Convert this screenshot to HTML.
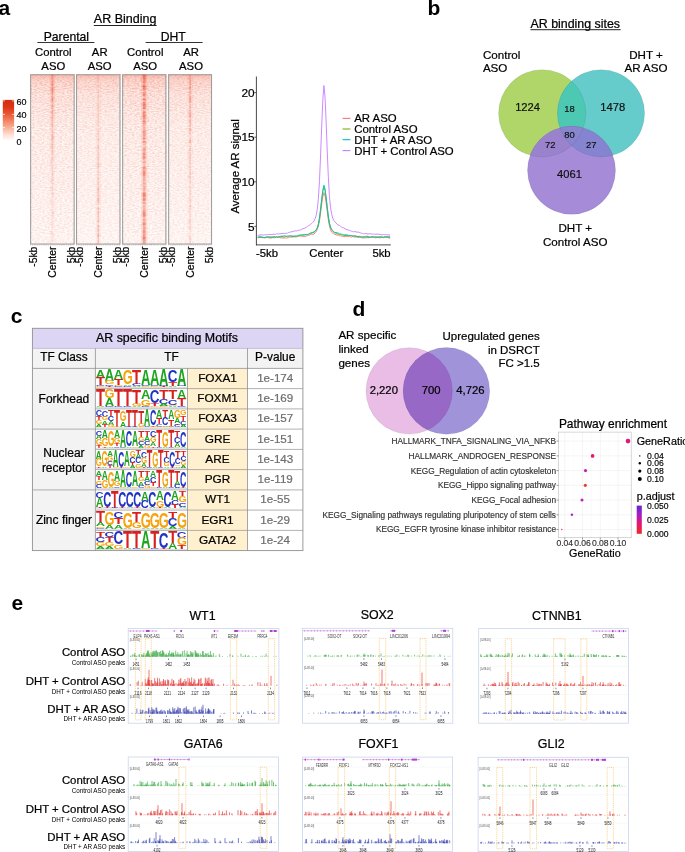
<!DOCTYPE html>
<html><head><meta charset="utf-8"><style>
html,body{margin:0;padding:0;background:#fff;overflow:hidden;}
svg{display:block;font-family:"Liberation Sans", sans-serif;will-change:transform;}
</style></head><body>
<svg width="685" height="852" viewBox="0 0 685 852">
<text x="-1.50" y="14.60" font-size="21" font-weight="bold">a</text>
<text x="427.60" y="15.00" font-size="21" font-weight="bold">b</text>
<text x="10.80" y="322.60" font-size="21" font-weight="bold">c</text>
<text x="352.60" y="315.70" font-size="21" font-weight="bold">d</text>
<text x="11.60" y="609.80" font-size="21" font-weight="bold">e</text>
<text x="93.80" y="23.20" font-size="12.5" stroke="#000" stroke-width="0.24">AR Binding</text>
<rect x="93.8" y="25" width="62.8" height="1" fill="#222"/>
<text x="66.40" y="40.80" font-size="12.2" text-anchor="middle" stroke="#000" stroke-width="0.23">Parental</text>
<rect x="37.4" y="42" width="57" height="1" fill="#333"/>
<text x="173.20" y="40.80" font-size="12.2" text-anchor="middle" stroke="#000" stroke-width="0.23">DHT</text>
<rect x="145.6" y="42" width="57" height="1" fill="#333"/>
<text x="53.30" y="56.40" font-size="11.3" text-anchor="middle" stroke="#000" stroke-width="0.22">Control</text>
<text x="53.30" y="69.90" font-size="11.3" text-anchor="middle" stroke="#000" stroke-width="0.22">ASO</text>
<text x="99.70" y="56.40" font-size="11.3" text-anchor="middle" stroke="#000" stroke-width="0.22">AR</text>
<text x="99.70" y="69.90" font-size="11.3" text-anchor="middle" stroke="#000" stroke-width="0.22">ASO</text>
<text x="145.20" y="56.40" font-size="11.3" text-anchor="middle" stroke="#000" stroke-width="0.22">Control</text>
<text x="145.20" y="69.90" font-size="11.3" text-anchor="middle" stroke="#000" stroke-width="0.22">ASO</text>
<text x="191.00" y="56.40" font-size="11.3" text-anchor="middle" stroke="#000" stroke-width="0.22">AR</text>
<text x="191.00" y="69.90" font-size="11.3" text-anchor="middle" stroke="#000" stroke-width="0.22">ASO</text>
<defs>
<filter id="hn" x="0" y="0" width="1" height="1" color-interpolation-filters="sRGB">
<feTurbulence type="fractalNoise" baseFrequency="0.4 0.95" numOctaves="2" seed="4" result="t"/>
<feColorMatrix in="t" type="matrix" values="0 0 0 0 0.94  0 0 0 0 0.42  0 0 0 0 0.32  2.6 0 0 0 -0.95"/>
</filter>
<filter id="bb" x="-1" y="-0.1" width="3" height="1.2"><feGaussianBlur stdDeviation="0.7 0.25"/></filter>
<linearGradient id="hv" x1="0" y1="0" x2="0" y2="1">
<stop offset="0" stop-color="#ee5a40" stop-opacity="0.34"/>
<stop offset="0.035" stop-color="#ee5a40" stop-opacity="0.17"/>
<stop offset="0.12" stop-color="#ee5a40" stop-opacity="0.08"/>
<stop offset="0.3" stop-color="#ee5a40" stop-opacity="0.03"/>
<stop offset="0.6" stop-color="#ee5a40" stop-opacity="0.02"/>
<stop offset="1" stop-color="#ee5a40" stop-opacity="0.0"/>
</linearGradient>
<linearGradient id="wf" x1="0" y1="0" x2="0" y2="1">
<stop offset="0" stop-color="#fff" stop-opacity="0.0"/>
<stop offset="0.12" stop-color="#fff" stop-opacity="0.15"/>
<stop offset="0.4" stop-color="#fff" stop-opacity="0.35"/>
<stop offset="1" stop-color="#fff" stop-opacity="0.5"/>
</linearGradient>
<linearGradient id="cb" x1="0" y1="0" x2="0" y2="1">
<stop offset="0" stop-color="#d42a12"/>
<stop offset="0.18" stop-color="#dc3617"/>
<stop offset="0.35" stop-color="#ea5a33"/>
<stop offset="0.62" stop-color="#f7a083"/>
<stop offset="0.85" stop-color="#fde0d6"/>
<stop offset="1" stop-color="#ffffff"/>
</linearGradient>
</defs>
<rect x="30.3" y="74.4" width="44.2" height="170.0" fill="#fef7f4"/>
<rect x="30.3" y="74.4" width="44.2" height="170.0" filter="url(#hn)" opacity="0.34"/>
<rect x="30.3" y="74.4" width="44.2" height="170.0" fill="url(#wf)"/>
<rect x="30.3" y="74.4" width="44.2" height="170.0" fill="url(#hv)"/>
<g filter="url(#bb)">
<rect x="51.5" y="74.4" width="1.8" height="2.0" fill="#ec4a30" opacity="0.60"/>
<rect x="49.7" y="74.4" width="5.4" height="2.0" fill="#ee6a50" opacity="0.20"/>
<rect x="51.5" y="76.4" width="1.8" height="1.4" fill="#ec4a30" opacity="0.33"/>
<rect x="49.7" y="76.4" width="5.4" height="1.4" fill="#ee6a50" opacity="0.11"/>
<rect x="51.5" y="77.8" width="1.8" height="1.5" fill="#ec4a30" opacity="0.40"/>
<rect x="49.7" y="77.8" width="5.4" height="1.5" fill="#ee6a50" opacity="0.13"/>
<rect x="51.5" y="79.3" width="1.8" height="1.9" fill="#ec4a30" opacity="0.34"/>
<rect x="49.7" y="79.3" width="5.4" height="1.9" fill="#ee6a50" opacity="0.11"/>
<rect x="51.5" y="81.2" width="1.8" height="1.5" fill="#ec4a30" opacity="0.46"/>
<rect x="49.7" y="81.2" width="5.4" height="1.5" fill="#ee6a50" opacity="0.15"/>
<rect x="51.5" y="82.7" width="1.8" height="2.1" fill="#ec4a30" opacity="0.42"/>
<rect x="49.7" y="82.7" width="5.4" height="2.1" fill="#ee6a50" opacity="0.14"/>
<rect x="51.5" y="84.7" width="1.8" height="1.2" fill="#ec4a30" opacity="0.52"/>
<rect x="49.7" y="84.7" width="5.4" height="1.2" fill="#ee6a50" opacity="0.17"/>
<rect x="51.5" y="85.9" width="1.8" height="1.7" fill="#ec4a30" opacity="0.29"/>
<rect x="49.7" y="85.9" width="5.4" height="1.7" fill="#ee6a50" opacity="0.10"/>
<rect x="51.5" y="87.6" width="1.8" height="2.1" fill="#ec4a30" opacity="0.60"/>
<rect x="49.7" y="87.6" width="5.4" height="2.1" fill="#ee6a50" opacity="0.20"/>
<rect x="51.5" y="89.7" width="1.8" height="1.9" fill="#ec4a30" opacity="0.55"/>
<rect x="49.7" y="89.7" width="5.4" height="1.9" fill="#ee6a50" opacity="0.18"/>
<rect x="51.5" y="91.6" width="1.8" height="1.2" fill="#ec4a30" opacity="0.46"/>
<rect x="49.7" y="91.6" width="5.4" height="1.2" fill="#ee6a50" opacity="0.15"/>
<rect x="51.5" y="92.8" width="1.8" height="2.1" fill="#ec4a30" opacity="0.44"/>
<rect x="49.7" y="92.8" width="5.4" height="2.1" fill="#ee6a50" opacity="0.14"/>
<rect x="51.5" y="94.9" width="1.8" height="1.5" fill="#ec4a30" opacity="0.20"/>
<rect x="49.7" y="94.9" width="5.4" height="1.5" fill="#ee6a50" opacity="0.07"/>
<rect x="51.5" y="96.3" width="1.8" height="1.4" fill="#ec4a30" opacity="0.39"/>
<rect x="49.7" y="96.3" width="5.4" height="1.4" fill="#ee6a50" opacity="0.13"/>
<rect x="51.5" y="97.8" width="1.8" height="2.1" fill="#ec4a30" opacity="0.51"/>
<rect x="49.7" y="97.8" width="5.4" height="2.1" fill="#ee6a50" opacity="0.17"/>
<rect x="51.5" y="99.8" width="1.8" height="1.5" fill="#ec4a30" opacity="0.46"/>
<rect x="49.7" y="99.8" width="5.4" height="1.5" fill="#ee6a50" opacity="0.15"/>
<rect x="51.5" y="101.3" width="1.8" height="1.2" fill="#ec4a30" opacity="0.43"/>
<rect x="49.7" y="101.3" width="5.4" height="1.2" fill="#ee6a50" opacity="0.14"/>
<rect x="51.5" y="102.5" width="1.8" height="1.6" fill="#ec4a30" opacity="0.15"/>
<rect x="49.7" y="102.5" width="5.4" height="1.6" fill="#ee6a50" opacity="0.05"/>
<rect x="51.5" y="104.0" width="1.8" height="1.8" fill="#ec4a30" opacity="0.28"/>
<rect x="49.7" y="104.0" width="5.4" height="1.8" fill="#ee6a50" opacity="0.09"/>
<rect x="51.5" y="105.8" width="1.8" height="2.0" fill="#ec4a30" opacity="0.36"/>
<rect x="49.7" y="105.8" width="5.4" height="2.0" fill="#ee6a50" opacity="0.12"/>
<rect x="51.5" y="107.8" width="1.8" height="0.8" fill="#ec4a30" opacity="0.30"/>
<rect x="49.7" y="107.8" width="5.4" height="0.8" fill="#ee6a50" opacity="0.10"/>
<rect x="51.5" y="108.6" width="1.8" height="2.0" fill="#ec4a30" opacity="0.21"/>
<rect x="49.7" y="108.6" width="5.4" height="2.0" fill="#ee6a50" opacity="0.07"/>
<rect x="51.5" y="110.6" width="1.8" height="1.3" fill="#ec4a30" opacity="0.40"/>
<rect x="49.7" y="110.6" width="5.4" height="1.3" fill="#ee6a50" opacity="0.13"/>
<rect x="51.5" y="111.9" width="1.8" height="1.1" fill="#ec4a30" opacity="0.30"/>
<rect x="49.7" y="111.9" width="5.4" height="1.1" fill="#ee6a50" opacity="0.10"/>
<rect x="51.5" y="112.9" width="1.8" height="1.1" fill="#ec4a30" opacity="0.42"/>
<rect x="49.7" y="112.9" width="5.4" height="1.1" fill="#ee6a50" opacity="0.14"/>
<rect x="51.5" y="114.1" width="1.8" height="1.9" fill="#ec4a30" opacity="0.26"/>
<rect x="49.7" y="114.1" width="5.4" height="1.9" fill="#ee6a50" opacity="0.09"/>
<rect x="51.5" y="116.0" width="1.8" height="0.9" fill="#ec4a30" opacity="0.21"/>
<rect x="49.7" y="116.0" width="5.4" height="0.9" fill="#ee6a50" opacity="0.07"/>
<rect x="51.5" y="116.9" width="1.8" height="1.5" fill="#ec4a30" opacity="0.39"/>
<rect x="49.7" y="116.9" width="5.4" height="1.5" fill="#ee6a50" opacity="0.13"/>
<rect x="51.5" y="118.4" width="1.8" height="1.0" fill="#ec4a30" opacity="0.27"/>
<rect x="49.7" y="118.4" width="5.4" height="1.0" fill="#ee6a50" opacity="0.09"/>
<rect x="51.5" y="119.4" width="1.8" height="1.8" fill="#ec4a30" opacity="0.27"/>
<rect x="49.7" y="119.4" width="5.4" height="1.8" fill="#ee6a50" opacity="0.09"/>
<rect x="51.5" y="121.2" width="1.8" height="1.9" fill="#ec4a30" opacity="0.26"/>
<rect x="49.7" y="121.2" width="5.4" height="1.9" fill="#ee6a50" opacity="0.09"/>
<rect x="51.5" y="123.1" width="1.8" height="2.1" fill="#ec4a30" opacity="0.27"/>
<rect x="49.7" y="123.1" width="5.4" height="2.1" fill="#ee6a50" opacity="0.09"/>
<rect x="51.5" y="125.2" width="1.8" height="1.6" fill="#ec4a30" opacity="0.22"/>
<rect x="49.7" y="125.2" width="5.4" height="1.6" fill="#ee6a50" opacity="0.07"/>
<rect x="51.5" y="126.9" width="1.8" height="1.6" fill="#ec4a30" opacity="0.20"/>
<rect x="49.7" y="126.9" width="5.4" height="1.6" fill="#ee6a50" opacity="0.07"/>
<rect x="51.5" y="128.5" width="1.8" height="1.6" fill="#ec4a30" opacity="0.18"/>
<rect x="49.7" y="128.5" width="5.4" height="1.6" fill="#ee6a50" opacity="0.06"/>
<rect x="51.5" y="130.1" width="1.8" height="1.1" fill="#ec4a30" opacity="0.15"/>
<rect x="49.7" y="130.1" width="5.4" height="1.1" fill="#ee6a50" opacity="0.05"/>
<rect x="51.5" y="131.2" width="1.8" height="1.7" fill="#ec4a30" opacity="0.26"/>
<rect x="49.7" y="131.2" width="5.4" height="1.7" fill="#ee6a50" opacity="0.09"/>
<rect x="51.5" y="132.8" width="1.8" height="1.5" fill="#ec4a30" opacity="0.12"/>
<rect x="49.7" y="132.8" width="5.4" height="1.5" fill="#ee6a50" opacity="0.04"/>
<rect x="51.5" y="134.3" width="1.8" height="1.9" fill="#ec4a30" opacity="0.30"/>
<rect x="49.7" y="134.3" width="5.4" height="1.9" fill="#ee6a50" opacity="0.10"/>
<rect x="51.5" y="136.2" width="1.8" height="2.1" fill="#ec4a30" opacity="0.29"/>
<rect x="49.7" y="136.2" width="5.4" height="2.1" fill="#ee6a50" opacity="0.09"/>
<rect x="51.5" y="138.3" width="1.8" height="2.1" fill="#ec4a30" opacity="0.30"/>
<rect x="49.7" y="138.3" width="5.4" height="2.1" fill="#ee6a50" opacity="0.10"/>
<rect x="51.5" y="140.3" width="1.8" height="1.6" fill="#ec4a30" opacity="0.17"/>
<rect x="49.7" y="140.3" width="5.4" height="1.6" fill="#ee6a50" opacity="0.06"/>
<rect x="51.5" y="141.9" width="1.8" height="1.8" fill="#ec4a30" opacity="0.15"/>
<rect x="49.7" y="141.9" width="5.4" height="1.8" fill="#ee6a50" opacity="0.05"/>
<rect x="51.5" y="143.7" width="1.8" height="1.9" fill="#ec4a30" opacity="0.26"/>
<rect x="49.7" y="143.7" width="5.4" height="1.9" fill="#ee6a50" opacity="0.09"/>
<rect x="51.5" y="145.6" width="1.8" height="2.1" fill="#ec4a30" opacity="0.20"/>
<rect x="49.7" y="145.6" width="5.4" height="2.1" fill="#ee6a50" opacity="0.07"/>
<rect x="51.5" y="147.6" width="1.8" height="2.1" fill="#ec4a30" opacity="0.20"/>
<rect x="49.7" y="147.6" width="5.4" height="2.1" fill="#ee6a50" opacity="0.06"/>
<rect x="51.5" y="149.8" width="1.8" height="1.4" fill="#ec4a30" opacity="0.21"/>
<rect x="49.7" y="149.8" width="5.4" height="1.4" fill="#ee6a50" opacity="0.07"/>
<rect x="51.5" y="151.2" width="1.8" height="2.2" fill="#ec4a30" opacity="0.25"/>
<rect x="49.7" y="151.2" width="5.4" height="2.2" fill="#ee6a50" opacity="0.08"/>
<rect x="51.5" y="153.4" width="1.8" height="1.9" fill="#ec4a30" opacity="0.09"/>
<rect x="49.7" y="153.4" width="5.4" height="1.9" fill="#ee6a50" opacity="0.03"/>
<rect x="51.5" y="155.3" width="1.8" height="1.7" fill="#ec4a30" opacity="0.16"/>
<rect x="49.7" y="155.3" width="5.4" height="1.7" fill="#ee6a50" opacity="0.05"/>
<rect x="51.5" y="157.0" width="1.8" height="1.7" fill="#ec4a30" opacity="0.22"/>
<rect x="49.7" y="157.0" width="5.4" height="1.7" fill="#ee6a50" opacity="0.07"/>
<rect x="51.5" y="158.7" width="1.8" height="1.1" fill="#ec4a30" opacity="0.20"/>
<rect x="49.7" y="158.7" width="5.4" height="1.1" fill="#ee6a50" opacity="0.07"/>
<rect x="51.5" y="159.8" width="1.8" height="1.0" fill="#ec4a30" opacity="0.11"/>
<rect x="49.7" y="159.8" width="5.4" height="1.0" fill="#ee6a50" opacity="0.04"/>
<rect x="51.5" y="160.8" width="1.8" height="1.9" fill="#ec4a30" opacity="0.13"/>
<rect x="49.7" y="160.8" width="5.4" height="1.9" fill="#ee6a50" opacity="0.04"/>
<rect x="51.5" y="162.7" width="1.8" height="1.9" fill="#ec4a30" opacity="0.09"/>
<rect x="49.7" y="162.7" width="5.4" height="1.9" fill="#ee6a50" opacity="0.03"/>
<rect x="51.5" y="164.6" width="1.8" height="1.0" fill="#ec4a30" opacity="0.18"/>
<rect x="49.7" y="164.6" width="5.4" height="1.0" fill="#ee6a50" opacity="0.06"/>
<rect x="51.5" y="165.6" width="1.8" height="0.9" fill="#ec4a30" opacity="0.16"/>
<rect x="49.7" y="165.6" width="5.4" height="0.9" fill="#ee6a50" opacity="0.05"/>
<rect x="51.5" y="166.5" width="1.8" height="2.1" fill="#ec4a30" opacity="0.15"/>
<rect x="49.7" y="166.5" width="5.4" height="2.1" fill="#ee6a50" opacity="0.05"/>
<rect x="51.5" y="168.6" width="1.8" height="1.8" fill="#ec4a30" opacity="0.07"/>
<rect x="49.7" y="168.6" width="5.4" height="1.8" fill="#ee6a50" opacity="0.02"/>
<rect x="51.5" y="170.3" width="1.8" height="1.7" fill="#ec4a30" opacity="0.16"/>
<rect x="49.7" y="170.3" width="5.4" height="1.7" fill="#ee6a50" opacity="0.05"/>
<rect x="51.5" y="172.0" width="1.8" height="1.6" fill="#ec4a30" opacity="0.12"/>
<rect x="49.7" y="172.0" width="5.4" height="1.6" fill="#ee6a50" opacity="0.04"/>
<rect x="51.5" y="173.6" width="1.8" height="1.3" fill="#ec4a30" opacity="0.21"/>
<rect x="49.7" y="173.6" width="5.4" height="1.3" fill="#ee6a50" opacity="0.07"/>
<rect x="51.5" y="174.9" width="1.8" height="0.9" fill="#ec4a30" opacity="0.06"/>
<rect x="49.7" y="174.9" width="5.4" height="0.9" fill="#ee6a50" opacity="0.02"/>
<rect x="51.5" y="175.8" width="1.8" height="2.1" fill="#ec4a30" opacity="0.09"/>
<rect x="49.7" y="175.8" width="5.4" height="2.1" fill="#ee6a50" opacity="0.03"/>
<rect x="51.5" y="177.9" width="1.8" height="1.0" fill="#ec4a30" opacity="0.09"/>
<rect x="49.7" y="177.9" width="5.4" height="1.0" fill="#ee6a50" opacity="0.03"/>
<rect x="51.5" y="178.9" width="1.8" height="1.9" fill="#ec4a30" opacity="0.19"/>
<rect x="49.7" y="178.9" width="5.4" height="1.9" fill="#ee6a50" opacity="0.06"/>
<rect x="51.5" y="180.8" width="1.8" height="0.8" fill="#ec4a30" opacity="0.12"/>
<rect x="49.7" y="180.8" width="5.4" height="0.8" fill="#ee6a50" opacity="0.04"/>
<rect x="51.5" y="181.6" width="1.8" height="0.9" fill="#ec4a30" opacity="0.09"/>
<rect x="49.7" y="181.6" width="5.4" height="0.9" fill="#ee6a50" opacity="0.03"/>
<rect x="51.5" y="182.6" width="1.8" height="1.1" fill="#ec4a30" opacity="0.14"/>
<rect x="49.7" y="182.6" width="5.4" height="1.1" fill="#ee6a50" opacity="0.05"/>
<rect x="51.5" y="183.7" width="1.8" height="1.3" fill="#ec4a30" opacity="0.08"/>
<rect x="49.7" y="183.7" width="5.4" height="1.3" fill="#ee6a50" opacity="0.03"/>
<rect x="51.5" y="185.0" width="1.8" height="1.5" fill="#ec4a30" opacity="0.06"/>
<rect x="49.7" y="185.0" width="5.4" height="1.5" fill="#ee6a50" opacity="0.02"/>
<rect x="51.5" y="186.5" width="1.8" height="0.9" fill="#ec4a30" opacity="0.18"/>
<rect x="49.7" y="186.5" width="5.4" height="0.9" fill="#ee6a50" opacity="0.06"/>
<rect x="51.5" y="187.4" width="1.8" height="1.1" fill="#ec4a30" opacity="0.10"/>
<rect x="49.7" y="187.4" width="5.4" height="1.1" fill="#ee6a50" opacity="0.03"/>
<rect x="51.5" y="188.5" width="1.8" height="1.8" fill="#ec4a30" opacity="0.16"/>
<rect x="49.7" y="188.5" width="5.4" height="1.8" fill="#ee6a50" opacity="0.05"/>
<rect x="51.5" y="190.3" width="1.8" height="2.1" fill="#ec4a30" opacity="0.07"/>
<rect x="49.7" y="190.3" width="5.4" height="2.1" fill="#ee6a50" opacity="0.02"/>
<rect x="51.5" y="192.4" width="1.8" height="1.7" fill="#ec4a30" opacity="0.17"/>
<rect x="49.7" y="192.4" width="5.4" height="1.7" fill="#ee6a50" opacity="0.06"/>
<rect x="51.5" y="194.2" width="1.8" height="0.9" fill="#ec4a30" opacity="0.13"/>
<rect x="49.7" y="194.2" width="5.4" height="0.9" fill="#ee6a50" opacity="0.04"/>
<rect x="51.5" y="195.0" width="1.8" height="2.0" fill="#ec4a30" opacity="0.09"/>
<rect x="49.7" y="195.0" width="5.4" height="2.0" fill="#ee6a50" opacity="0.03"/>
<rect x="51.5" y="197.0" width="1.8" height="1.2" fill="#ec4a30" opacity="0.12"/>
<rect x="49.7" y="197.0" width="5.4" height="1.2" fill="#ee6a50" opacity="0.04"/>
<rect x="51.5" y="198.2" width="1.8" height="1.4" fill="#ec4a30" opacity="0.07"/>
<rect x="49.7" y="198.2" width="5.4" height="1.4" fill="#ee6a50" opacity="0.02"/>
<rect x="51.5" y="199.6" width="1.8" height="1.5" fill="#ec4a30" opacity="0.09"/>
<rect x="49.7" y="199.6" width="5.4" height="1.5" fill="#ee6a50" opacity="0.03"/>
<rect x="51.5" y="201.1" width="1.8" height="1.6" fill="#ec4a30" opacity="0.10"/>
<rect x="49.7" y="201.1" width="5.4" height="1.6" fill="#ee6a50" opacity="0.03"/>
<rect x="51.5" y="202.7" width="1.8" height="1.2" fill="#ec4a30" opacity="0.09"/>
<rect x="49.7" y="202.7" width="5.4" height="1.2" fill="#ee6a50" opacity="0.03"/>
<rect x="51.5" y="203.9" width="1.8" height="2.0" fill="#ec4a30" opacity="0.07"/>
<rect x="49.7" y="203.9" width="5.4" height="2.0" fill="#ee6a50" opacity="0.02"/>
<rect x="51.5" y="205.9" width="1.8" height="1.6" fill="#ec4a30" opacity="0.05"/>
<rect x="49.7" y="205.9" width="5.4" height="1.6" fill="#ee6a50" opacity="0.02"/>
<rect x="51.5" y="207.4" width="1.8" height="1.8" fill="#ec4a30" opacity="0.08"/>
<rect x="49.7" y="207.4" width="5.4" height="1.8" fill="#ee6a50" opacity="0.03"/>
<rect x="51.5" y="209.3" width="1.8" height="0.9" fill="#ec4a30" opacity="0.07"/>
<rect x="49.7" y="209.3" width="5.4" height="0.9" fill="#ee6a50" opacity="0.02"/>
<rect x="51.5" y="210.1" width="1.8" height="1.1" fill="#ec4a30" opacity="0.14"/>
<rect x="49.7" y="210.1" width="5.4" height="1.1" fill="#ee6a50" opacity="0.05"/>
<rect x="51.5" y="211.3" width="1.8" height="1.3" fill="#ec4a30" opacity="0.07"/>
<rect x="49.7" y="211.3" width="5.4" height="1.3" fill="#ee6a50" opacity="0.02"/>
<rect x="51.5" y="212.6" width="1.8" height="1.3" fill="#ec4a30" opacity="0.14"/>
<rect x="49.7" y="212.6" width="5.4" height="1.3" fill="#ee6a50" opacity="0.05"/>
<rect x="51.5" y="213.9" width="1.8" height="1.7" fill="#ec4a30" opacity="0.11"/>
<rect x="49.7" y="213.9" width="5.4" height="1.7" fill="#ee6a50" opacity="0.03"/>
<rect x="51.5" y="215.6" width="1.8" height="1.8" fill="#ec4a30" opacity="0.08"/>
<rect x="49.7" y="215.6" width="5.4" height="1.8" fill="#ee6a50" opacity="0.03"/>
<rect x="51.5" y="217.4" width="1.8" height="1.4" fill="#ec4a30" opacity="0.11"/>
<rect x="49.7" y="217.4" width="5.4" height="1.4" fill="#ee6a50" opacity="0.03"/>
<rect x="51.5" y="218.7" width="1.8" height="0.8" fill="#ec4a30" opacity="0.06"/>
<rect x="49.7" y="218.7" width="5.4" height="0.8" fill="#ee6a50" opacity="0.02"/>
<rect x="51.5" y="219.6" width="1.8" height="1.3" fill="#ec4a30" opacity="0.06"/>
<rect x="49.7" y="219.6" width="5.4" height="1.3" fill="#ee6a50" opacity="0.02"/>
<rect x="51.5" y="220.8" width="1.8" height="1.7" fill="#ec4a30" opacity="0.08"/>
<rect x="49.7" y="220.8" width="5.4" height="1.7" fill="#ee6a50" opacity="0.03"/>
<rect x="51.5" y="222.5" width="1.8" height="2.0" fill="#ec4a30" opacity="0.09"/>
<rect x="49.7" y="222.5" width="5.4" height="2.0" fill="#ee6a50" opacity="0.03"/>
<rect x="51.5" y="224.5" width="1.8" height="1.4" fill="#ec4a30" opacity="0.08"/>
<rect x="49.7" y="224.5" width="5.4" height="1.4" fill="#ee6a50" opacity="0.03"/>
<rect x="51.5" y="225.9" width="1.8" height="1.8" fill="#ec4a30" opacity="0.08"/>
<rect x="49.7" y="225.9" width="5.4" height="1.8" fill="#ee6a50" opacity="0.03"/>
<rect x="51.5" y="227.7" width="1.8" height="1.7" fill="#ec4a30" opacity="0.04"/>
<rect x="49.7" y="227.7" width="5.4" height="1.7" fill="#ee6a50" opacity="0.01"/>
<rect x="51.5" y="229.4" width="1.8" height="1.4" fill="#ec4a30" opacity="0.06"/>
<rect x="49.7" y="229.4" width="5.4" height="1.4" fill="#ee6a50" opacity="0.02"/>
<rect x="51.5" y="230.9" width="1.8" height="1.0" fill="#ec4a30" opacity="0.08"/>
<rect x="49.7" y="230.9" width="5.4" height="1.0" fill="#ee6a50" opacity="0.03"/>
<rect x="51.5" y="231.9" width="1.8" height="1.5" fill="#ec4a30" opacity="0.09"/>
<rect x="49.7" y="231.9" width="5.4" height="1.5" fill="#ee6a50" opacity="0.03"/>
<rect x="51.5" y="233.4" width="1.8" height="1.9" fill="#ec4a30" opacity="0.11"/>
<rect x="49.7" y="233.4" width="5.4" height="1.9" fill="#ee6a50" opacity="0.04"/>
<rect x="51.5" y="235.2" width="1.8" height="1.5" fill="#ec4a30" opacity="0.06"/>
<rect x="49.7" y="235.2" width="5.4" height="1.5" fill="#ee6a50" opacity="0.02"/>
<rect x="51.5" y="236.7" width="1.8" height="1.5" fill="#ec4a30" opacity="0.10"/>
<rect x="49.7" y="236.7" width="5.4" height="1.5" fill="#ee6a50" opacity="0.03"/>
<rect x="51.5" y="238.2" width="1.8" height="2.0" fill="#ec4a30" opacity="0.10"/>
<rect x="49.7" y="238.2" width="5.4" height="2.0" fill="#ee6a50" opacity="0.03"/>
<rect x="51.5" y="240.2" width="1.8" height="1.1" fill="#ec4a30" opacity="0.12"/>
<rect x="49.7" y="240.2" width="5.4" height="1.1" fill="#ee6a50" opacity="0.04"/>
<rect x="51.5" y="241.2" width="1.8" height="1.7" fill="#ec4a30" opacity="0.04"/>
<rect x="49.7" y="241.2" width="5.4" height="1.7" fill="#ee6a50" opacity="0.01"/>
<rect x="51.5" y="242.9" width="1.8" height="1.5" fill="#ec4a30" opacity="0.11"/>
<rect x="49.7" y="242.9" width="5.4" height="1.5" fill="#ee6a50" opacity="0.04"/>
</g>
<rect x="30.650000000000002" y="74.75" width="43.5" height="169.3" fill="none" stroke="#9d9d9d" stroke-width="1.05"/>
<line x1="30.3" y1="245.20000000000002" x2="74.5" y2="245.20000000000002" stroke="#999" stroke-width="0.6" stroke-dasharray="0.6 1.2"/>
<text transform="translate(37.3,246.6) rotate(-90)" font-size="10.4" text-anchor="end" stroke="#000" stroke-width="0.2">-5kb</text>
<text transform="translate(56.3,246.6) rotate(-90)" font-size="10.4" text-anchor="end" stroke="#000" stroke-width="0.2">Center</text>
<text transform="translate(75.4,246.6) rotate(-90)" font-size="10.4" text-anchor="end" stroke="#000" stroke-width="0.2">5kb</text>
<rect x="76.2" y="74.4" width="44.1" height="170.0" fill="#fef7f4"/>
<rect x="76.2" y="74.4" width="44.1" height="170.0" filter="url(#hn)" opacity="0.28"/>
<rect x="76.2" y="74.4" width="44.1" height="170.0" fill="url(#wf)"/>
<rect x="76.2" y="74.4" width="44.1" height="170.0" fill="url(#hv)"/>
<g filter="url(#bb)">
<rect x="97.5" y="74.4" width="1.6" height="1.0" fill="#ec4a30" opacity="0.14"/>
<rect x="95.7" y="74.4" width="5.2" height="1.0" fill="#ee6a50" opacity="0.05"/>
<rect x="97.5" y="75.4" width="1.6" height="1.9" fill="#ec4a30" opacity="0.08"/>
<rect x="95.7" y="75.4" width="5.2" height="1.9" fill="#ee6a50" opacity="0.02"/>
<rect x="97.5" y="77.3" width="1.6" height="1.5" fill="#ec4a30" opacity="0.10"/>
<rect x="95.7" y="77.3" width="5.2" height="1.5" fill="#ee6a50" opacity="0.03"/>
<rect x="97.5" y="78.8" width="1.6" height="1.7" fill="#ec4a30" opacity="0.14"/>
<rect x="95.7" y="78.8" width="5.2" height="1.7" fill="#ee6a50" opacity="0.05"/>
<rect x="97.5" y="80.5" width="1.6" height="0.9" fill="#ec4a30" opacity="0.05"/>
<rect x="95.7" y="80.5" width="5.2" height="0.9" fill="#ee6a50" opacity="0.02"/>
<rect x="97.5" y="81.4" width="1.6" height="2.0" fill="#ec4a30" opacity="0.10"/>
<rect x="95.7" y="81.4" width="5.2" height="2.0" fill="#ee6a50" opacity="0.03"/>
<rect x="97.5" y="83.4" width="1.6" height="1.9" fill="#ec4a30" opacity="0.05"/>
<rect x="95.7" y="83.4" width="5.2" height="1.9" fill="#ee6a50" opacity="0.02"/>
<rect x="97.5" y="85.2" width="1.6" height="1.4" fill="#ec4a30" opacity="0.14"/>
<rect x="95.7" y="85.2" width="5.2" height="1.4" fill="#ee6a50" opacity="0.05"/>
<rect x="97.5" y="86.7" width="1.6" height="1.1" fill="#ec4a30" opacity="0.17"/>
<rect x="95.7" y="86.7" width="5.2" height="1.1" fill="#ee6a50" opacity="0.06"/>
<rect x="97.5" y="87.8" width="1.6" height="2.1" fill="#ec4a30" opacity="0.06"/>
<rect x="95.7" y="87.8" width="5.2" height="2.1" fill="#ee6a50" opacity="0.02"/>
<rect x="97.5" y="89.8" width="1.6" height="0.8" fill="#ec4a30" opacity="0.12"/>
<rect x="95.7" y="89.8" width="5.2" height="0.8" fill="#ee6a50" opacity="0.04"/>
<rect x="97.5" y="90.7" width="1.6" height="2.1" fill="#ec4a30" opacity="0.10"/>
<rect x="95.7" y="90.7" width="5.2" height="2.1" fill="#ee6a50" opacity="0.03"/>
<rect x="97.5" y="92.8" width="1.6" height="1.1" fill="#ec4a30" opacity="0.11"/>
<rect x="95.7" y="92.8" width="5.2" height="1.1" fill="#ee6a50" opacity="0.04"/>
<rect x="97.5" y="93.9" width="1.6" height="0.8" fill="#ec4a30" opacity="0.08"/>
<rect x="95.7" y="93.9" width="5.2" height="0.8" fill="#ee6a50" opacity="0.03"/>
<rect x="97.5" y="94.7" width="1.6" height="1.4" fill="#ec4a30" opacity="0.12"/>
<rect x="95.7" y="94.7" width="5.2" height="1.4" fill="#ee6a50" opacity="0.04"/>
<rect x="97.5" y="96.1" width="1.6" height="1.1" fill="#ec4a30" opacity="0.09"/>
<rect x="95.7" y="96.1" width="5.2" height="1.1" fill="#ee6a50" opacity="0.03"/>
<rect x="97.5" y="97.3" width="1.6" height="1.1" fill="#ec4a30" opacity="0.12"/>
<rect x="95.7" y="97.3" width="5.2" height="1.1" fill="#ee6a50" opacity="0.04"/>
<rect x="97.5" y="98.4" width="1.6" height="1.2" fill="#ec4a30" opacity="0.06"/>
<rect x="95.7" y="98.4" width="5.2" height="1.2" fill="#ee6a50" opacity="0.02"/>
<rect x="97.5" y="99.6" width="1.6" height="2.0" fill="#ec4a30" opacity="0.13"/>
<rect x="95.7" y="99.6" width="5.2" height="2.0" fill="#ee6a50" opacity="0.04"/>
<rect x="97.5" y="101.6" width="1.6" height="1.7" fill="#ec4a30" opacity="0.08"/>
<rect x="95.7" y="101.6" width="5.2" height="1.7" fill="#ee6a50" opacity="0.03"/>
<rect x="97.5" y="103.3" width="1.6" height="2.2" fill="#ec4a30" opacity="0.18"/>
<rect x="95.7" y="103.3" width="5.2" height="2.2" fill="#ee6a50" opacity="0.06"/>
<rect x="97.5" y="105.4" width="1.6" height="1.0" fill="#ec4a30" opacity="0.11"/>
<rect x="95.7" y="105.4" width="5.2" height="1.0" fill="#ee6a50" opacity="0.03"/>
<rect x="97.5" y="106.4" width="1.6" height="1.8" fill="#ec4a30" opacity="0.16"/>
<rect x="95.7" y="106.4" width="5.2" height="1.8" fill="#ee6a50" opacity="0.05"/>
<rect x="97.5" y="108.2" width="1.6" height="2.1" fill="#ec4a30" opacity="0.12"/>
<rect x="95.7" y="108.2" width="5.2" height="2.1" fill="#ee6a50" opacity="0.04"/>
<rect x="97.5" y="110.3" width="1.6" height="2.0" fill="#ec4a30" opacity="0.16"/>
<rect x="95.7" y="110.3" width="5.2" height="2.0" fill="#ee6a50" opacity="0.05"/>
<rect x="97.5" y="112.3" width="1.6" height="1.2" fill="#ec4a30" opacity="0.15"/>
<rect x="95.7" y="112.3" width="5.2" height="1.2" fill="#ee6a50" opacity="0.05"/>
<rect x="97.5" y="113.5" width="1.6" height="2.0" fill="#ec4a30" opacity="0.19"/>
<rect x="95.7" y="113.5" width="5.2" height="2.0" fill="#ee6a50" opacity="0.06"/>
<rect x="97.5" y="115.6" width="1.6" height="1.5" fill="#ec4a30" opacity="0.15"/>
<rect x="95.7" y="115.6" width="5.2" height="1.5" fill="#ee6a50" opacity="0.05"/>
<rect x="97.5" y="117.1" width="1.6" height="0.8" fill="#ec4a30" opacity="0.10"/>
<rect x="95.7" y="117.1" width="5.2" height="0.8" fill="#ee6a50" opacity="0.03"/>
<rect x="97.5" y="117.9" width="1.6" height="1.9" fill="#ec4a30" opacity="0.13"/>
<rect x="95.7" y="117.9" width="5.2" height="1.9" fill="#ee6a50" opacity="0.04"/>
<rect x="97.5" y="119.8" width="1.6" height="1.0" fill="#ec4a30" opacity="0.15"/>
<rect x="95.7" y="119.8" width="5.2" height="1.0" fill="#ee6a50" opacity="0.05"/>
<rect x="97.5" y="120.9" width="1.6" height="1.8" fill="#ec4a30" opacity="0.17"/>
<rect x="95.7" y="120.9" width="5.2" height="1.8" fill="#ee6a50" opacity="0.06"/>
<rect x="97.5" y="122.7" width="1.6" height="1.3" fill="#ec4a30" opacity="0.14"/>
<rect x="95.7" y="122.7" width="5.2" height="1.3" fill="#ee6a50" opacity="0.04"/>
<rect x="97.5" y="124.0" width="1.6" height="1.5" fill="#ec4a30" opacity="0.19"/>
<rect x="95.7" y="124.0" width="5.2" height="1.5" fill="#ee6a50" opacity="0.06"/>
<rect x="97.5" y="125.5" width="1.6" height="1.5" fill="#ec4a30" opacity="0.13"/>
<rect x="95.7" y="125.5" width="5.2" height="1.5" fill="#ee6a50" opacity="0.04"/>
<rect x="97.5" y="127.0" width="1.6" height="1.5" fill="#ec4a30" opacity="0.07"/>
<rect x="95.7" y="127.0" width="5.2" height="1.5" fill="#ee6a50" opacity="0.02"/>
<rect x="97.5" y="128.5" width="1.6" height="0.9" fill="#ec4a30" opacity="0.18"/>
<rect x="95.7" y="128.5" width="5.2" height="0.9" fill="#ee6a50" opacity="0.06"/>
<rect x="97.5" y="129.4" width="1.6" height="2.2" fill="#ec4a30" opacity="0.17"/>
<rect x="95.7" y="129.4" width="5.2" height="2.2" fill="#ee6a50" opacity="0.06"/>
<rect x="97.5" y="131.5" width="1.6" height="1.4" fill="#ec4a30" opacity="0.10"/>
<rect x="95.7" y="131.5" width="5.2" height="1.4" fill="#ee6a50" opacity="0.03"/>
<rect x="97.5" y="132.9" width="1.6" height="1.5" fill="#ec4a30" opacity="0.24"/>
<rect x="95.7" y="132.9" width="5.2" height="1.5" fill="#ee6a50" opacity="0.08"/>
<rect x="97.5" y="134.4" width="1.6" height="1.9" fill="#ec4a30" opacity="0.16"/>
<rect x="95.7" y="134.4" width="5.2" height="1.9" fill="#ee6a50" opacity="0.05"/>
<rect x="97.5" y="136.3" width="1.6" height="2.0" fill="#ec4a30" opacity="0.11"/>
<rect x="95.7" y="136.3" width="5.2" height="2.0" fill="#ee6a50" opacity="0.04"/>
<rect x="97.5" y="138.3" width="1.6" height="1.5" fill="#ec4a30" opacity="0.24"/>
<rect x="95.7" y="138.3" width="5.2" height="1.5" fill="#ee6a50" opacity="0.08"/>
<rect x="97.5" y="139.8" width="1.6" height="1.6" fill="#ec4a30" opacity="0.15"/>
<rect x="95.7" y="139.8" width="5.2" height="1.6" fill="#ee6a50" opacity="0.05"/>
<rect x="97.5" y="141.4" width="1.6" height="1.2" fill="#ec4a30" opacity="0.17"/>
<rect x="95.7" y="141.4" width="5.2" height="1.2" fill="#ee6a50" opacity="0.06"/>
<rect x="97.5" y="142.6" width="1.6" height="2.1" fill="#ec4a30" opacity="0.07"/>
<rect x="95.7" y="142.6" width="5.2" height="2.1" fill="#ee6a50" opacity="0.02"/>
<rect x="97.5" y="144.7" width="1.6" height="1.9" fill="#ec4a30" opacity="0.22"/>
<rect x="95.7" y="144.7" width="5.2" height="1.9" fill="#ee6a50" opacity="0.07"/>
<rect x="97.5" y="146.6" width="1.6" height="2.0" fill="#ec4a30" opacity="0.21"/>
<rect x="95.7" y="146.6" width="5.2" height="2.0" fill="#ee6a50" opacity="0.07"/>
<rect x="97.5" y="148.7" width="1.6" height="1.9" fill="#ec4a30" opacity="0.17"/>
<rect x="95.7" y="148.7" width="5.2" height="1.9" fill="#ee6a50" opacity="0.06"/>
<rect x="97.5" y="150.6" width="1.6" height="1.6" fill="#ec4a30" opacity="0.16"/>
<rect x="95.7" y="150.6" width="5.2" height="1.6" fill="#ee6a50" opacity="0.05"/>
<rect x="97.5" y="152.2" width="1.6" height="0.9" fill="#ec4a30" opacity="0.24"/>
<rect x="95.7" y="152.2" width="5.2" height="0.9" fill="#ee6a50" opacity="0.08"/>
<rect x="97.5" y="153.1" width="1.6" height="1.6" fill="#ec4a30" opacity="0.12"/>
<rect x="95.7" y="153.1" width="5.2" height="1.6" fill="#ee6a50" opacity="0.04"/>
<rect x="97.5" y="154.7" width="1.6" height="1.5" fill="#ec4a30" opacity="0.17"/>
<rect x="95.7" y="154.7" width="5.2" height="1.5" fill="#ee6a50" opacity="0.06"/>
<rect x="97.5" y="156.2" width="1.6" height="1.3" fill="#ec4a30" opacity="0.15"/>
<rect x="95.7" y="156.2" width="5.2" height="1.3" fill="#ee6a50" opacity="0.05"/>
<rect x="97.5" y="157.5" width="1.6" height="1.6" fill="#ec4a30" opacity="0.20"/>
<rect x="95.7" y="157.5" width="5.2" height="1.6" fill="#ee6a50" opacity="0.07"/>
<rect x="97.5" y="159.0" width="1.6" height="1.7" fill="#ec4a30" opacity="0.17"/>
<rect x="95.7" y="159.0" width="5.2" height="1.7" fill="#ee6a50" opacity="0.06"/>
<rect x="97.5" y="160.7" width="1.6" height="0.8" fill="#ec4a30" opacity="0.13"/>
<rect x="95.7" y="160.7" width="5.2" height="0.8" fill="#ee6a50" opacity="0.04"/>
<rect x="97.5" y="161.5" width="1.6" height="1.0" fill="#ec4a30" opacity="0.20"/>
<rect x="95.7" y="161.5" width="5.2" height="1.0" fill="#ee6a50" opacity="0.06"/>
<rect x="97.5" y="162.6" width="1.6" height="2.0" fill="#ec4a30" opacity="0.24"/>
<rect x="95.7" y="162.6" width="5.2" height="2.0" fill="#ee6a50" opacity="0.08"/>
<rect x="97.5" y="164.6" width="1.6" height="1.9" fill="#ec4a30" opacity="0.25"/>
<rect x="95.7" y="164.6" width="5.2" height="1.9" fill="#ee6a50" opacity="0.08"/>
<rect x="97.5" y="166.5" width="1.6" height="1.2" fill="#ec4a30" opacity="0.25"/>
<rect x="95.7" y="166.5" width="5.2" height="1.2" fill="#ee6a50" opacity="0.08"/>
<rect x="97.5" y="167.6" width="1.6" height="1.7" fill="#ec4a30" opacity="0.10"/>
<rect x="95.7" y="167.6" width="5.2" height="1.7" fill="#ee6a50" opacity="0.03"/>
<rect x="97.5" y="169.4" width="1.6" height="0.8" fill="#ec4a30" opacity="0.09"/>
<rect x="95.7" y="169.4" width="5.2" height="0.8" fill="#ee6a50" opacity="0.03"/>
<rect x="97.5" y="170.2" width="1.6" height="1.9" fill="#ec4a30" opacity="0.14"/>
<rect x="95.7" y="170.2" width="5.2" height="1.9" fill="#ee6a50" opacity="0.04"/>
<rect x="97.5" y="172.1" width="1.6" height="1.0" fill="#ec4a30" opacity="0.22"/>
<rect x="95.7" y="172.1" width="5.2" height="1.0" fill="#ee6a50" opacity="0.07"/>
<rect x="97.5" y="173.0" width="1.6" height="1.3" fill="#ec4a30" opacity="0.10"/>
<rect x="95.7" y="173.0" width="5.2" height="1.3" fill="#ee6a50" opacity="0.03"/>
<rect x="97.5" y="174.3" width="1.6" height="1.0" fill="#ec4a30" opacity="0.20"/>
<rect x="95.7" y="174.3" width="5.2" height="1.0" fill="#ee6a50" opacity="0.07"/>
<rect x="97.5" y="175.3" width="1.6" height="1.0" fill="#ec4a30" opacity="0.14"/>
<rect x="95.7" y="175.3" width="5.2" height="1.0" fill="#ee6a50" opacity="0.05"/>
<rect x="97.5" y="176.4" width="1.6" height="1.8" fill="#ec4a30" opacity="0.18"/>
<rect x="95.7" y="176.4" width="5.2" height="1.8" fill="#ee6a50" opacity="0.06"/>
<rect x="97.5" y="178.2" width="1.6" height="1.3" fill="#ec4a30" opacity="0.19"/>
<rect x="95.7" y="178.2" width="5.2" height="1.3" fill="#ee6a50" opacity="0.06"/>
<rect x="97.5" y="179.4" width="1.6" height="0.8" fill="#ec4a30" opacity="0.17"/>
<rect x="95.7" y="179.4" width="5.2" height="0.8" fill="#ee6a50" opacity="0.06"/>
<rect x="97.5" y="180.2" width="1.6" height="1.4" fill="#ec4a30" opacity="0.13"/>
<rect x="95.7" y="180.2" width="5.2" height="1.4" fill="#ee6a50" opacity="0.04"/>
<rect x="97.5" y="181.6" width="1.6" height="1.0" fill="#ec4a30" opacity="0.29"/>
<rect x="95.7" y="181.6" width="5.2" height="1.0" fill="#ee6a50" opacity="0.09"/>
<rect x="97.5" y="182.6" width="1.6" height="1.5" fill="#ec4a30" opacity="0.14"/>
<rect x="95.7" y="182.6" width="5.2" height="1.5" fill="#ee6a50" opacity="0.04"/>
<rect x="97.5" y="184.1" width="1.6" height="1.6" fill="#ec4a30" opacity="0.27"/>
<rect x="95.7" y="184.1" width="5.2" height="1.6" fill="#ee6a50" opacity="0.09"/>
<rect x="97.5" y="185.7" width="1.6" height="0.8" fill="#ec4a30" opacity="0.09"/>
<rect x="95.7" y="185.7" width="5.2" height="0.8" fill="#ee6a50" opacity="0.03"/>
<rect x="97.5" y="186.6" width="1.6" height="1.0" fill="#ec4a30" opacity="0.25"/>
<rect x="95.7" y="186.6" width="5.2" height="1.0" fill="#ee6a50" opacity="0.08"/>
<rect x="97.5" y="187.6" width="1.6" height="1.0" fill="#ec4a30" opacity="0.25"/>
<rect x="95.7" y="187.6" width="5.2" height="1.0" fill="#ee6a50" opacity="0.08"/>
<rect x="97.5" y="188.6" width="1.6" height="1.7" fill="#ec4a30" opacity="0.21"/>
<rect x="95.7" y="188.6" width="5.2" height="1.7" fill="#ee6a50" opacity="0.07"/>
<rect x="97.5" y="190.4" width="1.6" height="1.1" fill="#ec4a30" opacity="0.31"/>
<rect x="95.7" y="190.4" width="5.2" height="1.1" fill="#ee6a50" opacity="0.10"/>
<rect x="97.5" y="191.5" width="1.6" height="1.9" fill="#ec4a30" opacity="0.21"/>
<rect x="95.7" y="191.5" width="5.2" height="1.9" fill="#ee6a50" opacity="0.07"/>
<rect x="97.5" y="193.4" width="1.6" height="1.1" fill="#ec4a30" opacity="0.24"/>
<rect x="95.7" y="193.4" width="5.2" height="1.1" fill="#ee6a50" opacity="0.08"/>
<rect x="97.5" y="194.5" width="1.6" height="1.4" fill="#ec4a30" opacity="0.23"/>
<rect x="95.7" y="194.5" width="5.2" height="1.4" fill="#ee6a50" opacity="0.07"/>
<rect x="97.5" y="195.8" width="1.6" height="1.2" fill="#ec4a30" opacity="0.24"/>
<rect x="95.7" y="195.8" width="5.2" height="1.2" fill="#ee6a50" opacity="0.08"/>
<rect x="97.5" y="197.1" width="1.6" height="0.9" fill="#ec4a30" opacity="0.17"/>
<rect x="95.7" y="197.1" width="5.2" height="0.9" fill="#ee6a50" opacity="0.05"/>
<rect x="97.5" y="198.0" width="1.6" height="2.2" fill="#ec4a30" opacity="0.30"/>
<rect x="95.7" y="198.0" width="5.2" height="2.2" fill="#ee6a50" opacity="0.10"/>
<rect x="97.5" y="200.1" width="1.6" height="1.2" fill="#ec4a30" opacity="0.30"/>
<rect x="95.7" y="200.1" width="5.2" height="1.2" fill="#ee6a50" opacity="0.10"/>
<rect x="97.5" y="201.4" width="1.6" height="1.2" fill="#ec4a30" opacity="0.32"/>
<rect x="95.7" y="201.4" width="5.2" height="1.2" fill="#ee6a50" opacity="0.11"/>
<rect x="97.5" y="202.6" width="1.6" height="1.8" fill="#ec4a30" opacity="0.20"/>
<rect x="95.7" y="202.6" width="5.2" height="1.8" fill="#ee6a50" opacity="0.07"/>
<rect x="97.5" y="204.4" width="1.6" height="1.2" fill="#ec4a30" opacity="0.10"/>
<rect x="95.7" y="204.4" width="5.2" height="1.2" fill="#ee6a50" opacity="0.03"/>
<rect x="97.5" y="205.6" width="1.6" height="2.0" fill="#ec4a30" opacity="0.11"/>
<rect x="95.7" y="205.6" width="5.2" height="2.0" fill="#ee6a50" opacity="0.04"/>
<rect x="97.5" y="207.6" width="1.6" height="1.9" fill="#ec4a30" opacity="0.33"/>
<rect x="95.7" y="207.6" width="5.2" height="1.9" fill="#ee6a50" opacity="0.11"/>
<rect x="97.5" y="209.6" width="1.6" height="1.6" fill="#ec4a30" opacity="0.14"/>
<rect x="95.7" y="209.6" width="5.2" height="1.6" fill="#ee6a50" opacity="0.05"/>
<rect x="97.5" y="211.2" width="1.6" height="2.0" fill="#ec4a30" opacity="0.34"/>
<rect x="95.7" y="211.2" width="5.2" height="2.0" fill="#ee6a50" opacity="0.11"/>
<rect x="97.5" y="213.2" width="1.6" height="1.8" fill="#ec4a30" opacity="0.23"/>
<rect x="95.7" y="213.2" width="5.2" height="1.8" fill="#ee6a50" opacity="0.08"/>
<rect x="97.5" y="215.0" width="1.6" height="1.3" fill="#ec4a30" opacity="0.19"/>
<rect x="95.7" y="215.0" width="5.2" height="1.3" fill="#ee6a50" opacity="0.06"/>
<rect x="97.5" y="216.3" width="1.6" height="1.1" fill="#ec4a30" opacity="0.27"/>
<rect x="95.7" y="216.3" width="5.2" height="1.1" fill="#ee6a50" opacity="0.09"/>
<rect x="97.5" y="217.4" width="1.6" height="1.4" fill="#ec4a30" opacity="0.15"/>
<rect x="95.7" y="217.4" width="5.2" height="1.4" fill="#ee6a50" opacity="0.05"/>
<rect x="97.5" y="218.8" width="1.6" height="0.9" fill="#ec4a30" opacity="0.27"/>
<rect x="95.7" y="218.8" width="5.2" height="0.9" fill="#ee6a50" opacity="0.09"/>
<rect x="97.5" y="219.7" width="1.6" height="1.2" fill="#ec4a30" opacity="0.23"/>
<rect x="95.7" y="219.7" width="5.2" height="1.2" fill="#ee6a50" opacity="0.08"/>
<rect x="97.5" y="220.9" width="1.6" height="1.3" fill="#ec4a30" opacity="0.33"/>
<rect x="95.7" y="220.9" width="5.2" height="1.3" fill="#ee6a50" opacity="0.11"/>
<rect x="97.5" y="222.2" width="1.6" height="2.1" fill="#ec4a30" opacity="0.11"/>
<rect x="95.7" y="222.2" width="5.2" height="2.1" fill="#ee6a50" opacity="0.04"/>
<rect x="97.5" y="224.3" width="1.6" height="1.1" fill="#ec4a30" opacity="0.19"/>
<rect x="95.7" y="224.3" width="5.2" height="1.1" fill="#ee6a50" opacity="0.06"/>
<rect x="97.5" y="225.3" width="1.6" height="2.2" fill="#ec4a30" opacity="0.31"/>
<rect x="95.7" y="225.3" width="5.2" height="2.2" fill="#ee6a50" opacity="0.10"/>
<rect x="97.5" y="227.5" width="1.6" height="1.3" fill="#ec4a30" opacity="0.16"/>
<rect x="95.7" y="227.5" width="5.2" height="1.3" fill="#ee6a50" opacity="0.05"/>
<rect x="97.5" y="228.8" width="1.6" height="1.7" fill="#ec4a30" opacity="0.33"/>
<rect x="95.7" y="228.8" width="5.2" height="1.7" fill="#ee6a50" opacity="0.11"/>
<rect x="97.5" y="230.5" width="1.6" height="2.1" fill="#ec4a30" opacity="0.20"/>
<rect x="95.7" y="230.5" width="5.2" height="2.1" fill="#ee6a50" opacity="0.07"/>
<rect x="97.5" y="232.7" width="1.6" height="2.0" fill="#ec4a30" opacity="0.29"/>
<rect x="95.7" y="232.7" width="5.2" height="2.0" fill="#ee6a50" opacity="0.10"/>
<rect x="97.5" y="234.7" width="1.6" height="1.5" fill="#ec4a30" opacity="0.38"/>
<rect x="95.7" y="234.7" width="5.2" height="1.5" fill="#ee6a50" opacity="0.12"/>
<rect x="97.5" y="236.2" width="1.6" height="1.1" fill="#ec4a30" opacity="0.31"/>
<rect x="95.7" y="236.2" width="5.2" height="1.1" fill="#ee6a50" opacity="0.10"/>
<rect x="97.5" y="237.3" width="1.6" height="0.9" fill="#ec4a30" opacity="0.16"/>
<rect x="95.7" y="237.3" width="5.2" height="0.9" fill="#ee6a50" opacity="0.05"/>
<rect x="97.5" y="238.2" width="1.6" height="2.1" fill="#ec4a30" opacity="0.17"/>
<rect x="95.7" y="238.2" width="5.2" height="2.1" fill="#ee6a50" opacity="0.06"/>
<rect x="97.5" y="240.3" width="1.6" height="1.9" fill="#ec4a30" opacity="0.28"/>
<rect x="95.7" y="240.3" width="5.2" height="1.9" fill="#ee6a50" opacity="0.09"/>
<rect x="97.5" y="242.2" width="1.6" height="2.0" fill="#ec4a30" opacity="0.22"/>
<rect x="95.7" y="242.2" width="5.2" height="2.0" fill="#ee6a50" opacity="0.07"/>
<rect x="97.5" y="244.1" width="1.6" height="0.3" fill="#ec4a30" opacity="0.20"/>
<rect x="95.7" y="244.1" width="5.2" height="0.3" fill="#ee6a50" opacity="0.06"/>
</g>
<rect x="76.55" y="74.75" width="43.4" height="169.3" fill="none" stroke="#9d9d9d" stroke-width="1.05"/>
<line x1="76.2" y1="245.20000000000002" x2="120.3" y2="245.20000000000002" stroke="#999" stroke-width="0.6" stroke-dasharray="0.6 1.2"/>
<text transform="translate(83.2,246.6) rotate(-90)" font-size="10.4" text-anchor="end" stroke="#000" stroke-width="0.2">-5kb</text>
<text transform="translate(102.2,246.6) rotate(-90)" font-size="10.4" text-anchor="end" stroke="#000" stroke-width="0.2">Center</text>
<text transform="translate(121.2,246.6) rotate(-90)" font-size="10.4" text-anchor="end" stroke="#000" stroke-width="0.2">5kb</text>
<rect x="122.3" y="74.4" width="43.9" height="170.0" fill="#fef7f4"/>
<rect x="122.3" y="74.4" width="43.9" height="170.0" filter="url(#hn)" opacity="0.36"/>
<rect x="122.3" y="74.4" width="43.9" height="170.0" fill="url(#wf)"/>
<rect x="122.3" y="74.4" width="43.9" height="170.0" fill="url(#hv)"/>
<g filter="url(#bb)">
<rect x="142.8" y="74.4" width="2.8" height="2.1" fill="#ec4a30" opacity="0.89"/>
<rect x="141.0" y="74.4" width="6.4" height="2.1" fill="#ee6a50" opacity="0.29"/>
<rect x="142.8" y="76.5" width="2.8" height="0.9" fill="#ec4a30" opacity="0.31"/>
<rect x="141.0" y="76.5" width="6.4" height="0.9" fill="#ee6a50" opacity="0.10"/>
<rect x="142.8" y="77.4" width="2.8" height="2.0" fill="#ec4a30" opacity="0.71"/>
<rect x="141.0" y="77.4" width="6.4" height="2.0" fill="#ee6a50" opacity="0.23"/>
<rect x="142.8" y="79.4" width="2.8" height="1.7" fill="#ec4a30" opacity="0.43"/>
<rect x="141.0" y="79.4" width="6.4" height="1.7" fill="#ee6a50" opacity="0.14"/>
<rect x="142.8" y="81.1" width="2.8" height="1.6" fill="#ec4a30" opacity="0.59"/>
<rect x="141.0" y="81.1" width="6.4" height="1.6" fill="#ee6a50" opacity="0.20"/>
<rect x="142.8" y="82.8" width="2.8" height="1.6" fill="#ec4a30" opacity="0.32"/>
<rect x="141.0" y="82.8" width="6.4" height="1.6" fill="#ee6a50" opacity="0.11"/>
<rect x="142.8" y="84.4" width="2.8" height="1.4" fill="#ec4a30" opacity="0.45"/>
<rect x="141.0" y="84.4" width="6.4" height="1.4" fill="#ee6a50" opacity="0.15"/>
<rect x="142.8" y="85.8" width="2.8" height="1.8" fill="#ec4a30" opacity="0.77"/>
<rect x="141.0" y="85.8" width="6.4" height="1.8" fill="#ee6a50" opacity="0.25"/>
<rect x="142.8" y="87.6" width="2.8" height="2.1" fill="#ec4a30" opacity="0.51"/>
<rect x="141.0" y="87.6" width="6.4" height="2.1" fill="#ee6a50" opacity="0.17"/>
<rect x="142.8" y="89.7" width="2.8" height="1.4" fill="#ec4a30" opacity="0.35"/>
<rect x="141.0" y="89.7" width="6.4" height="1.4" fill="#ee6a50" opacity="0.12"/>
<rect x="142.8" y="91.2" width="2.8" height="0.9" fill="#ec4a30" opacity="0.23"/>
<rect x="141.0" y="91.2" width="6.4" height="0.9" fill="#ee6a50" opacity="0.07"/>
<rect x="142.8" y="92.0" width="2.8" height="1.5" fill="#ec4a30" opacity="0.37"/>
<rect x="141.0" y="92.0" width="6.4" height="1.5" fill="#ee6a50" opacity="0.12"/>
<rect x="142.8" y="93.5" width="2.8" height="1.3" fill="#ec4a30" opacity="0.66"/>
<rect x="141.0" y="93.5" width="6.4" height="1.3" fill="#ee6a50" opacity="0.22"/>
<rect x="142.8" y="94.8" width="2.8" height="1.5" fill="#ec4a30" opacity="0.48"/>
<rect x="141.0" y="94.8" width="6.4" height="1.5" fill="#ee6a50" opacity="0.16"/>
<rect x="142.8" y="96.3" width="2.8" height="1.1" fill="#ec4a30" opacity="0.21"/>
<rect x="141.0" y="96.3" width="6.4" height="1.1" fill="#ee6a50" opacity="0.07"/>
<rect x="142.8" y="97.5" width="2.8" height="1.3" fill="#ec4a30" opacity="0.27"/>
<rect x="141.0" y="97.5" width="6.4" height="1.3" fill="#ee6a50" opacity="0.09"/>
<rect x="142.8" y="98.7" width="2.8" height="1.5" fill="#ec4a30" opacity="0.68"/>
<rect x="141.0" y="98.7" width="6.4" height="1.5" fill="#ee6a50" opacity="0.22"/>
<rect x="142.8" y="100.2" width="2.8" height="1.7" fill="#ec4a30" opacity="0.28"/>
<rect x="141.0" y="100.2" width="6.4" height="1.7" fill="#ee6a50" opacity="0.09"/>
<rect x="142.8" y="102.0" width="2.8" height="2.1" fill="#ec4a30" opacity="0.57"/>
<rect x="141.0" y="102.0" width="6.4" height="2.1" fill="#ee6a50" opacity="0.19"/>
<rect x="142.8" y="104.0" width="2.8" height="1.8" fill="#ec4a30" opacity="0.62"/>
<rect x="141.0" y="104.0" width="6.4" height="1.8" fill="#ee6a50" opacity="0.20"/>
<rect x="142.8" y="105.8" width="2.8" height="1.9" fill="#ec4a30" opacity="0.56"/>
<rect x="141.0" y="105.8" width="6.4" height="1.9" fill="#ee6a50" opacity="0.18"/>
<rect x="142.8" y="107.7" width="2.8" height="1.3" fill="#ec4a30" opacity="0.64"/>
<rect x="141.0" y="107.7" width="6.4" height="1.3" fill="#ee6a50" opacity="0.21"/>
<rect x="142.8" y="109.0" width="2.8" height="2.1" fill="#ec4a30" opacity="0.26"/>
<rect x="141.0" y="109.0" width="6.4" height="2.1" fill="#ee6a50" opacity="0.09"/>
<rect x="142.8" y="111.2" width="2.8" height="1.9" fill="#ec4a30" opacity="0.51"/>
<rect x="141.0" y="111.2" width="6.4" height="1.9" fill="#ee6a50" opacity="0.17"/>
<rect x="142.8" y="113.0" width="2.8" height="1.4" fill="#ec4a30" opacity="0.43"/>
<rect x="141.0" y="113.0" width="6.4" height="1.4" fill="#ee6a50" opacity="0.14"/>
<rect x="142.8" y="114.5" width="2.8" height="1.5" fill="#ec4a30" opacity="0.60"/>
<rect x="141.0" y="114.5" width="6.4" height="1.5" fill="#ee6a50" opacity="0.20"/>
<rect x="142.8" y="115.9" width="2.8" height="1.5" fill="#ec4a30" opacity="0.56"/>
<rect x="141.0" y="115.9" width="6.4" height="1.5" fill="#ee6a50" opacity="0.18"/>
<rect x="142.8" y="117.4" width="2.8" height="1.3" fill="#ec4a30" opacity="0.58"/>
<rect x="141.0" y="117.4" width="6.4" height="1.3" fill="#ee6a50" opacity="0.19"/>
<rect x="142.8" y="118.7" width="2.8" height="2.1" fill="#ec4a30" opacity="0.39"/>
<rect x="141.0" y="118.7" width="6.4" height="2.1" fill="#ee6a50" opacity="0.13"/>
<rect x="142.8" y="120.8" width="2.8" height="1.6" fill="#ec4a30" opacity="0.59"/>
<rect x="141.0" y="120.8" width="6.4" height="1.6" fill="#ee6a50" opacity="0.20"/>
<rect x="142.8" y="122.4" width="2.8" height="1.8" fill="#ec4a30" opacity="0.40"/>
<rect x="141.0" y="122.4" width="6.4" height="1.8" fill="#ee6a50" opacity="0.13"/>
<rect x="142.8" y="124.2" width="2.8" height="1.1" fill="#ec4a30" opacity="0.33"/>
<rect x="141.0" y="124.2" width="6.4" height="1.1" fill="#ee6a50" opacity="0.11"/>
<rect x="142.8" y="125.3" width="2.8" height="1.8" fill="#ec4a30" opacity="0.26"/>
<rect x="141.0" y="125.3" width="6.4" height="1.8" fill="#ee6a50" opacity="0.08"/>
<rect x="142.8" y="127.1" width="2.8" height="2.1" fill="#ec4a30" opacity="0.30"/>
<rect x="141.0" y="127.1" width="6.4" height="2.1" fill="#ee6a50" opacity="0.10"/>
<rect x="142.8" y="129.2" width="2.8" height="2.1" fill="#ec4a30" opacity="0.32"/>
<rect x="141.0" y="129.2" width="6.4" height="2.1" fill="#ee6a50" opacity="0.10"/>
<rect x="142.8" y="131.2" width="2.8" height="2.1" fill="#ec4a30" opacity="0.49"/>
<rect x="141.0" y="131.2" width="6.4" height="2.1" fill="#ee6a50" opacity="0.16"/>
<rect x="142.8" y="133.4" width="2.8" height="1.5" fill="#ec4a30" opacity="0.41"/>
<rect x="141.0" y="133.4" width="6.4" height="1.5" fill="#ee6a50" opacity="0.14"/>
<rect x="142.8" y="134.9" width="2.8" height="1.7" fill="#ec4a30" opacity="0.44"/>
<rect x="141.0" y="134.9" width="6.4" height="1.7" fill="#ee6a50" opacity="0.15"/>
<rect x="142.8" y="136.6" width="2.8" height="1.2" fill="#ec4a30" opacity="0.27"/>
<rect x="141.0" y="136.6" width="6.4" height="1.2" fill="#ee6a50" opacity="0.09"/>
<rect x="142.8" y="137.8" width="2.8" height="1.5" fill="#ec4a30" opacity="0.60"/>
<rect x="141.0" y="137.8" width="6.4" height="1.5" fill="#ee6a50" opacity="0.20"/>
<rect x="142.8" y="139.4" width="2.8" height="1.7" fill="#ec4a30" opacity="0.22"/>
<rect x="141.0" y="139.4" width="6.4" height="1.7" fill="#ee6a50" opacity="0.07"/>
<rect x="142.8" y="141.0" width="2.8" height="1.9" fill="#ec4a30" opacity="0.50"/>
<rect x="141.0" y="141.0" width="6.4" height="1.9" fill="#ee6a50" opacity="0.17"/>
<rect x="142.8" y="143.0" width="2.8" height="2.1" fill="#ec4a30" opacity="0.27"/>
<rect x="141.0" y="143.0" width="6.4" height="2.1" fill="#ee6a50" opacity="0.09"/>
<rect x="142.8" y="145.0" width="2.8" height="1.8" fill="#ec4a30" opacity="0.21"/>
<rect x="141.0" y="145.0" width="6.4" height="1.8" fill="#ee6a50" opacity="0.07"/>
<rect x="142.8" y="146.9" width="2.8" height="1.7" fill="#ec4a30" opacity="0.30"/>
<rect x="141.0" y="146.9" width="6.4" height="1.7" fill="#ee6a50" opacity="0.10"/>
<rect x="142.8" y="148.6" width="2.8" height="1.1" fill="#ec4a30" opacity="0.58"/>
<rect x="141.0" y="148.6" width="6.4" height="1.1" fill="#ee6a50" opacity="0.19"/>
<rect x="142.8" y="149.7" width="2.8" height="0.9" fill="#ec4a30" opacity="0.42"/>
<rect x="141.0" y="149.7" width="6.4" height="0.9" fill="#ee6a50" opacity="0.14"/>
<rect x="142.8" y="150.7" width="2.8" height="2.0" fill="#ec4a30" opacity="0.29"/>
<rect x="141.0" y="150.7" width="6.4" height="2.0" fill="#ee6a50" opacity="0.10"/>
<rect x="142.8" y="152.7" width="2.8" height="1.1" fill="#ec4a30" opacity="0.58"/>
<rect x="141.0" y="152.7" width="6.4" height="1.1" fill="#ee6a50" opacity="0.19"/>
<rect x="142.8" y="153.8" width="2.8" height="1.4" fill="#ec4a30" opacity="0.51"/>
<rect x="141.0" y="153.8" width="6.4" height="1.4" fill="#ee6a50" opacity="0.17"/>
<rect x="142.8" y="155.2" width="2.8" height="0.8" fill="#ec4a30" opacity="0.35"/>
<rect x="141.0" y="155.2" width="6.4" height="0.8" fill="#ee6a50" opacity="0.11"/>
<rect x="142.8" y="156.0" width="2.8" height="1.0" fill="#ec4a30" opacity="0.49"/>
<rect x="141.0" y="156.0" width="6.4" height="1.0" fill="#ee6a50" opacity="0.16"/>
<rect x="142.8" y="157.0" width="2.8" height="0.9" fill="#ec4a30" opacity="0.62"/>
<rect x="141.0" y="157.0" width="6.4" height="0.9" fill="#ee6a50" opacity="0.20"/>
<rect x="142.8" y="158.0" width="2.8" height="0.8" fill="#ec4a30" opacity="0.52"/>
<rect x="141.0" y="158.0" width="6.4" height="0.8" fill="#ee6a50" opacity="0.17"/>
<rect x="142.8" y="158.8" width="2.8" height="0.8" fill="#ec4a30" opacity="0.30"/>
<rect x="141.0" y="158.8" width="6.4" height="0.8" fill="#ee6a50" opacity="0.10"/>
<rect x="142.8" y="159.6" width="2.8" height="1.9" fill="#ec4a30" opacity="0.26"/>
<rect x="141.0" y="159.6" width="6.4" height="1.9" fill="#ee6a50" opacity="0.08"/>
<rect x="142.8" y="161.6" width="2.8" height="1.1" fill="#ec4a30" opacity="0.50"/>
<rect x="141.0" y="161.6" width="6.4" height="1.1" fill="#ee6a50" opacity="0.17"/>
<rect x="142.8" y="162.6" width="2.8" height="1.3" fill="#ec4a30" opacity="0.21"/>
<rect x="141.0" y="162.6" width="6.4" height="1.3" fill="#ee6a50" opacity="0.07"/>
<rect x="142.8" y="164.0" width="2.8" height="2.2" fill="#ec4a30" opacity="0.26"/>
<rect x="141.0" y="164.0" width="6.4" height="2.2" fill="#ee6a50" opacity="0.08"/>
<rect x="142.8" y="166.1" width="2.8" height="0.9" fill="#ec4a30" opacity="0.35"/>
<rect x="141.0" y="166.1" width="6.4" height="0.9" fill="#ee6a50" opacity="0.11"/>
<rect x="142.8" y="167.0" width="2.8" height="1.7" fill="#ec4a30" opacity="0.53"/>
<rect x="141.0" y="167.0" width="6.4" height="1.7" fill="#ee6a50" opacity="0.17"/>
<rect x="142.8" y="168.7" width="2.8" height="1.0" fill="#ec4a30" opacity="0.34"/>
<rect x="141.0" y="168.7" width="6.4" height="1.0" fill="#ee6a50" opacity="0.11"/>
<rect x="142.8" y="169.6" width="2.8" height="0.8" fill="#ec4a30" opacity="0.40"/>
<rect x="141.0" y="169.6" width="6.4" height="0.8" fill="#ee6a50" opacity="0.13"/>
<rect x="142.8" y="170.5" width="2.8" height="1.9" fill="#ec4a30" opacity="0.53"/>
<rect x="141.0" y="170.5" width="6.4" height="1.9" fill="#ee6a50" opacity="0.17"/>
<rect x="142.8" y="172.3" width="2.8" height="2.1" fill="#ec4a30" opacity="0.54"/>
<rect x="141.0" y="172.3" width="6.4" height="2.1" fill="#ee6a50" opacity="0.18"/>
<rect x="142.8" y="174.4" width="2.8" height="2.0" fill="#ec4a30" opacity="0.52"/>
<rect x="141.0" y="174.4" width="6.4" height="2.0" fill="#ee6a50" opacity="0.17"/>
<rect x="142.8" y="176.4" width="2.8" height="1.5" fill="#ec4a30" opacity="0.30"/>
<rect x="141.0" y="176.4" width="6.4" height="1.5" fill="#ee6a50" opacity="0.10"/>
<rect x="142.8" y="177.9" width="2.8" height="1.7" fill="#ec4a30" opacity="0.34"/>
<rect x="141.0" y="177.9" width="6.4" height="1.7" fill="#ee6a50" opacity="0.11"/>
<rect x="142.8" y="179.6" width="2.8" height="0.9" fill="#ec4a30" opacity="0.40"/>
<rect x="141.0" y="179.6" width="6.4" height="0.9" fill="#ee6a50" opacity="0.13"/>
<rect x="142.8" y="180.5" width="2.8" height="2.0" fill="#ec4a30" opacity="0.25"/>
<rect x="141.0" y="180.5" width="6.4" height="2.0" fill="#ee6a50" opacity="0.08"/>
<rect x="142.8" y="182.6" width="2.8" height="1.6" fill="#ec4a30" opacity="0.38"/>
<rect x="141.0" y="182.6" width="6.4" height="1.6" fill="#ee6a50" opacity="0.12"/>
<rect x="142.8" y="184.2" width="2.8" height="1.5" fill="#ec4a30" opacity="0.26"/>
<rect x="141.0" y="184.2" width="6.4" height="1.5" fill="#ee6a50" opacity="0.09"/>
<rect x="142.8" y="185.7" width="2.8" height="2.1" fill="#ec4a30" opacity="0.32"/>
<rect x="141.0" y="185.7" width="6.4" height="2.1" fill="#ee6a50" opacity="0.10"/>
<rect x="142.8" y="187.8" width="2.8" height="1.6" fill="#ec4a30" opacity="0.39"/>
<rect x="141.0" y="187.8" width="6.4" height="1.6" fill="#ee6a50" opacity="0.13"/>
<rect x="142.8" y="189.5" width="2.8" height="0.8" fill="#ec4a30" opacity="0.46"/>
<rect x="141.0" y="189.5" width="6.4" height="0.8" fill="#ee6a50" opacity="0.15"/>
<rect x="142.8" y="190.3" width="2.8" height="1.0" fill="#ec4a30" opacity="0.22"/>
<rect x="141.0" y="190.3" width="6.4" height="1.0" fill="#ee6a50" opacity="0.07"/>
<rect x="142.8" y="191.3" width="2.8" height="0.8" fill="#ec4a30" opacity="0.27"/>
<rect x="141.0" y="191.3" width="6.4" height="0.8" fill="#ee6a50" opacity="0.09"/>
<rect x="142.8" y="192.2" width="2.8" height="0.9" fill="#ec4a30" opacity="0.50"/>
<rect x="141.0" y="192.2" width="6.4" height="0.9" fill="#ee6a50" opacity="0.16"/>
<rect x="142.8" y="193.1" width="2.8" height="1.5" fill="#ec4a30" opacity="0.67"/>
<rect x="141.0" y="193.1" width="6.4" height="1.5" fill="#ee6a50" opacity="0.22"/>
<rect x="142.8" y="194.6" width="2.8" height="2.1" fill="#ec4a30" opacity="0.67"/>
<rect x="141.0" y="194.6" width="6.4" height="2.1" fill="#ee6a50" opacity="0.22"/>
<rect x="142.8" y="196.7" width="2.8" height="1.1" fill="#ec4a30" opacity="0.41"/>
<rect x="141.0" y="196.7" width="6.4" height="1.1" fill="#ee6a50" opacity="0.14"/>
<rect x="142.8" y="197.8" width="2.8" height="1.2" fill="#ec4a30" opacity="0.48"/>
<rect x="141.0" y="197.8" width="6.4" height="1.2" fill="#ee6a50" opacity="0.16"/>
<rect x="142.8" y="199.0" width="2.8" height="1.7" fill="#ec4a30" opacity="0.59"/>
<rect x="141.0" y="199.0" width="6.4" height="1.7" fill="#ee6a50" opacity="0.19"/>
<rect x="142.8" y="200.7" width="2.8" height="1.8" fill="#ec4a30" opacity="0.32"/>
<rect x="141.0" y="200.7" width="6.4" height="1.8" fill="#ee6a50" opacity="0.11"/>
<rect x="142.8" y="202.5" width="2.8" height="1.4" fill="#ec4a30" opacity="0.46"/>
<rect x="141.0" y="202.5" width="6.4" height="1.4" fill="#ee6a50" opacity="0.15"/>
<rect x="142.8" y="203.8" width="2.8" height="0.8" fill="#ec4a30" opacity="0.22"/>
<rect x="141.0" y="203.8" width="6.4" height="0.8" fill="#ee6a50" opacity="0.07"/>
<rect x="142.8" y="204.7" width="2.8" height="1.4" fill="#ec4a30" opacity="0.25"/>
<rect x="141.0" y="204.7" width="6.4" height="1.4" fill="#ee6a50" opacity="0.08"/>
<rect x="142.8" y="206.0" width="2.8" height="1.8" fill="#ec4a30" opacity="0.32"/>
<rect x="141.0" y="206.0" width="6.4" height="1.8" fill="#ee6a50" opacity="0.10"/>
<rect x="142.8" y="207.8" width="2.8" height="0.9" fill="#ec4a30" opacity="0.29"/>
<rect x="141.0" y="207.8" width="6.4" height="0.9" fill="#ee6a50" opacity="0.10"/>
<rect x="142.8" y="208.8" width="2.8" height="1.1" fill="#ec4a30" opacity="0.31"/>
<rect x="141.0" y="208.8" width="6.4" height="1.1" fill="#ee6a50" opacity="0.10"/>
<rect x="142.8" y="209.9" width="2.8" height="1.5" fill="#ec4a30" opacity="0.43"/>
<rect x="141.0" y="209.9" width="6.4" height="1.5" fill="#ee6a50" opacity="0.14"/>
<rect x="142.8" y="211.4" width="2.8" height="1.2" fill="#ec4a30" opacity="0.52"/>
<rect x="141.0" y="211.4" width="6.4" height="1.2" fill="#ee6a50" opacity="0.17"/>
<rect x="142.8" y="212.7" width="2.8" height="1.1" fill="#ec4a30" opacity="0.65"/>
<rect x="141.0" y="212.7" width="6.4" height="1.1" fill="#ee6a50" opacity="0.22"/>
<rect x="142.8" y="213.8" width="2.8" height="2.1" fill="#ec4a30" opacity="0.57"/>
<rect x="141.0" y="213.8" width="6.4" height="2.1" fill="#ee6a50" opacity="0.19"/>
<rect x="142.8" y="215.9" width="2.8" height="1.4" fill="#ec4a30" opacity="0.46"/>
<rect x="141.0" y="215.9" width="6.4" height="1.4" fill="#ee6a50" opacity="0.15"/>
<rect x="142.8" y="217.3" width="2.8" height="1.6" fill="#ec4a30" opacity="0.23"/>
<rect x="141.0" y="217.3" width="6.4" height="1.6" fill="#ee6a50" opacity="0.08"/>
<rect x="142.8" y="218.9" width="2.8" height="1.4" fill="#ec4a30" opacity="0.47"/>
<rect x="141.0" y="218.9" width="6.4" height="1.4" fill="#ee6a50" opacity="0.15"/>
<rect x="142.8" y="220.3" width="2.8" height="1.1" fill="#ec4a30" opacity="0.25"/>
<rect x="141.0" y="220.3" width="6.4" height="1.1" fill="#ee6a50" opacity="0.08"/>
<rect x="142.8" y="221.4" width="2.8" height="1.9" fill="#ec4a30" opacity="0.39"/>
<rect x="141.0" y="221.4" width="6.4" height="1.9" fill="#ee6a50" opacity="0.13"/>
<rect x="142.8" y="223.3" width="2.8" height="1.5" fill="#ec4a30" opacity="0.67"/>
<rect x="141.0" y="223.3" width="6.4" height="1.5" fill="#ee6a50" opacity="0.22"/>
<rect x="142.8" y="224.8" width="2.8" height="1.7" fill="#ec4a30" opacity="0.35"/>
<rect x="141.0" y="224.8" width="6.4" height="1.7" fill="#ee6a50" opacity="0.12"/>
<rect x="142.8" y="226.5" width="2.8" height="2.2" fill="#ec4a30" opacity="0.40"/>
<rect x="141.0" y="226.5" width="6.4" height="2.2" fill="#ee6a50" opacity="0.13"/>
<rect x="142.8" y="228.6" width="2.8" height="0.8" fill="#ec4a30" opacity="0.56"/>
<rect x="141.0" y="228.6" width="6.4" height="0.8" fill="#ee6a50" opacity="0.18"/>
<rect x="142.8" y="229.5" width="2.8" height="0.9" fill="#ec4a30" opacity="0.37"/>
<rect x="141.0" y="229.5" width="6.4" height="0.9" fill="#ee6a50" opacity="0.12"/>
<rect x="142.8" y="230.4" width="2.8" height="2.0" fill="#ec4a30" opacity="0.55"/>
<rect x="141.0" y="230.4" width="6.4" height="2.0" fill="#ee6a50" opacity="0.18"/>
<rect x="142.8" y="232.4" width="2.8" height="0.8" fill="#ec4a30" opacity="0.44"/>
<rect x="141.0" y="232.4" width="6.4" height="0.8" fill="#ee6a50" opacity="0.15"/>
<rect x="142.8" y="233.2" width="2.8" height="1.4" fill="#ec4a30" opacity="0.46"/>
<rect x="141.0" y="233.2" width="6.4" height="1.4" fill="#ee6a50" opacity="0.15"/>
<rect x="142.8" y="234.6" width="2.8" height="1.1" fill="#ec4a30" opacity="0.51"/>
<rect x="141.0" y="234.6" width="6.4" height="1.1" fill="#ee6a50" opacity="0.17"/>
<rect x="142.8" y="235.7" width="2.8" height="0.9" fill="#ec4a30" opacity="0.36"/>
<rect x="141.0" y="235.7" width="6.4" height="0.9" fill="#ee6a50" opacity="0.12"/>
<rect x="142.8" y="236.6" width="2.8" height="1.3" fill="#ec4a30" opacity="0.69"/>
<rect x="141.0" y="236.6" width="6.4" height="1.3" fill="#ee6a50" opacity="0.23"/>
<rect x="142.8" y="237.9" width="2.8" height="0.9" fill="#ec4a30" opacity="0.60"/>
<rect x="141.0" y="237.9" width="6.4" height="0.9" fill="#ee6a50" opacity="0.20"/>
<rect x="142.8" y="238.8" width="2.8" height="1.1" fill="#ec4a30" opacity="0.51"/>
<rect x="141.0" y="238.8" width="6.4" height="1.1" fill="#ee6a50" opacity="0.17"/>
<rect x="142.8" y="239.9" width="2.8" height="1.3" fill="#ec4a30" opacity="0.45"/>
<rect x="141.0" y="239.9" width="6.4" height="1.3" fill="#ee6a50" opacity="0.15"/>
<rect x="142.8" y="241.2" width="2.8" height="1.9" fill="#ec4a30" opacity="0.42"/>
<rect x="141.0" y="241.2" width="6.4" height="1.9" fill="#ee6a50" opacity="0.14"/>
<rect x="142.8" y="243.1" width="2.8" height="1.0" fill="#ec4a30" opacity="0.28"/>
<rect x="141.0" y="243.1" width="6.4" height="1.0" fill="#ee6a50" opacity="0.09"/>
<rect x="142.8" y="244.1" width="2.8" height="0.3" fill="#ec4a30" opacity="0.66"/>
<rect x="141.0" y="244.1" width="6.4" height="0.3" fill="#ee6a50" opacity="0.22"/>
</g>
<rect x="122.64999999999999" y="74.75" width="43.2" height="169.3" fill="none" stroke="#9d9d9d" stroke-width="1.05"/>
<line x1="122.3" y1="245.20000000000002" x2="166.2" y2="245.20000000000002" stroke="#999" stroke-width="0.6" stroke-dasharray="0.6 1.2"/>
<text transform="translate(129.3,246.6) rotate(-90)" font-size="10.4" text-anchor="end" stroke="#000" stroke-width="0.2">-5kb</text>
<text transform="translate(148.2,246.6) rotate(-90)" font-size="10.4" text-anchor="end" stroke="#000" stroke-width="0.2">Center</text>
<text transform="translate(167.1,246.6) rotate(-90)" font-size="10.4" text-anchor="end" stroke="#000" stroke-width="0.2">5kb</text>
<rect x="168.3" y="74.4" width="43.6" height="170.0" fill="#fef7f4"/>
<rect x="168.3" y="74.4" width="43.6" height="170.0" filter="url(#hn)" opacity="0.29"/>
<rect x="168.3" y="74.4" width="43.6" height="170.0" fill="url(#wf)"/>
<rect x="168.3" y="74.4" width="43.6" height="170.0" fill="url(#hv)"/>
<g filter="url(#bb)">
<rect x="189.2" y="74.4" width="1.8" height="1.1" fill="#ec4a30" opacity="0.36"/>
<rect x="187.4" y="74.4" width="5.4" height="1.1" fill="#ee6a50" opacity="0.12"/>
<rect x="189.2" y="75.5" width="1.8" height="1.3" fill="#ec4a30" opacity="0.37"/>
<rect x="187.4" y="75.5" width="5.4" height="1.3" fill="#ee6a50" opacity="0.12"/>
<rect x="189.2" y="76.9" width="1.8" height="1.7" fill="#ec4a30" opacity="0.17"/>
<rect x="187.4" y="76.9" width="5.4" height="1.7" fill="#ee6a50" opacity="0.06"/>
<rect x="189.2" y="78.5" width="1.8" height="0.8" fill="#ec4a30" opacity="0.45"/>
<rect x="187.4" y="78.5" width="5.4" height="0.8" fill="#ee6a50" opacity="0.15"/>
<rect x="189.2" y="79.3" width="1.8" height="1.2" fill="#ec4a30" opacity="0.23"/>
<rect x="187.4" y="79.3" width="5.4" height="1.2" fill="#ee6a50" opacity="0.08"/>
<rect x="189.2" y="80.5" width="1.8" height="2.2" fill="#ec4a30" opacity="0.31"/>
<rect x="187.4" y="80.5" width="5.4" height="2.2" fill="#ee6a50" opacity="0.10"/>
<rect x="189.2" y="82.7" width="1.8" height="2.0" fill="#ec4a30" opacity="0.31"/>
<rect x="187.4" y="82.7" width="5.4" height="2.0" fill="#ee6a50" opacity="0.10"/>
<rect x="189.2" y="84.7" width="1.8" height="1.7" fill="#ec4a30" opacity="0.19"/>
<rect x="187.4" y="84.7" width="5.4" height="1.7" fill="#ee6a50" opacity="0.06"/>
<rect x="189.2" y="86.4" width="1.8" height="1.7" fill="#ec4a30" opacity="0.43"/>
<rect x="187.4" y="86.4" width="5.4" height="1.7" fill="#ee6a50" opacity="0.14"/>
<rect x="189.2" y="88.1" width="1.8" height="1.5" fill="#ec4a30" opacity="0.38"/>
<rect x="187.4" y="88.1" width="5.4" height="1.5" fill="#ee6a50" opacity="0.12"/>
<rect x="189.2" y="89.6" width="1.8" height="1.7" fill="#ec4a30" opacity="0.15"/>
<rect x="187.4" y="89.6" width="5.4" height="1.7" fill="#ee6a50" opacity="0.05"/>
<rect x="189.2" y="91.3" width="1.8" height="1.9" fill="#ec4a30" opacity="0.32"/>
<rect x="187.4" y="91.3" width="5.4" height="1.9" fill="#ee6a50" opacity="0.11"/>
<rect x="189.2" y="93.2" width="1.8" height="1.2" fill="#ec4a30" opacity="0.14"/>
<rect x="187.4" y="93.2" width="5.4" height="1.2" fill="#ee6a50" opacity="0.05"/>
<rect x="189.2" y="94.4" width="1.8" height="2.0" fill="#ec4a30" opacity="0.27"/>
<rect x="187.4" y="94.4" width="5.4" height="2.0" fill="#ee6a50" opacity="0.09"/>
<rect x="189.2" y="96.4" width="1.8" height="1.8" fill="#ec4a30" opacity="0.39"/>
<rect x="187.4" y="96.4" width="5.4" height="1.8" fill="#ee6a50" opacity="0.13"/>
<rect x="189.2" y="98.2" width="1.8" height="1.8" fill="#ec4a30" opacity="0.40"/>
<rect x="187.4" y="98.2" width="5.4" height="1.8" fill="#ee6a50" opacity="0.13"/>
<rect x="189.2" y="100.0" width="1.8" height="1.4" fill="#ec4a30" opacity="0.36"/>
<rect x="187.4" y="100.0" width="5.4" height="1.4" fill="#ee6a50" opacity="0.12"/>
<rect x="189.2" y="101.4" width="1.8" height="1.4" fill="#ec4a30" opacity="0.39"/>
<rect x="187.4" y="101.4" width="5.4" height="1.4" fill="#ee6a50" opacity="0.13"/>
<rect x="189.2" y="102.8" width="1.8" height="2.0" fill="#ec4a30" opacity="0.15"/>
<rect x="187.4" y="102.8" width="5.4" height="2.0" fill="#ee6a50" opacity="0.05"/>
<rect x="189.2" y="104.8" width="1.8" height="1.0" fill="#ec4a30" opacity="0.18"/>
<rect x="187.4" y="104.8" width="5.4" height="1.0" fill="#ee6a50" opacity="0.06"/>
<rect x="189.2" y="105.8" width="1.8" height="2.2" fill="#ec4a30" opacity="0.24"/>
<rect x="187.4" y="105.8" width="5.4" height="2.2" fill="#ee6a50" opacity="0.08"/>
<rect x="189.2" y="108.0" width="1.8" height="1.7" fill="#ec4a30" opacity="0.20"/>
<rect x="187.4" y="108.0" width="5.4" height="1.7" fill="#ee6a50" opacity="0.06"/>
<rect x="189.2" y="109.7" width="1.8" height="1.5" fill="#ec4a30" opacity="0.22"/>
<rect x="187.4" y="109.7" width="5.4" height="1.5" fill="#ee6a50" opacity="0.07"/>
<rect x="189.2" y="111.2" width="1.8" height="1.3" fill="#ec4a30" opacity="0.27"/>
<rect x="187.4" y="111.2" width="5.4" height="1.3" fill="#ee6a50" opacity="0.09"/>
<rect x="189.2" y="112.5" width="1.8" height="1.6" fill="#ec4a30" opacity="0.35"/>
<rect x="187.4" y="112.5" width="5.4" height="1.6" fill="#ee6a50" opacity="0.11"/>
<rect x="189.2" y="114.1" width="1.8" height="1.8" fill="#ec4a30" opacity="0.35"/>
<rect x="187.4" y="114.1" width="5.4" height="1.8" fill="#ee6a50" opacity="0.12"/>
<rect x="189.2" y="115.8" width="1.8" height="2.0" fill="#ec4a30" opacity="0.36"/>
<rect x="187.4" y="115.8" width="5.4" height="2.0" fill="#ee6a50" opacity="0.12"/>
<rect x="189.2" y="117.8" width="1.8" height="1.7" fill="#ec4a30" opacity="0.14"/>
<rect x="187.4" y="117.8" width="5.4" height="1.7" fill="#ee6a50" opacity="0.05"/>
<rect x="189.2" y="119.6" width="1.8" height="2.0" fill="#ec4a30" opacity="0.34"/>
<rect x="187.4" y="119.6" width="5.4" height="2.0" fill="#ee6a50" opacity="0.11"/>
<rect x="189.2" y="121.6" width="1.8" height="2.1" fill="#ec4a30" opacity="0.24"/>
<rect x="187.4" y="121.6" width="5.4" height="2.1" fill="#ee6a50" opacity="0.08"/>
<rect x="189.2" y="123.6" width="1.8" height="1.8" fill="#ec4a30" opacity="0.15"/>
<rect x="187.4" y="123.6" width="5.4" height="1.8" fill="#ee6a50" opacity="0.05"/>
<rect x="189.2" y="125.4" width="1.8" height="2.0" fill="#ec4a30" opacity="0.23"/>
<rect x="187.4" y="125.4" width="5.4" height="2.0" fill="#ee6a50" opacity="0.08"/>
<rect x="189.2" y="127.4" width="1.8" height="1.2" fill="#ec4a30" opacity="0.11"/>
<rect x="187.4" y="127.4" width="5.4" height="1.2" fill="#ee6a50" opacity="0.04"/>
<rect x="189.2" y="128.6" width="1.8" height="2.0" fill="#ec4a30" opacity="0.33"/>
<rect x="187.4" y="128.6" width="5.4" height="2.0" fill="#ee6a50" opacity="0.11"/>
<rect x="189.2" y="130.6" width="1.8" height="0.9" fill="#ec4a30" opacity="0.28"/>
<rect x="187.4" y="130.6" width="5.4" height="0.9" fill="#ee6a50" opacity="0.09"/>
<rect x="189.2" y="131.5" width="1.8" height="1.4" fill="#ec4a30" opacity="0.13"/>
<rect x="187.4" y="131.5" width="5.4" height="1.4" fill="#ee6a50" opacity="0.04"/>
<rect x="189.2" y="132.9" width="1.8" height="1.2" fill="#ec4a30" opacity="0.27"/>
<rect x="187.4" y="132.9" width="5.4" height="1.2" fill="#ee6a50" opacity="0.09"/>
<rect x="189.2" y="134.1" width="1.8" height="2.0" fill="#ec4a30" opacity="0.10"/>
<rect x="187.4" y="134.1" width="5.4" height="2.0" fill="#ee6a50" opacity="0.03"/>
<rect x="189.2" y="136.1" width="1.8" height="1.7" fill="#ec4a30" opacity="0.10"/>
<rect x="187.4" y="136.1" width="5.4" height="1.7" fill="#ee6a50" opacity="0.03"/>
<rect x="189.2" y="137.8" width="1.8" height="1.8" fill="#ec4a30" opacity="0.16"/>
<rect x="187.4" y="137.8" width="5.4" height="1.8" fill="#ee6a50" opacity="0.05"/>
<rect x="189.2" y="139.6" width="1.8" height="2.0" fill="#ec4a30" opacity="0.30"/>
<rect x="187.4" y="139.6" width="5.4" height="2.0" fill="#ee6a50" opacity="0.10"/>
<rect x="189.2" y="141.6" width="1.8" height="1.5" fill="#ec4a30" opacity="0.30"/>
<rect x="187.4" y="141.6" width="5.4" height="1.5" fill="#ee6a50" opacity="0.10"/>
<rect x="189.2" y="143.1" width="1.8" height="1.2" fill="#ec4a30" opacity="0.10"/>
<rect x="187.4" y="143.1" width="5.4" height="1.2" fill="#ee6a50" opacity="0.03"/>
<rect x="189.2" y="144.4" width="1.8" height="1.6" fill="#ec4a30" opacity="0.09"/>
<rect x="187.4" y="144.4" width="5.4" height="1.6" fill="#ee6a50" opacity="0.03"/>
<rect x="189.2" y="146.0" width="1.8" height="1.1" fill="#ec4a30" opacity="0.17"/>
<rect x="187.4" y="146.0" width="5.4" height="1.1" fill="#ee6a50" opacity="0.06"/>
<rect x="189.2" y="147.1" width="1.8" height="1.7" fill="#ec4a30" opacity="0.11"/>
<rect x="187.4" y="147.1" width="5.4" height="1.7" fill="#ee6a50" opacity="0.04"/>
<rect x="189.2" y="148.7" width="1.8" height="0.9" fill="#ec4a30" opacity="0.26"/>
<rect x="187.4" y="148.7" width="5.4" height="0.9" fill="#ee6a50" opacity="0.08"/>
<rect x="189.2" y="149.6" width="1.8" height="1.2" fill="#ec4a30" opacity="0.27"/>
<rect x="187.4" y="149.6" width="5.4" height="1.2" fill="#ee6a50" opacity="0.09"/>
<rect x="189.2" y="150.8" width="1.8" height="2.1" fill="#ec4a30" opacity="0.16"/>
<rect x="187.4" y="150.8" width="5.4" height="2.1" fill="#ee6a50" opacity="0.05"/>
<rect x="189.2" y="152.9" width="1.8" height="1.4" fill="#ec4a30" opacity="0.18"/>
<rect x="187.4" y="152.9" width="5.4" height="1.4" fill="#ee6a50" opacity="0.06"/>
<rect x="189.2" y="154.3" width="1.8" height="1.7" fill="#ec4a30" opacity="0.19"/>
<rect x="187.4" y="154.3" width="5.4" height="1.7" fill="#ee6a50" opacity="0.06"/>
<rect x="189.2" y="156.0" width="1.8" height="1.6" fill="#ec4a30" opacity="0.20"/>
<rect x="187.4" y="156.0" width="5.4" height="1.6" fill="#ee6a50" opacity="0.06"/>
<rect x="189.2" y="157.6" width="1.8" height="2.1" fill="#ec4a30" opacity="0.17"/>
<rect x="187.4" y="157.6" width="5.4" height="2.1" fill="#ee6a50" opacity="0.06"/>
<rect x="189.2" y="159.7" width="1.8" height="1.4" fill="#ec4a30" opacity="0.21"/>
<rect x="187.4" y="159.7" width="5.4" height="1.4" fill="#ee6a50" opacity="0.07"/>
<rect x="189.2" y="161.1" width="1.8" height="1.1" fill="#ec4a30" opacity="0.13"/>
<rect x="187.4" y="161.1" width="5.4" height="1.1" fill="#ee6a50" opacity="0.04"/>
<rect x="189.2" y="162.3" width="1.8" height="2.2" fill="#ec4a30" opacity="0.17"/>
<rect x="187.4" y="162.3" width="5.4" height="2.2" fill="#ee6a50" opacity="0.06"/>
<rect x="189.2" y="164.4" width="1.8" height="1.6" fill="#ec4a30" opacity="0.08"/>
<rect x="187.4" y="164.4" width="5.4" height="1.6" fill="#ee6a50" opacity="0.03"/>
<rect x="189.2" y="166.0" width="1.8" height="1.4" fill="#ec4a30" opacity="0.18"/>
<rect x="187.4" y="166.0" width="5.4" height="1.4" fill="#ee6a50" opacity="0.06"/>
<rect x="189.2" y="167.4" width="1.8" height="0.8" fill="#ec4a30" opacity="0.18"/>
<rect x="187.4" y="167.4" width="5.4" height="0.8" fill="#ee6a50" opacity="0.06"/>
<rect x="189.2" y="168.2" width="1.8" height="1.7" fill="#ec4a30" opacity="0.08"/>
<rect x="187.4" y="168.2" width="5.4" height="1.7" fill="#ee6a50" opacity="0.03"/>
<rect x="189.2" y="169.9" width="1.8" height="1.7" fill="#ec4a30" opacity="0.15"/>
<rect x="187.4" y="169.9" width="5.4" height="1.7" fill="#ee6a50" opacity="0.05"/>
<rect x="189.2" y="171.6" width="1.8" height="1.8" fill="#ec4a30" opacity="0.13"/>
<rect x="187.4" y="171.6" width="5.4" height="1.8" fill="#ee6a50" opacity="0.04"/>
<rect x="189.2" y="173.3" width="1.8" height="1.8" fill="#ec4a30" opacity="0.20"/>
<rect x="187.4" y="173.3" width="5.4" height="1.8" fill="#ee6a50" opacity="0.06"/>
<rect x="189.2" y="175.1" width="1.8" height="0.8" fill="#ec4a30" opacity="0.08"/>
<rect x="187.4" y="175.1" width="5.4" height="0.8" fill="#ee6a50" opacity="0.03"/>
<rect x="189.2" y="176.0" width="1.8" height="1.7" fill="#ec4a30" opacity="0.23"/>
<rect x="187.4" y="176.0" width="5.4" height="1.7" fill="#ee6a50" opacity="0.08"/>
<rect x="189.2" y="177.7" width="1.8" height="1.2" fill="#ec4a30" opacity="0.14"/>
<rect x="187.4" y="177.7" width="5.4" height="1.2" fill="#ee6a50" opacity="0.05"/>
<rect x="189.2" y="178.9" width="1.8" height="1.6" fill="#ec4a30" opacity="0.12"/>
<rect x="187.4" y="178.9" width="5.4" height="1.6" fill="#ee6a50" opacity="0.04"/>
<rect x="189.2" y="180.5" width="1.8" height="1.3" fill="#ec4a30" opacity="0.12"/>
<rect x="187.4" y="180.5" width="5.4" height="1.3" fill="#ee6a50" opacity="0.04"/>
<rect x="189.2" y="181.8" width="1.8" height="1.3" fill="#ec4a30" opacity="0.16"/>
<rect x="187.4" y="181.8" width="5.4" height="1.3" fill="#ee6a50" opacity="0.05"/>
<rect x="189.2" y="183.1" width="1.8" height="1.2" fill="#ec4a30" opacity="0.13"/>
<rect x="187.4" y="183.1" width="5.4" height="1.2" fill="#ee6a50" opacity="0.04"/>
<rect x="189.2" y="184.3" width="1.8" height="1.9" fill="#ec4a30" opacity="0.07"/>
<rect x="187.4" y="184.3" width="5.4" height="1.9" fill="#ee6a50" opacity="0.02"/>
<rect x="189.2" y="186.2" width="1.8" height="1.6" fill="#ec4a30" opacity="0.18"/>
<rect x="187.4" y="186.2" width="5.4" height="1.6" fill="#ee6a50" opacity="0.06"/>
<rect x="189.2" y="187.8" width="1.8" height="1.2" fill="#ec4a30" opacity="0.10"/>
<rect x="187.4" y="187.8" width="5.4" height="1.2" fill="#ee6a50" opacity="0.03"/>
<rect x="189.2" y="189.0" width="1.8" height="1.9" fill="#ec4a30" opacity="0.10"/>
<rect x="187.4" y="189.0" width="5.4" height="1.9" fill="#ee6a50" opacity="0.03"/>
<rect x="189.2" y="191.0" width="1.8" height="1.1" fill="#ec4a30" opacity="0.13"/>
<rect x="187.4" y="191.0" width="5.4" height="1.1" fill="#ee6a50" opacity="0.04"/>
<rect x="189.2" y="192.0" width="1.8" height="1.8" fill="#ec4a30" opacity="0.08"/>
<rect x="187.4" y="192.0" width="5.4" height="1.8" fill="#ee6a50" opacity="0.03"/>
<rect x="189.2" y="193.8" width="1.8" height="1.3" fill="#ec4a30" opacity="0.11"/>
<rect x="187.4" y="193.8" width="5.4" height="1.3" fill="#ee6a50" opacity="0.04"/>
<rect x="189.2" y="195.1" width="1.8" height="2.0" fill="#ec4a30" opacity="0.13"/>
<rect x="187.4" y="195.1" width="5.4" height="2.0" fill="#ee6a50" opacity="0.04"/>
<rect x="189.2" y="197.0" width="1.8" height="2.0" fill="#ec4a30" opacity="0.09"/>
<rect x="187.4" y="197.0" width="5.4" height="2.0" fill="#ee6a50" opacity="0.03"/>
<rect x="189.2" y="199.0" width="1.8" height="1.3" fill="#ec4a30" opacity="0.16"/>
<rect x="187.4" y="199.0" width="5.4" height="1.3" fill="#ee6a50" opacity="0.05"/>
<rect x="189.2" y="200.3" width="1.8" height="2.0" fill="#ec4a30" opacity="0.13"/>
<rect x="187.4" y="200.3" width="5.4" height="2.0" fill="#ee6a50" opacity="0.04"/>
<rect x="189.2" y="202.3" width="1.8" height="1.1" fill="#ec4a30" opacity="0.08"/>
<rect x="187.4" y="202.3" width="5.4" height="1.1" fill="#ee6a50" opacity="0.03"/>
<rect x="189.2" y="203.5" width="1.8" height="1.5" fill="#ec4a30" opacity="0.09"/>
<rect x="187.4" y="203.5" width="5.4" height="1.5" fill="#ee6a50" opacity="0.03"/>
<rect x="189.2" y="205.0" width="1.8" height="1.9" fill="#ec4a30" opacity="0.18"/>
<rect x="187.4" y="205.0" width="5.4" height="1.9" fill="#ee6a50" opacity="0.06"/>
<rect x="189.2" y="206.9" width="1.8" height="1.1" fill="#ec4a30" opacity="0.10"/>
<rect x="187.4" y="206.9" width="5.4" height="1.1" fill="#ee6a50" opacity="0.03"/>
<rect x="189.2" y="208.0" width="1.8" height="1.9" fill="#ec4a30" opacity="0.15"/>
<rect x="187.4" y="208.0" width="5.4" height="1.9" fill="#ee6a50" opacity="0.05"/>
<rect x="189.2" y="209.9" width="1.8" height="1.9" fill="#ec4a30" opacity="0.11"/>
<rect x="187.4" y="209.9" width="5.4" height="1.9" fill="#ee6a50" opacity="0.04"/>
<rect x="189.2" y="211.8" width="1.8" height="1.0" fill="#ec4a30" opacity="0.10"/>
<rect x="187.4" y="211.8" width="5.4" height="1.0" fill="#ee6a50" opacity="0.03"/>
<rect x="189.2" y="212.8" width="1.8" height="1.9" fill="#ec4a30" opacity="0.10"/>
<rect x="187.4" y="212.8" width="5.4" height="1.9" fill="#ee6a50" opacity="0.03"/>
<rect x="189.2" y="214.7" width="1.8" height="1.3" fill="#ec4a30" opacity="0.11"/>
<rect x="187.4" y="214.7" width="5.4" height="1.3" fill="#ee6a50" opacity="0.04"/>
<rect x="189.2" y="216.0" width="1.8" height="1.4" fill="#ec4a30" opacity="0.11"/>
<rect x="187.4" y="216.0" width="5.4" height="1.4" fill="#ee6a50" opacity="0.04"/>
<rect x="189.2" y="217.4" width="1.8" height="2.1" fill="#ec4a30" opacity="0.08"/>
<rect x="187.4" y="217.4" width="5.4" height="2.1" fill="#ee6a50" opacity="0.03"/>
<rect x="189.2" y="219.5" width="1.8" height="0.8" fill="#ec4a30" opacity="0.18"/>
<rect x="187.4" y="219.5" width="5.4" height="0.8" fill="#ee6a50" opacity="0.06"/>
<rect x="189.2" y="220.3" width="1.8" height="2.0" fill="#ec4a30" opacity="0.19"/>
<rect x="187.4" y="220.3" width="5.4" height="2.0" fill="#ee6a50" opacity="0.06"/>
<rect x="189.2" y="222.3" width="1.8" height="1.4" fill="#ec4a30" opacity="0.18"/>
<rect x="187.4" y="222.3" width="5.4" height="1.4" fill="#ee6a50" opacity="0.06"/>
<rect x="189.2" y="223.7" width="1.8" height="2.1" fill="#ec4a30" opacity="0.08"/>
<rect x="187.4" y="223.7" width="5.4" height="2.1" fill="#ee6a50" opacity="0.03"/>
<rect x="189.2" y="225.8" width="1.8" height="1.8" fill="#ec4a30" opacity="0.17"/>
<rect x="187.4" y="225.8" width="5.4" height="1.8" fill="#ee6a50" opacity="0.05"/>
<rect x="189.2" y="227.7" width="1.8" height="1.7" fill="#ec4a30" opacity="0.12"/>
<rect x="187.4" y="227.7" width="5.4" height="1.7" fill="#ee6a50" opacity="0.04"/>
<rect x="189.2" y="229.4" width="1.8" height="1.2" fill="#ec4a30" opacity="0.10"/>
<rect x="187.4" y="229.4" width="5.4" height="1.2" fill="#ee6a50" opacity="0.03"/>
<rect x="189.2" y="230.6" width="1.8" height="1.1" fill="#ec4a30" opacity="0.06"/>
<rect x="187.4" y="230.6" width="5.4" height="1.1" fill="#ee6a50" opacity="0.02"/>
<rect x="189.2" y="231.7" width="1.8" height="1.6" fill="#ec4a30" opacity="0.09"/>
<rect x="187.4" y="231.7" width="5.4" height="1.6" fill="#ee6a50" opacity="0.03"/>
<rect x="189.2" y="233.4" width="1.8" height="1.9" fill="#ec4a30" opacity="0.06"/>
<rect x="187.4" y="233.4" width="5.4" height="1.9" fill="#ee6a50" opacity="0.02"/>
<rect x="189.2" y="235.3" width="1.8" height="2.1" fill="#ec4a30" opacity="0.14"/>
<rect x="187.4" y="235.3" width="5.4" height="2.1" fill="#ee6a50" opacity="0.05"/>
<rect x="189.2" y="237.4" width="1.8" height="2.1" fill="#ec4a30" opacity="0.17"/>
<rect x="187.4" y="237.4" width="5.4" height="2.1" fill="#ee6a50" opacity="0.05"/>
<rect x="189.2" y="239.4" width="1.8" height="2.1" fill="#ec4a30" opacity="0.12"/>
<rect x="187.4" y="239.4" width="5.4" height="2.1" fill="#ee6a50" opacity="0.04"/>
<rect x="189.2" y="241.5" width="1.8" height="0.8" fill="#ec4a30" opacity="0.15"/>
<rect x="187.4" y="241.5" width="5.4" height="0.8" fill="#ee6a50" opacity="0.05"/>
<rect x="189.2" y="242.3" width="1.8" height="1.0" fill="#ec4a30" opacity="0.09"/>
<rect x="187.4" y="242.3" width="5.4" height="1.0" fill="#ee6a50" opacity="0.03"/>
<rect x="189.2" y="243.4" width="1.8" height="1.0" fill="#ec4a30" opacity="0.12"/>
<rect x="187.4" y="243.4" width="5.4" height="1.0" fill="#ee6a50" opacity="0.04"/>
</g>
<rect x="168.65" y="74.75" width="42.9" height="169.3" fill="none" stroke="#9d9d9d" stroke-width="1.05"/>
<line x1="168.3" y1="245.20000000000002" x2="211.9" y2="245.20000000000002" stroke="#999" stroke-width="0.6" stroke-dasharray="0.6 1.2"/>
<text transform="translate(175.3,246.6) rotate(-90)" font-size="10.4" text-anchor="end" stroke="#000" stroke-width="0.2">-5kb</text>
<text transform="translate(194.0,246.6) rotate(-90)" font-size="10.4" text-anchor="end" stroke="#000" stroke-width="0.2">Center</text>
<text transform="translate(212.8,246.6) rotate(-90)" font-size="10.4" text-anchor="end" stroke="#000" stroke-width="0.2">5kb</text>
<rect x="2.8" y="99.9" width="11.3" height="41" fill="url(#cb)"/>
<rect x="2.8" y="100.5" width="2.2" height="0.8" fill="#fff" opacity="0.85"/>
<rect x="11.9" y="100.5" width="2.2" height="0.8" fill="#fff" opacity="0.85"/>
<rect x="2.8" y="113.9" width="2.2" height="0.8" fill="#fff" opacity="0.85"/>
<rect x="11.9" y="113.9" width="2.2" height="0.8" fill="#fff" opacity="0.85"/>
<rect x="2.8" y="127.2" width="2.2" height="0.8" fill="#fff" opacity="0.85"/>
<rect x="11.9" y="127.2" width="2.2" height="0.8" fill="#fff" opacity="0.85"/>
<text x="16.60" y="105.20" font-size="9" stroke="#000" stroke-width="0.17">60</text>
<text x="16.60" y="118.30" font-size="9" stroke="#000" stroke-width="0.17">40</text>
<text x="16.60" y="131.60" font-size="9" stroke="#000" stroke-width="0.17">20</text>
<text x="16.60" y="144.60" font-size="9" stroke="#000" stroke-width="0.17">0</text>
<line x1="256.4" y1="76.5" x2="256.4" y2="245.3" stroke="#333" stroke-width="0.9"/>
<line x1="256" y1="244.9" x2="390.8" y2="244.9" stroke="#333" stroke-width="0.9"/>
<line x1="254.3" y1="226.4" x2="256.4" y2="226.4" stroke="#333" stroke-width="0.8"/>
<text x="254.60" y="230.60" font-size="11.8" text-anchor="end" stroke="#000" stroke-width="0.23">5</text>
<line x1="254.3" y1="181.8" x2="256.4" y2="181.8" stroke="#333" stroke-width="0.8"/>
<text x="254.60" y="186.00" font-size="11.8" text-anchor="end" stroke="#000" stroke-width="0.23">10</text>
<line x1="254.3" y1="137.2" x2="256.4" y2="137.2" stroke="#333" stroke-width="0.8"/>
<text x="254.60" y="141.40" font-size="11.8" text-anchor="end" stroke="#000" stroke-width="0.23">15</text>
<line x1="254.3" y1="92.6" x2="256.4" y2="92.6" stroke="#333" stroke-width="0.8"/>
<text x="254.60" y="96.80" font-size="11.8" text-anchor="end" stroke="#000" stroke-width="0.23">20</text>
<text x="267.00" y="257.00" font-size="11.3" text-anchor="middle" stroke="#000" stroke-width="0.22">-5kb</text>
<text x="326.30" y="257.00" font-size="11.3" text-anchor="middle" stroke="#000" stroke-width="0.22">Center</text>
<text x="381.50" y="257.00" font-size="11.3" text-anchor="middle" stroke="#000" stroke-width="0.22">5kb</text>
<text transform="translate(238.6,166.4) rotate(-90)" font-size="11.5" text-anchor="middle" stroke="#000" stroke-width="0.22">Average AR signal</text>
<path d="M257.7,237.8 L258.8,237.7 L259.9,237.3 L261.0,237.5 L262.1,237.6 L263.2,237.6 L264.3,237.9 L265.4,237.8 L266.5,237.6 L267.6,237.4 L268.7,237.8 L269.8,237.9 L270.9,238.2 L272.0,237.7 L273.1,237.5 L274.2,237.9 L275.4,237.4 L276.5,237.0 L277.6,237.1 L278.7,237.2 L279.8,237.6 L280.9,237.9 L282.0,237.7 L283.1,238.0 L284.2,238.0 L285.3,237.9 L286.4,238.1 L287.5,237.8 L288.6,237.6 L289.7,237.1 L290.8,237.1 L291.9,237.0 L293.0,237.0 L294.1,236.8 L295.2,236.9 L296.3,237.0 L297.4,236.5 L298.5,236.1 L299.6,236.0 L300.7,236.0 L301.8,236.2 L302.9,236.4 L304.0,236.4 L305.1,236.5 L306.2,235.9 L307.4,235.8 L308.5,235.2 L309.6,235.2 L310.7,234.5 L311.8,234.0 L312.9,234.3 L314.0,234.0 L315.1,232.8 L316.2,231.7 L317.3,229.3 L318.4,226.0 L319.5,220.9 L320.6,213.0 L321.7,204.1 L322.8,196.7 L323.9,192.5 L325.0,195.9 L326.1,202.6 L327.2,211.1 L328.3,219.5 L329.4,225.7 L330.5,229.8 L331.6,232.2 L332.7,233.0 L333.8,233.9 L334.9,234.3 L336.0,234.6 L337.1,235.2 L338.2,235.1 L339.3,235.7 L340.4,235.7 L341.6,236.2 L342.7,236.3 L343.8,236.6 L344.9,236.7 L346.0,236.3 L347.1,236.2 L348.2,236.6 L349.3,236.4 L350.4,236.8 L351.5,237.0 L352.6,236.7 L353.7,236.7 L354.8,237.3 L355.9,236.8 L357.0,237.2 L358.1,237.5 L359.2,237.2 L360.3,237.4 L361.4,237.6 L362.5,237.9 L363.6,238.1 L364.7,237.7 L365.8,237.9 L366.9,237.6 L368.0,237.7 L369.1,237.7 L370.2,237.2 L371.3,237.4 L372.4,237.4 L373.6,237.2 L374.7,237.6 L375.8,237.9 L376.9,237.5 L378.0,237.3 L379.1,237.7 L380.2,237.9 L381.3,237.6 L382.4,237.3 L383.5,237.7 L384.6,237.3 L385.7,237.2 L386.8,237.3 L387.9,237.5 L389.0,238.0 L390.1,238.3" fill="none" stroke="#F8766D" stroke-width="0.9" stroke-linejoin="round"/>
<path d="M257.7,237.1 L258.8,237.0 L259.9,236.9 L261.0,237.3 L262.1,237.6 L263.2,237.5 L264.3,237.5 L265.4,237.0 L266.5,236.9 L267.6,236.8 L268.7,236.8 L269.8,236.7 L270.9,237.1 L272.0,237.1 L273.1,237.3 L274.2,236.8 L275.4,237.2 L276.5,236.7 L277.6,237.1 L278.7,236.8 L279.8,236.9 L280.9,236.9 L282.0,236.5 L283.1,236.9 L284.2,237.1 L285.3,236.5 L286.4,236.5 L287.5,236.8 L288.6,236.2 L289.7,235.8 L290.8,236.3 L291.9,236.3 L293.0,236.5 L294.1,236.4 L295.2,236.1 L296.3,236.2 L297.4,235.8 L298.5,236.0 L299.6,236.0 L300.7,235.4 L301.8,235.4 L302.9,235.2 L304.0,234.9 L305.1,234.8 L306.2,234.6 L307.4,234.8 L308.5,234.1 L309.6,233.4 L310.7,232.8 L311.8,232.5 L312.9,232.4 L314.0,232.1 L315.1,231.1 L316.2,229.8 L317.3,228.0 L318.4,224.2 L319.5,218.1 L320.6,209.5 L321.7,199.6 L322.8,191.3 L323.9,186.8 L325.0,190.1 L326.1,198.1 L327.2,207.6 L328.3,216.6 L329.4,223.2 L330.5,227.5 L331.6,229.6 L332.7,231.4 L333.8,232.1 L334.9,232.9 L336.0,233.0 L337.1,233.8 L338.2,234.1 L339.3,234.4 L340.4,234.4 L341.6,235.0 L342.7,235.0 L343.8,235.3 L344.9,235.5 L346.0,235.5 L347.1,235.1 L348.2,235.4 L349.3,235.2 L350.4,235.7 L351.5,235.5 L352.6,235.8 L353.7,236.2 L354.8,236.0 L355.9,235.8 L357.0,236.4 L358.1,236.6 L359.2,236.3 L360.3,236.5 L361.4,236.8 L362.5,237.1 L363.6,237.3 L364.7,237.0 L365.8,236.4 L366.9,236.1 L368.0,236.4 L369.1,237.0 L370.2,237.1 L371.3,236.7 L372.4,236.5 L373.6,236.6 L374.7,236.9 L375.8,236.9 L376.9,237.0 L378.0,236.9 L379.1,237.1 L380.2,236.7 L381.3,236.5 L382.4,237.0 L383.5,237.2 L384.6,236.8 L385.7,237.1 L386.8,236.7 L387.9,236.9 L389.0,236.8 L390.1,236.8" fill="none" stroke="#7CAE00" stroke-width="0.9" stroke-linejoin="round"/>
<path d="M257.7,237.3 L258.8,237.1 L259.9,236.9 L261.0,236.7 L262.1,237.1 L263.2,237.3 L264.3,237.5 L265.4,237.5 L266.5,237.1 L267.6,237.4 L268.7,237.2 L269.8,237.3 L270.9,237.3 L272.0,237.2 L273.1,236.8 L274.2,236.7 L275.4,237.2 L276.5,237.2 L277.6,237.3 L278.7,236.7 L279.8,236.4 L280.9,236.2 L282.0,236.1 L283.1,236.1 L284.2,235.8 L285.3,235.8 L286.4,236.2 L287.5,236.0 L288.6,236.1 L289.7,235.9 L290.8,235.9 L291.9,236.0 L293.0,236.1 L294.1,236.1 L295.2,236.1 L296.3,236.2 L297.4,235.7 L298.5,235.3 L299.6,234.9 L300.7,234.8 L301.8,234.8 L302.9,234.6 L304.0,234.9 L305.1,234.5 L306.2,234.4 L307.4,234.5 L308.5,234.3 L309.6,233.9 L310.7,233.7 L311.8,233.2 L312.9,232.5 L314.0,232.0 L315.1,231.5 L316.2,230.1 L317.3,227.9 L318.4,224.0 L319.5,217.8 L320.6,209.1 L321.7,199.5 L322.8,190.5 L323.9,185.1 L325.0,189.0 L326.1,196.9 L327.2,206.4 L328.3,215.9 L329.4,223.0 L330.5,226.9 L331.6,229.2 L332.7,230.6 L333.8,231.9 L334.9,232.5 L336.0,232.6 L337.1,232.8 L338.2,233.0 L339.3,233.8 L340.4,233.8 L341.6,234.3 L342.7,234.4 L343.8,235.0 L344.9,234.7 L346.0,234.9 L347.1,234.9 L348.2,235.5 L349.3,235.5 L350.4,235.5 L351.5,235.6 L352.6,235.9 L353.7,235.8 L354.8,236.1 L355.9,236.3 L357.0,236.6 L358.1,236.3 L359.2,236.7 L360.3,236.8 L361.4,237.1 L362.5,236.8 L363.6,236.6 L364.7,236.6 L365.8,237.0 L366.9,237.0 L368.0,237.0 L369.1,237.3 L370.2,237.5 L371.3,236.8 L372.4,237.2 L373.6,237.2 L374.7,237.3 L375.8,237.1 L376.9,237.4 L378.0,237.3 L379.1,237.3 L380.2,236.9 L381.3,237.4 L382.4,237.4 L383.5,237.3 L384.6,236.8 L385.7,236.9 L386.8,237.0 L387.9,236.9 L389.0,237.2 L390.1,237.5" fill="none" stroke="#00BFC4" stroke-width="0.9" stroke-linejoin="round"/>
<path d="M257.7,235.5 L258.8,235.2 L259.9,235.0 L261.0,234.7 L262.1,234.9 L263.2,235.1 L264.3,234.8 L265.4,234.7 L266.5,234.8 L267.6,234.6 L268.7,234.6 L269.8,234.4 L270.9,234.6 L272.0,234.7 L273.1,234.2 L274.2,234.3 L275.4,234.3 L276.5,233.9 L277.6,233.8 L278.7,234.0 L279.8,233.8 L280.9,233.5 L282.0,233.6 L283.1,233.3 L284.2,233.4 L285.3,233.3 L286.4,233.3 L287.5,233.2 L288.6,232.5 L289.7,232.4 L290.8,231.8 L291.9,231.8 L293.0,231.5 L294.1,231.1 L295.2,230.8 L296.3,231.0 L297.4,230.6 L298.5,230.2 L299.6,230.1 L300.7,230.0 L301.8,229.2 L302.9,228.7 L304.0,228.5 L305.1,227.9 L306.2,227.5 L307.4,226.5 L308.5,225.8 L309.6,225.3 L310.7,224.1 L311.8,223.4 L312.9,222.3 L314.0,221.0 L315.1,218.6 L316.2,215.4 L317.3,209.2 L318.4,198.4 L319.5,180.4 L320.6,155.0 L321.7,126.0 L322.8,100.3 L323.9,85.5 L325.0,96.7 L326.1,120.8 L327.2,150.1 L328.3,176.2 L329.4,195.6 L330.5,207.3 L331.6,213.8 L332.7,218.0 L333.8,220.5 L334.9,221.8 L336.0,222.9 L337.1,224.3 L338.2,225.0 L339.3,225.4 L340.4,226.3 L341.6,227.1 L342.7,227.7 L343.8,227.9 L344.9,228.7 L346.0,229.3 L347.1,229.8 L348.2,230.0 L349.3,230.3 L350.4,230.8 L351.5,231.1 L352.6,231.6 L353.7,231.8 L354.8,231.5 L355.9,231.8 L357.0,232.2 L358.1,232.0 L359.2,232.4 L360.3,232.8 L361.4,233.2 L362.5,233.5 L363.6,233.7 L364.7,233.8 L365.8,233.5 L366.9,233.7 L368.0,234.0 L369.1,233.9 L370.2,233.7 L371.3,234.0 L372.4,233.9 L373.6,234.2 L374.7,234.2 L375.8,234.3 L376.9,234.1 L378.0,234.1 L379.1,234.4 L380.2,234.3 L381.3,234.6 L382.4,234.8 L383.5,234.5 L384.6,234.7 L385.7,234.6 L386.8,235.0 L387.9,234.7 L389.0,234.8 L390.1,235.2" fill="none" stroke="#C77CFF" stroke-width="0.9" stroke-linejoin="round"/>
<line x1="342.6" y1="118.4" x2="350.3" y2="118.4" stroke="#F8766D" stroke-width="1.1"/>
<text x="354.20" y="122.40" font-size="11.4" stroke="#000" stroke-width="0.22">AR ASO</text>
<line x1="342.6" y1="129.0" x2="350.3" y2="129.0" stroke="#7CAE00" stroke-width="1.1"/>
<text x="354.20" y="133.00" font-size="11.4" stroke="#000" stroke-width="0.22">Control ASO</text>
<line x1="342.6" y1="139.7" x2="350.3" y2="139.7" stroke="#00BFC4" stroke-width="1.1"/>
<text x="354.20" y="143.70" font-size="11.4" stroke="#000" stroke-width="0.22">DHT + AR ASO</text>
<line x1="342.6" y1="150.6" x2="350.3" y2="150.6" stroke="#C77CFF" stroke-width="1.1"/>
<text x="354.20" y="154.60" font-size="11.4" stroke="#000" stroke-width="0.22">DHT + Control ASO</text>
<text x="530.50" y="28.00" font-size="12.4" stroke="#000" stroke-width="0.24">AR binding sites</text>
<rect x="530.5" y="29.2" width="90.1" height="1" fill="#222"/>
<text x="482.90" y="59.40" font-size="11.6" stroke="#000" stroke-width="0.22">Control</text>
<text x="482.90" y="72.20" font-size="11.6" stroke="#000" stroke-width="0.22">ASO</text>
<text x="646.00" y="59.40" font-size="11.6" text-anchor="middle" stroke="#000" stroke-width="0.22">DHT +</text>
<text x="646.00" y="72.20" font-size="11.6" text-anchor="middle" stroke="#000" stroke-width="0.22">AR ASO</text>
<text x="575.20" y="232.00" font-size="11.6" text-anchor="middle" stroke="#000" stroke-width="0.22">DHT +</text>
<text x="575.20" y="246.20" font-size="11.6" text-anchor="middle" stroke="#000" stroke-width="0.22">Control ASO</text>
<defs><clipPath id="cG"><circle cx="542.2" cy="113.3" r="43.6"/></clipPath><clipPath id="cC"><circle cx="601.0" cy="113.3" r="43.6"/></clipPath><clipPath id="cP"><circle cx="571.5" cy="170.3" r="44.0"/></clipPath></defs>
<circle cx="542.2" cy="113.3" r="43.6" fill="#b0d66a"/>
<circle cx="601.0" cy="113.3" r="43.6" fill="#66cccb"/>
<g clip-path="url(#cG)"><circle cx="601.0" cy="113.3" r="43.6" fill="#4dc8b2"/></g>
<circle cx="571.5" cy="170.3" r="44.0" fill="#a68bd8"/>
<g clip-path="url(#cP)"><circle cx="542.2" cy="113.3" r="43.6" fill="#9a83cc"/><circle cx="601.0" cy="113.3" r="43.6" fill="#8484d0"/><g clip-path="url(#cG)"><circle cx="601.0" cy="113.3" r="43.6" fill="#8886cf"/></g></g>
<circle cx="542.2" cy="113.3" r="43.6" fill="none" stroke="#203040" stroke-opacity="0.16" stroke-width="0.6"/>
<circle cx="601.0" cy="113.3" r="43.6" fill="none" stroke="#203040" stroke-opacity="0.16" stroke-width="0.6"/>
<circle cx="571.5" cy="170.3" r="44.0" fill="none" stroke="#203040" stroke-opacity="0.16" stroke-width="0.6"/>
<text x="527.60" y="111.30" font-size="11.2" text-anchor="middle" fill="#111" stroke="#111" stroke-width="0.21">1224</text>
<text x="569.50" y="111.80" font-size="9.4" text-anchor="middle" fill="#111" stroke="#111" stroke-width="0.18">18</text>
<text x="612.70" y="111.30" font-size="11.2" text-anchor="middle" fill="#111" stroke="#111" stroke-width="0.21">1478</text>
<text x="569.50" y="138.20" font-size="9.4" text-anchor="middle" fill="#111" stroke="#111" stroke-width="0.18">80</text>
<text x="550.20" y="147.50" font-size="9.4" text-anchor="middle" fill="#111" stroke="#111" stroke-width="0.18">72</text>
<text x="591.30" y="147.50" font-size="9.4" text-anchor="middle" fill="#111" stroke="#111" stroke-width="0.18">27</text>
<text x="569.50" y="178.20" font-size="11.2" text-anchor="middle" fill="#111" stroke="#111" stroke-width="0.21">4061</text>
<rect x="32.4" y="328.3" width="270.5" height="20.1" fill="#dcd5f4"/>
<rect x="32.4" y="348.4" width="270.5" height="20.0" fill="#f2f3f2"/>
<rect x="32.4" y="368.4" width="63.0" height="182.2" fill="#f2f3f2"/>
<rect x="187.5" y="368.4" width="60.0" height="182.2" fill="#fff1cf"/>
<text x="96.00" y="341.80" font-size="12.4" stroke="#000" stroke-width="0.24">AR specific binding Motifs</text>
<text x="63.90" y="361.30" font-size="11.85" text-anchor="middle" stroke="#000" stroke-width="0.23">TF Class</text>
<text x="171.50" y="361.30" font-size="11.85" text-anchor="middle" stroke="#000" stroke-width="0.23">TF</text>
<text x="275.20" y="361.30" font-size="11.85" text-anchor="middle" stroke="#000" stroke-width="0.23">P-value</text>
<text x="63.90" y="403.20" font-size="12.0" text-anchor="middle" stroke="#000" stroke-width="0.23">Forkhead</text>
<text x="63.90" y="457.30" font-size="12.0" text-anchor="middle" stroke="#000" stroke-width="0.23">Nuclear</text>
<text x="63.90" y="471.80" font-size="12.0" text-anchor="middle" stroke="#000" stroke-width="0.23">receptor</text>
<text x="63.90" y="524.40" font-size="12.0" text-anchor="middle" stroke="#000" stroke-width="0.23">Zinc finger</text>
<text x="217.50" y="381.82" font-size="11.8" text-anchor="middle" stroke="#000" stroke-width="0.23">FOXA1</text>
<text x="275.20" y="381.82" font-size="11.6" text-anchor="middle" fill="#6e6e6e" stroke="#6e6e6e" stroke-width="0.22">1e-174</text>
<text x="217.50" y="402.07" font-size="11.8" text-anchor="middle" stroke="#000" stroke-width="0.23">FOXM1</text>
<text x="275.20" y="402.07" font-size="11.6" text-anchor="middle" fill="#6e6e6e" stroke="#6e6e6e" stroke-width="0.22">1e-169</text>
<text x="217.50" y="422.32" font-size="11.8" text-anchor="middle" stroke="#000" stroke-width="0.23">FOXA3</text>
<text x="275.20" y="422.32" font-size="11.6" text-anchor="middle" fill="#6e6e6e" stroke="#6e6e6e" stroke-width="0.22">1e-157</text>
<text x="217.50" y="442.57" font-size="11.8" text-anchor="middle" stroke="#000" stroke-width="0.23">GRE</text>
<text x="275.20" y="442.57" font-size="11.6" text-anchor="middle" fill="#6e6e6e" stroke="#6e6e6e" stroke-width="0.22">1e-151</text>
<text x="217.50" y="462.82" font-size="11.8" text-anchor="middle" stroke="#000" stroke-width="0.23">ARE</text>
<text x="275.20" y="462.82" font-size="11.6" text-anchor="middle" fill="#6e6e6e" stroke="#6e6e6e" stroke-width="0.22">1e-143</text>
<text x="217.50" y="483.07" font-size="11.8" text-anchor="middle" stroke="#000" stroke-width="0.23">PGR</text>
<text x="275.20" y="483.07" font-size="11.6" text-anchor="middle" fill="#6e6e6e" stroke="#6e6e6e" stroke-width="0.22">1e-119</text>
<text x="217.50" y="503.32" font-size="11.8" text-anchor="middle" stroke="#000" stroke-width="0.23">WT1</text>
<text x="275.20" y="503.32" font-size="11.6" text-anchor="middle" fill="#6e6e6e" stroke="#6e6e6e" stroke-width="0.22">1e-55</text>
<text x="217.50" y="523.57" font-size="11.8" text-anchor="middle" stroke="#000" stroke-width="0.23">EGR1</text>
<text x="275.20" y="523.57" font-size="11.6" text-anchor="middle" fill="#6e6e6e" stroke="#6e6e6e" stroke-width="0.22">1e-29</text>
<text x="217.50" y="543.82" font-size="11.8" text-anchor="middle" stroke="#000" stroke-width="0.23">GATA2</text>
<text x="275.20" y="543.82" font-size="11.6" text-anchor="middle" fill="#6e6e6e" stroke="#6e6e6e" stroke-width="0.22">1e-24</text>
<g font-weight="bold" font-size="100">
<text transform="matrix(0.130 0 0 0.118 95.72 378.01)" fill="#1ea51e">A</text>
<text transform="matrix(0.148 0 0 0.108 95.89 385.45)" fill="#d8201f">T</text>
<text transform="matrix(0.134 0 0 0.010 95.50 386.11)" fill="#2233c4">C</text>
<text transform="matrix(0.129 0 0 0.010 95.52 386.79)" fill="#f5a30f">G</text>
<text transform="matrix(0.130 0 0 0.157 104.76 380.72)" fill="#1ea51e">A</text>
<text transform="matrix(0.129 0 0 0.048 104.56 384.05)" fill="#f5a30f">G</text>
<text transform="matrix(0.134 0 0 0.024 104.54 385.76)" fill="#2233c4">C</text>
<text transform="matrix(0.148 0 0 0.015 104.93 386.80)" fill="#d8201f">T</text>
<text transform="matrix(0.130 0 0 0.130 113.80 378.86)" fill="#1ea51e">A</text>
<text transform="matrix(0.148 0 0 0.086 113.97 384.77)" fill="#d8201f">T</text>
<text transform="matrix(0.129 0 0 0.014 113.60 385.77)" fill="#f5a30f">G</text>
<text transform="matrix(0.134 0 0 0.014 113.58 386.79)" fill="#2233c4">C</text>
<text transform="matrix(0.129 0 0 0.205 122.64 384.23)" fill="#f5a30f">G</text>
<text transform="matrix(0.130 0 0 0.025 122.84 386.12)" fill="#1ea51e">A</text>
<text transform="matrix(0.134 0 0 0.010 122.62 386.79)" fill="#2233c4">C</text>
<text transform="matrix(0.148 0 0 0.201 132.05 383.76)" fill="#d8201f">T</text>
<text transform="matrix(0.134 0 0 0.029 131.66 385.76)" fill="#2233c4">C</text>
<text transform="matrix(0.130 0 0 0.015 131.88 386.80)" fill="#1ea51e">A</text>
<text transform="matrix(0.130 0 0 0.221 140.92 385.11)" fill="#1ea51e">A</text>
<text transform="matrix(0.134 0 0 0.014 140.70 386.11)" fill="#2233c4">C</text>
<text transform="matrix(0.129 0 0 0.010 140.72 386.79)" fill="#f5a30f">G</text>
<text transform="matrix(0.130 0 0 0.226 149.96 385.45)" fill="#1ea51e">A</text>
<text transform="matrix(0.134 0 0 0.012 149.74 386.28)" fill="#2233c4">C</text>
<text transform="matrix(0.129 0 0 0.007 149.76 386.79)" fill="#f5a30f">G</text>
<text transform="matrix(0.130 0 0 0.231 159.00 385.79)" fill="#1ea51e">A</text>
<text transform="matrix(0.134 0 0 0.007 158.78 386.29)" fill="#2233c4">C</text>
<text transform="matrix(0.148 0 0 0.007 159.17 386.80)" fill="#d8201f">T</text>
<text transform="matrix(0.134 0 0 0.172 167.82 381.90)" fill="#2233c4">C</text>
<text transform="matrix(0.148 0 0 0.054 168.21 385.79)" fill="#d8201f">T</text>
<text transform="matrix(0.130 0 0 0.015 168.04 386.80)" fill="#1ea51e">A</text>
<text transform="matrix(0.130 0 0 0.233 177.08 385.95)" fill="#1ea51e">A</text>
<text transform="matrix(0.134 0 0 0.007 176.86 386.45)" fill="#2233c4">C</text>
<text transform="matrix(0.129 0 0 0.005 176.88 386.80)" fill="#f5a30f">G</text>
<rect x="95.9" y="387.0" width="91.1" height="0.7" fill="#d0d0d0"/>
<text transform="matrix(0.148 0 0 0.233 95.89 406.20)" fill="#d8201f">T</text>
<text transform="matrix(0.130 0 0 0.007 95.72 406.71)" fill="#1ea51e">A</text>
<text transform="matrix(0.134 0 0 0.005 95.50 407.05)" fill="#2233c4">C</text>
<text transform="matrix(0.129 0 0 0.119 104.56 398.48)" fill="#f5a30f">G</text>
<text transform="matrix(0.130 0 0 0.111 104.76 406.20)" fill="#1ea51e">A</text>
<text transform="matrix(0.134 0 0 0.012 104.54 407.04)" fill="#2233c4">C</text>
<text transform="matrix(0.148 0 0 0.233 113.97 406.20)" fill="#d8201f">T</text>
<text transform="matrix(0.134 0 0 0.007 113.58 406.70)" fill="#2233c4">C</text>
<text transform="matrix(0.129 0 0 0.005 113.60 407.05)" fill="#f5a30f">G</text>
<text transform="matrix(0.148 0 0 0.233 123.01 406.20)" fill="#d8201f">T</text>
<text transform="matrix(0.134 0 0 0.007 122.62 406.70)" fill="#2233c4">C</text>
<text transform="matrix(0.129 0 0 0.005 122.64 407.05)" fill="#f5a30f">G</text>
<text transform="matrix(0.148 0 0 0.201 132.05 404.01)" fill="#d8201f">T</text>
<text transform="matrix(0.129 0 0 0.029 131.68 406.01)" fill="#f5a30f">G</text>
<text transform="matrix(0.130 0 0 0.015 131.88 407.05)" fill="#1ea51e">A</text>
<text transform="matrix(0.130 0 0 0.135 140.92 399.44)" fill="#1ea51e">A</text>
<text transform="matrix(0.129 0 0 0.091 140.72 405.78)" fill="#f5a30f">G</text>
<text transform="matrix(0.134 0 0 0.017 140.70 407.03)" fill="#2233c4">C</text>
<text transform="matrix(0.134 0 0 0.186 149.74 403.15)" fill="#2233c4">C</text>
<text transform="matrix(0.148 0 0 0.039 150.13 406.04)" fill="#d8201f">T</text>
<text transform="matrix(0.129 0 0 0.014 149.76 407.04)" fill="#f5a30f">G</text>
<text transform="matrix(0.148 0 0 0.123 159.17 398.60)" fill="#d8201f">T</text>
<text transform="matrix(0.134 0 0 0.076 158.78 403.93)" fill="#2233c4">C</text>
<text transform="matrix(0.130 0 0 0.034 159.00 406.37)" fill="#1ea51e">A</text>
<text transform="matrix(0.129 0 0 0.010 158.80 407.04)" fill="#f5a30f">G</text>
<text transform="matrix(0.148 0 0 0.128 168.21 398.94)" fill="#d8201f">T</text>
<text transform="matrix(0.134 0 0 0.081 167.82 404.60)" fill="#2233c4">C</text>
<text transform="matrix(0.129 0 0 0.024 167.84 406.35)" fill="#f5a30f">G</text>
<text transform="matrix(0.130 0 0 0.010 168.04 407.05)" fill="#1ea51e">A</text>
<text transform="matrix(0.130 0 0 0.123 177.08 398.60)" fill="#1ea51e">A</text>
<text transform="matrix(0.148 0 0 0.103 177.25 405.70)" fill="#d8201f">T</text>
<text transform="matrix(0.134 0 0 0.019 176.86 407.03)" fill="#2233c4">C</text>
<rect x="95.9" y="407.2" width="91.1" height="0.7" fill="#d0d0d0"/>
<text transform="matrix(0.088 0 0 0.084 95.69 416.23)" fill="#2233c4">C</text>
<text transform="matrix(0.097 0 0 0.054 95.94 420.03)" fill="#d8201f">T</text>
<text transform="matrix(0.085 0 0 0.060 95.70 424.20)" fill="#f5a30f">G</text>
<text transform="matrix(0.085 0 0 0.044 95.84 427.30)" fill="#1ea51e">A</text>
<text transform="matrix(0.088 0 0 0.091 101.72 416.73)" fill="#2233c4">C</text>
<text transform="matrix(0.085 0 0 0.053 101.73 420.49)" fill="#f5a30f">G</text>
<text transform="matrix(0.085 0 0 0.061 101.86 424.77)" fill="#1ea51e">A</text>
<text transform="matrix(0.097 0 0 0.037 101.97 427.30)" fill="#d8201f">T</text>
<text transform="matrix(0.097 0 0 0.086 108.00 416.31)" fill="#d8201f">T</text>
<text transform="matrix(0.088 0 0 0.064 107.74 420.81)" fill="#2233c4">C</text>
<text transform="matrix(0.085 0 0 0.061 107.89 425.10)" fill="#1ea51e">A</text>
<text transform="matrix(0.085 0 0 0.031 107.76 427.27)" fill="#f5a30f">G</text>
<text transform="matrix(0.097 0 0 0.236 114.02 426.62)" fill="#d8201f">T</text>
<text transform="matrix(0.085 0 0 0.010 113.78 427.29)" fill="#f5a30f">G</text>
<text transform="matrix(0.085 0 0 0.155 119.81 421.23)" fill="#f5a30f">G</text>
<text transform="matrix(0.085 0 0 0.081 119.94 426.96)" fill="#1ea51e">A</text>
<text transform="matrix(0.097 0 0 0.005 120.05 427.30)" fill="#d8201f">T</text>
<text transform="matrix(0.097 0 0 0.236 126.08 426.62)" fill="#d8201f">T</text>
<text transform="matrix(0.088 0 0 0.010 125.82 427.29)" fill="#2233c4">C</text>
<text transform="matrix(0.097 0 0 0.236 132.10 426.62)" fill="#d8201f">T</text>
<text transform="matrix(0.088 0 0 0.010 131.85 427.29)" fill="#2233c4">C</text>
<text transform="matrix(0.097 0 0 0.192 138.13 423.58)" fill="#d8201f">T</text>
<text transform="matrix(0.085 0 0 0.048 137.89 426.91)" fill="#f5a30f">G</text>
<text transform="matrix(0.085 0 0 0.005 138.02 427.30)" fill="#1ea51e">A</text>
<text transform="matrix(0.085 0 0 0.233 144.05 426.45)" fill="#1ea51e">A</text>
<text transform="matrix(0.088 0 0 0.012 143.90 427.29)" fill="#2233c4">C</text>
<text transform="matrix(0.088 0 0 0.215 149.93 425.40)" fill="#2233c4">C</text>
<text transform="matrix(0.097 0 0 0.015 150.18 426.62)" fill="#d8201f">T</text>
<text transform="matrix(0.085 0 0 0.010 149.94 427.29)" fill="#f5a30f">G</text>
<text transform="matrix(0.085 0 0 0.111 156.10 418.00)" fill="#1ea51e">A</text>
<text transform="matrix(0.097 0 0 0.093 156.21 424.43)" fill="#d8201f">T</text>
<text transform="matrix(0.088 0 0 0.033 155.96 426.76)" fill="#2233c4">C</text>
<text transform="matrix(0.085 0 0 0.007 155.97 427.29)" fill="#f5a30f">G</text>
<text transform="matrix(0.097 0 0 0.103 162.24 417.50)" fill="#d8201f">T</text>
<text transform="matrix(0.088 0 0 0.105 161.98 424.83)" fill="#2233c4">C</text>
<text transform="matrix(0.085 0 0 0.025 162.13 426.62)" fill="#1ea51e">A</text>
<text transform="matrix(0.085 0 0 0.010 162.00 427.29)" fill="#f5a30f">G</text>
<text transform="matrix(0.085 0 0 0.128 168.16 419.19)" fill="#1ea51e">A</text>
<text transform="matrix(0.097 0 0 0.093 168.26 425.61)" fill="#d8201f">T</text>
<text transform="matrix(0.088 0 0 0.014 168.01 426.61)" fill="#2233c4">C</text>
<text transform="matrix(0.085 0 0 0.010 168.02 427.29)" fill="#f5a30f">G</text>
<text transform="matrix(0.085 0 0 0.107 174.05 417.90)" fill="#f5a30f">G</text>
<text transform="matrix(0.085 0 0 0.074 174.18 423.07)" fill="#1ea51e">A</text>
<text transform="matrix(0.097 0 0 0.025 174.29 424.76)" fill="#d8201f">T</text>
<text transform="matrix(0.088 0 0 0.036 174.04 427.26)" fill="#2233c4">C</text>
<text transform="matrix(0.085 0 0 0.072 180.08 415.40)" fill="#f5a30f">G</text>
<text transform="matrix(0.097 0 0 0.074 180.32 420.54)" fill="#d8201f">T</text>
<text transform="matrix(0.088 0 0 0.060 180.06 424.71)" fill="#2233c4">C</text>
<text transform="matrix(0.085 0 0 0.037 180.21 427.30)" fill="#1ea51e">A</text>
<rect x="95.9" y="427.5" width="91.1" height="0.7" fill="#d0d0d0"/>
<text transform="matrix(0.088 0 0 0.072 95.69 435.65)" fill="#2233c4">C</text>
<text transform="matrix(0.085 0 0 0.049 95.84 439.10)" fill="#1ea51e">A</text>
<text transform="matrix(0.085 0 0 0.084 95.70 444.93)" fill="#f5a30f">G</text>
<text transform="matrix(0.097 0 0 0.037 95.94 447.55)" fill="#d8201f">T</text>
<text transform="matrix(0.085 0 0 0.111 101.86 438.25)" fill="#1ea51e">A</text>
<text transform="matrix(0.085 0 0 0.107 101.73 445.75)" fill="#f5a30f">G</text>
<text transform="matrix(0.097 0 0 0.025 101.97 447.55)" fill="#d8201f">T</text>
<text transform="matrix(0.085 0 0 0.215 107.76 445.65)" fill="#f5a30f">G</text>
<text transform="matrix(0.085 0 0 0.025 107.89 447.55)" fill="#1ea51e">A</text>
<text transform="matrix(0.085 0 0 0.111 113.92 438.25)" fill="#1ea51e">A</text>
<text transform="matrix(0.085 0 0 0.072 113.78 443.25)" fill="#f5a30f">G</text>
<text transform="matrix(0.097 0 0 0.037 114.02 445.86)" fill="#d8201f">T</text>
<text transform="matrix(0.088 0 0 0.024 113.77 447.53)" fill="#2233c4">C</text>
<text transform="matrix(0.085 0 0 0.233 119.94 446.70)" fill="#1ea51e">A</text>
<text transform="matrix(0.088 0 0 0.012 119.80 447.54)" fill="#2233c4">C</text>
<text transform="matrix(0.088 0 0 0.227 125.82 446.48)" fill="#2233c4">C</text>
<text transform="matrix(0.085 0 0 0.012 125.97 447.55)" fill="#1ea51e">A</text>
<text transform="matrix(0.085 0 0 0.221 132.00 445.86)" fill="#1ea51e">A</text>
<text transform="matrix(0.085 0 0 0.024 131.86 447.53)" fill="#f5a30f">G</text>
<text transform="matrix(0.097 0 0 0.086 138.13 436.56)" fill="#d8201f">T</text>
<text transform="matrix(0.085 0 0 0.060 137.89 440.73)" fill="#f5a30f">G</text>
<text transform="matrix(0.088 0 0 0.060 137.88 444.96)" fill="#2233c4">C</text>
<text transform="matrix(0.085 0 0 0.037 138.02 447.55)" fill="#1ea51e">A</text>
<text transform="matrix(0.097 0 0 0.074 144.16 435.72)" fill="#d8201f">T</text>
<text transform="matrix(0.085 0 0 0.074 144.05 440.79)" fill="#1ea51e">A</text>
<text transform="matrix(0.088 0 0 0.060 143.90 444.96)" fill="#2233c4">C</text>
<text transform="matrix(0.085 0 0 0.036 143.92 447.51)" fill="#f5a30f">G</text>
<text transform="matrix(0.088 0 0 0.095 149.93 437.31)" fill="#2233c4">C</text>
<text transform="matrix(0.085 0 0 0.072 149.94 442.41)" fill="#f5a30f">G</text>
<text transform="matrix(0.085 0 0 0.049 150.08 445.86)" fill="#1ea51e">A</text>
<text transform="matrix(0.097 0 0 0.025 150.18 447.55)" fill="#d8201f">T</text>
<text transform="matrix(0.097 0 0 0.236 156.21 446.87)" fill="#d8201f">T</text>
<text transform="matrix(0.088 0 0 0.010 155.96 447.54)" fill="#2233c4">C</text>
<text transform="matrix(0.085 0 0 0.229 162.00 446.64)" fill="#f5a30f">G</text>
<text transform="matrix(0.085 0 0 0.010 162.13 447.55)" fill="#1ea51e">A</text>
<text transform="matrix(0.097 0 0 0.236 168.26 446.87)" fill="#d8201f">T</text>
<text transform="matrix(0.088 0 0 0.010 168.01 447.54)" fill="#2233c4">C</text>
<text transform="matrix(0.097 0 0 0.098 174.29 437.41)" fill="#d8201f">T</text>
<text transform="matrix(0.088 0 0 0.084 174.04 443.24)" fill="#2233c4">C</text>
<text transform="matrix(0.085 0 0 0.049 174.18 446.70)" fill="#1ea51e">A</text>
<text transform="matrix(0.085 0 0 0.012 174.05 447.54)" fill="#f5a30f">G</text>
<text transform="matrix(0.088 0 0 0.229 180.06 446.64)" fill="#2233c4">C</text>
<text transform="matrix(0.085 0 0 0.010 180.21 447.55)" fill="#1ea51e">A</text>
<rect x="95.9" y="447.8" width="91.1" height="0.7" fill="#d0d0d0"/>
<text transform="matrix(0.080 0 0 0.111 95.85 458.50)" fill="#1ea51e">A</text>
<text transform="matrix(0.079 0 0 0.107 95.73 466.00)" fill="#f5a30f">G</text>
<text transform="matrix(0.091 0 0 0.025 95.95 467.80)" fill="#d8201f">T</text>
<text transform="matrix(0.079 0 0 0.215 101.38 465.90)" fill="#f5a30f">G</text>
<text transform="matrix(0.080 0 0 0.025 101.50 467.80)" fill="#1ea51e">A</text>
<text transform="matrix(0.080 0 0 0.074 107.15 455.97)" fill="#1ea51e">A</text>
<text transform="matrix(0.079 0 0 0.072 107.03 460.97)" fill="#f5a30f">G</text>
<text transform="matrix(0.082 0 0 0.060 107.01 465.21)" fill="#2233c4">C</text>
<text transform="matrix(0.091 0 0 0.037 107.25 467.80)" fill="#d8201f">T</text>
<text transform="matrix(0.080 0 0 0.233 112.80 466.95)" fill="#1ea51e">A</text>
<text transform="matrix(0.079 0 0 0.012 112.68 467.79)" fill="#f5a30f">G</text>
<text transform="matrix(0.082 0 0 0.227 118.31 466.73)" fill="#2233c4">C</text>
<text transform="matrix(0.091 0 0 0.012 118.55 467.80)" fill="#d8201f">T</text>
<text transform="matrix(0.080 0 0 0.221 124.10 466.11)" fill="#1ea51e">A</text>
<text transform="matrix(0.079 0 0 0.024 123.98 467.78)" fill="#f5a30f">G</text>
<text transform="matrix(0.079 0 0 0.084 129.63 456.73)" fill="#f5a30f">G</text>
<text transform="matrix(0.082 0 0 0.084 129.61 462.65)" fill="#2233c4">C</text>
<text transform="matrix(0.091 0 0 0.037 129.85 465.27)" fill="#d8201f">T</text>
<text transform="matrix(0.080 0 0 0.037 129.75 467.80)" fill="#1ea51e">A</text>
<text transform="matrix(0.091 0 0 0.049 135.50 454.28)" fill="#d8201f">T</text>
<text transform="matrix(0.080 0 0 0.049 135.40 457.66)" fill="#1ea51e">A</text>
<text transform="matrix(0.082 0 0 0.084 135.26 463.49)" fill="#2233c4">C</text>
<text transform="matrix(0.079 0 0 0.060 135.28 467.74)" fill="#f5a30f">G</text>
<text transform="matrix(0.082 0 0 0.095 140.91 457.56)" fill="#2233c4">C</text>
<text transform="matrix(0.079 0 0 0.084 140.93 463.49)" fill="#f5a30f">G</text>
<text transform="matrix(0.080 0 0 0.049 141.05 466.95)" fill="#1ea51e">A</text>
<text transform="matrix(0.091 0 0 0.012 141.15 467.80)" fill="#d8201f">T</text>
<text transform="matrix(0.091 0 0 0.236 146.80 467.12)" fill="#d8201f">T</text>
<text transform="matrix(0.082 0 0 0.010 146.56 467.79)" fill="#2233c4">C</text>
<text transform="matrix(0.079 0 0 0.229 152.23 466.89)" fill="#f5a30f">G</text>
<text transform="matrix(0.080 0 0 0.010 152.35 467.80)" fill="#1ea51e">A</text>
<text transform="matrix(0.091 0 0 0.236 158.10 467.12)" fill="#d8201f">T</text>
<text transform="matrix(0.082 0 0 0.010 157.86 467.79)" fill="#2233c4">C</text>
<text transform="matrix(0.091 0 0 0.086 163.75 456.81)" fill="#d8201f">T</text>
<text transform="matrix(0.082 0 0 0.084 163.51 462.65)" fill="#2233c4">C</text>
<text transform="matrix(0.079 0 0 0.048 163.53 466.06)" fill="#f5a30f">G</text>
<text transform="matrix(0.080 0 0 0.025 163.65 467.80)" fill="#1ea51e">A</text>
<text transform="matrix(0.082 0 0 0.227 169.16 466.73)" fill="#2233c4">C</text>
<text transform="matrix(0.091 0 0 0.012 169.40 467.80)" fill="#d8201f">T</text>
<text transform="matrix(0.091 0 0 0.111 175.05 458.50)" fill="#d8201f">T</text>
<text transform="matrix(0.082 0 0 0.084 174.81 464.34)" fill="#2233c4">C</text>
<text transform="matrix(0.079 0 0 0.024 174.83 466.09)" fill="#f5a30f">G</text>
<text transform="matrix(0.080 0 0 0.025 174.95 467.80)" fill="#1ea51e">A</text>
<text transform="matrix(0.091 0 0 0.074 180.70 455.97)" fill="#d8201f">T</text>
<text transform="matrix(0.082 0 0 0.072 180.46 460.97)" fill="#2233c4">C</text>
<text transform="matrix(0.079 0 0 0.060 180.48 465.21)" fill="#f5a30f">G</text>
<text transform="matrix(0.080 0 0 0.037 180.60 467.80)" fill="#1ea51e">A</text>
<rect x="95.9" y="468.0" width="91.1" height="0.7" fill="#d0d0d0"/>
<text transform="matrix(0.085 0 0 0.074 95.84 476.22)" fill="#1ea51e">A</text>
<text transform="matrix(0.097 0 0 0.061 95.94 480.44)" fill="#d8201f">T</text>
<text transform="matrix(0.085 0 0 0.060 95.70 484.61)" fill="#f5a30f">G</text>
<text transform="matrix(0.088 0 0 0.048 95.69 488.00)" fill="#2233c4">C</text>
<text transform="matrix(0.085 0 0 0.135 101.86 480.44)" fill="#1ea51e">A</text>
<text transform="matrix(0.085 0 0 0.107 101.73 487.94)" fill="#f5a30f">G</text>
<text transform="matrix(0.085 0 0 0.227 107.76 486.98)" fill="#f5a30f">G</text>
<text transform="matrix(0.085 0 0 0.012 107.89 488.05)" fill="#1ea51e">A</text>
<text transform="matrix(0.085 0 0 0.147 113.92 481.29)" fill="#1ea51e">A</text>
<text transform="matrix(0.085 0 0 0.072 113.78 486.29)" fill="#f5a30f">G</text>
<text transform="matrix(0.088 0 0 0.024 113.77 488.03)" fill="#2233c4">C</text>
<text transform="matrix(0.085 0 0 0.233 119.94 487.20)" fill="#1ea51e">A</text>
<text transform="matrix(0.085 0 0 0.012 119.81 488.04)" fill="#f5a30f">G</text>
<text transform="matrix(0.088 0 0 0.227 125.82 486.98)" fill="#2233c4">C</text>
<text transform="matrix(0.085 0 0 0.012 125.97 488.05)" fill="#1ea51e">A</text>
<text transform="matrix(0.085 0 0 0.221 132.00 486.36)" fill="#1ea51e">A</text>
<text transform="matrix(0.085 0 0 0.024 131.86 488.03)" fill="#f5a30f">G</text>
<text transform="matrix(0.097 0 0 0.086 138.13 477.06)" fill="#d8201f">T</text>
<text transform="matrix(0.085 0 0 0.060 137.89 481.23)" fill="#f5a30f">G</text>
<text transform="matrix(0.085 0 0 0.061 138.02 485.52)" fill="#1ea51e">A</text>
<text transform="matrix(0.088 0 0 0.036 137.88 488.01)" fill="#2233c4">C</text>
<text transform="matrix(0.097 0 0 0.074 144.16 476.22)" fill="#d8201f">T</text>
<text transform="matrix(0.085 0 0 0.074 144.05 481.29)" fill="#1ea51e">A</text>
<text transform="matrix(0.088 0 0 0.060 143.90 485.46)" fill="#2233c4">C</text>
<text transform="matrix(0.085 0 0 0.036 143.92 488.01)" fill="#f5a30f">G</text>
<text transform="matrix(0.085 0 0 0.086 150.08 477.06)" fill="#1ea51e">A</text>
<text transform="matrix(0.088 0 0 0.084 149.93 482.90)" fill="#2233c4">C</text>
<text transform="matrix(0.097 0 0 0.049 150.18 486.36)" fill="#d8201f">T</text>
<text transform="matrix(0.085 0 0 0.024 149.94 488.03)" fill="#f5a30f">G</text>
<text transform="matrix(0.097 0 0 0.236 156.21 487.37)" fill="#d8201f">T</text>
<text transform="matrix(0.088 0 0 0.010 155.96 488.04)" fill="#2233c4">C</text>
<text transform="matrix(0.085 0 0 0.229 162.00 487.14)" fill="#f5a30f">G</text>
<text transform="matrix(0.085 0 0 0.010 162.13 488.05)" fill="#1ea51e">A</text>
<text transform="matrix(0.097 0 0 0.236 168.26 487.37)" fill="#d8201f">T</text>
<text transform="matrix(0.088 0 0 0.010 168.01 488.04)" fill="#2233c4">C</text>
<text transform="matrix(0.097 0 0 0.147 174.29 481.29)" fill="#d8201f">T</text>
<text transform="matrix(0.085 0 0 0.049 174.18 484.67)" fill="#1ea51e">A</text>
<text transform="matrix(0.088 0 0 0.048 174.04 488.00)" fill="#2233c4">C</text>
<text transform="matrix(0.088 0 0 0.229 180.06 487.14)" fill="#2233c4">C</text>
<text transform="matrix(0.097 0 0 0.010 180.32 488.05)" fill="#d8201f">T</text>
<rect x="95.9" y="488.2" width="91.1" height="0.7" fill="#d0d0d0"/>
<text transform="matrix(0.111 0 0 0.095 95.60 498.06)" fill="#2233c4">C</text>
<text transform="matrix(0.108 0 0 0.123 95.78 506.61)" fill="#1ea51e">A</text>
<text transform="matrix(0.123 0 0 0.025 95.91 508.30)" fill="#d8201f">T</text>
<text transform="matrix(0.111 0 0 0.229 103.13 507.39)" fill="#2233c4">C</text>
<text transform="matrix(0.123 0 0 0.010 103.45 508.30)" fill="#d8201f">T</text>
<text transform="matrix(0.123 0 0 0.236 110.98 507.62)" fill="#d8201f">T</text>
<text transform="matrix(0.111 0 0 0.010 110.66 508.29)" fill="#2233c4">C</text>
<text transform="matrix(0.111 0 0 0.229 118.20 507.39)" fill="#2233c4">C</text>
<text transform="matrix(0.123 0 0 0.010 118.51 508.30)" fill="#d8201f">T</text>
<text transform="matrix(0.111 0 0 0.229 125.73 507.39)" fill="#2233c4">C</text>
<text transform="matrix(0.108 0 0 0.010 125.91 508.30)" fill="#1ea51e">A</text>
<text transform="matrix(0.111 0 0 0.229 133.26 507.39)" fill="#2233c4">C</text>
<text transform="matrix(0.123 0 0 0.010 133.58 508.30)" fill="#d8201f">T</text>
<text transform="matrix(0.108 0 0 0.135 140.98 500.69)" fill="#1ea51e">A</text>
<text transform="matrix(0.111 0 0 0.107 140.80 508.19)" fill="#2233c4">C</text>
<text transform="matrix(0.111 0 0 0.229 148.33 507.39)" fill="#2233c4">C</text>
<text transform="matrix(0.108 0 0 0.010 148.51 508.30)" fill="#1ea51e">A</text>
<text transform="matrix(0.108 0 0 0.123 156.05 499.85)" fill="#1ea51e">A</text>
<text transform="matrix(0.107 0 0 0.095 155.88 506.51)" fill="#f5a30f">G</text>
<text transform="matrix(0.123 0 0 0.025 156.18 508.30)" fill="#d8201f">T</text>
<text transform="matrix(0.111 0 0 0.229 163.40 507.39)" fill="#2233c4">C</text>
<text transform="matrix(0.108 0 0 0.010 163.58 508.30)" fill="#1ea51e">A</text>
<text transform="matrix(0.108 0 0 0.123 171.11 499.85)" fill="#1ea51e">A</text>
<text transform="matrix(0.111 0 0 0.072 170.93 504.85)" fill="#2233c4">C</text>
<text transform="matrix(0.123 0 0 0.049 171.25 508.30)" fill="#d8201f">T</text>
<text transform="matrix(0.123 0 0 0.074 178.78 496.47)" fill="#d8201f">T</text>
<text transform="matrix(0.107 0 0 0.084 178.48 502.30)" fill="#f5a30f">G</text>
<text transform="matrix(0.111 0 0 0.060 178.46 506.55)" fill="#2233c4">C</text>
<text transform="matrix(0.108 0 0 0.025 178.65 508.30)" fill="#1ea51e">A</text>
<rect x="95.9" y="508.5" width="91.1" height="0.7" fill="#d0d0d0"/>
<text transform="matrix(0.148 0 0 0.160 95.89 522.63)" fill="#d8201f">T</text>
<text transform="matrix(0.130 0 0 0.049 95.72 526.01)" fill="#1ea51e">A</text>
<text transform="matrix(0.129 0 0 0.024 95.52 527.68)" fill="#f5a30f">G</text>
<text transform="matrix(0.134 0 0 0.012 95.50 528.54)" fill="#2233c4">C</text>
<text transform="matrix(0.129 0 0 0.191 104.56 524.98)" fill="#f5a30f">G</text>
<text transform="matrix(0.130 0 0 0.049 104.76 528.55)" fill="#1ea51e">A</text>
<text transform="matrix(0.134 0 0 0.095 113.58 518.31)" fill="#2233c4">C</text>
<text transform="matrix(0.148 0 0 0.086 113.97 524.32)" fill="#d8201f">T</text>
<text transform="matrix(0.130 0 0 0.061 113.80 528.55)" fill="#1ea51e">A</text>
<text transform="matrix(0.129 0 0 0.229 122.64 527.64)" fill="#f5a30f">G</text>
<text transform="matrix(0.130 0 0 0.010 122.84 528.55)" fill="#1ea51e">A</text>
<text transform="matrix(0.148 0 0 0.147 132.05 521.79)" fill="#d8201f">T</text>
<text transform="matrix(0.129 0 0 0.095 131.68 528.45)" fill="#f5a30f">G</text>
<text transform="matrix(0.129 0 0 0.229 140.72 527.64)" fill="#f5a30f">G</text>
<text transform="matrix(0.130 0 0 0.010 140.92 528.55)" fill="#1ea51e">A</text>
<text transform="matrix(0.129 0 0 0.229 149.76 527.64)" fill="#f5a30f">G</text>
<text transform="matrix(0.130 0 0 0.010 149.96 528.55)" fill="#1ea51e">A</text>
<text transform="matrix(0.129 0 0 0.229 158.80 527.64)" fill="#f5a30f">G</text>
<text transform="matrix(0.130 0 0 0.010 159.00 528.55)" fill="#1ea51e">A</text>
<text transform="matrix(0.148 0 0 0.098 168.21 518.41)" fill="#d8201f">T</text>
<text transform="matrix(0.134 0 0 0.107 167.82 525.91)" fill="#2233c4">C</text>
<text transform="matrix(0.130 0 0 0.037 168.04 528.55)" fill="#1ea51e">A</text>
<text transform="matrix(0.129 0 0 0.229 176.88 527.64)" fill="#f5a30f">G</text>
<text transform="matrix(0.130 0 0 0.010 177.08 528.55)" fill="#1ea51e">A</text>
<rect x="95.9" y="528.8" width="91.1" height="0.7" fill="#d0d0d0"/>
<text transform="matrix(0.148 0 0 0.074 95.89 536.97)" fill="#d8201f">T</text>
<text transform="matrix(0.134 0 0 0.072 95.50 541.97)" fill="#2233c4">C</text>
<text transform="matrix(0.129 0 0 0.060 95.52 546.21)" fill="#f5a30f">G</text>
<text transform="matrix(0.130 0 0 0.037 95.72 548.80)" fill="#1ea51e">A</text>
<text transform="matrix(0.134 0 0 0.072 104.54 536.90)" fill="#2233c4">C</text>
<text transform="matrix(0.148 0 0 0.074 104.93 542.04)" fill="#d8201f">T</text>
<text transform="matrix(0.129 0 0 0.060 104.56 546.21)" fill="#f5a30f">G</text>
<text transform="matrix(0.130 0 0 0.037 104.76 548.80)" fill="#1ea51e">A</text>
<text transform="matrix(0.134 0 0 0.179 113.58 544.40)" fill="#2233c4">C</text>
<text transform="matrix(0.129 0 0 0.060 113.60 548.74)" fill="#f5a30f">G</text>
<text transform="matrix(0.148 0 0 0.236 123.01 548.12)" fill="#d8201f">T</text>
<text transform="matrix(0.130 0 0 0.010 122.84 548.80)" fill="#1ea51e">A</text>
<text transform="matrix(0.148 0 0 0.236 132.05 548.12)" fill="#d8201f">T</text>
<text transform="matrix(0.134 0 0 0.010 131.66 548.79)" fill="#2233c4">C</text>
<text transform="matrix(0.130 0 0 0.236 140.92 548.12)" fill="#1ea51e">A</text>
<text transform="matrix(0.129 0 0 0.010 140.72 548.79)" fill="#f5a30f">G</text>
<text transform="matrix(0.148 0 0 0.236 150.13 548.12)" fill="#d8201f">T</text>
<text transform="matrix(0.134 0 0 0.010 149.74 548.79)" fill="#2233c4">C</text>
<text transform="matrix(0.134 0 0 0.229 158.78 547.89)" fill="#2233c4">C</text>
<text transform="matrix(0.148 0 0 0.010 159.17 548.80)" fill="#d8201f">T</text>
<text transform="matrix(0.148 0 0 0.160 168.21 542.88)" fill="#d8201f">T</text>
<text transform="matrix(0.130 0 0 0.086 168.04 548.80)" fill="#1ea51e">A</text>
<text transform="matrix(0.134 0 0 0.084 176.86 537.73)" fill="#2233c4">C</text>
<text transform="matrix(0.129 0 0 0.107 176.88 545.31)" fill="#f5a30f">G</text>
<text transform="matrix(0.148 0 0 0.049 177.25 548.80)" fill="#d8201f">T</text>
<rect x="95.9" y="549.0" width="91.1" height="0.7" fill="#d0d0d0"/>
</g>
<rect x="32.4" y="328.3" width="270.5" height="222.3" fill="none" stroke="#909090" stroke-width="0.9"/>
<line x1="32.4" y1="348.4" x2="302.9" y2="348.4" stroke="#b9b4cc" stroke-width="0.8"/>
<line x1="32.4" y1="368.4" x2="302.9" y2="368.4" stroke="#909090" stroke-width="0.8"/>
<line x1="95.4" y1="348.4" x2="95.4" y2="550.65" stroke="#909090" stroke-width="0.8"/>
<line x1="247.5" y1="348.4" x2="247.5" y2="550.65" stroke="#909090" stroke-width="0.8"/>
<line x1="187.5" y1="368.4" x2="187.5" y2="550.65" stroke="#909090" stroke-width="0.8"/>
<line x1="95.4" y1="388.6" x2="302.9" y2="388.6" stroke="#909090" stroke-width="0.7"/>
<line x1="95.4" y1="408.9" x2="302.9" y2="408.9" stroke="#909090" stroke-width="0.7"/>
<line x1="32.4" y1="429.1" x2="302.9" y2="429.1" stroke="#909090" stroke-width="0.7"/>
<line x1="95.4" y1="449.4" x2="302.9" y2="449.4" stroke="#909090" stroke-width="0.7"/>
<line x1="95.4" y1="469.6" x2="302.9" y2="469.6" stroke="#909090" stroke-width="0.7"/>
<line x1="32.4" y1="489.9" x2="302.9" y2="489.9" stroke="#909090" stroke-width="0.7"/>
<line x1="95.4" y1="510.1" x2="302.9" y2="510.1" stroke="#909090" stroke-width="0.7"/>
<line x1="95.4" y1="530.4" x2="302.9" y2="530.4" stroke="#909090" stroke-width="0.7"/>
<text x="338.40" y="339.20" font-size="11.6" stroke="#000" stroke-width="0.22">AR specific</text>
<text x="338.40" y="352.60" font-size="11.6" stroke="#000" stroke-width="0.22">linked</text>
<text x="338.40" y="367.00" font-size="11.6" stroke="#000" stroke-width="0.22">genes</text>
<text x="539.70" y="340.00" font-size="11.5" text-anchor="end" stroke="#000" stroke-width="0.22">Upregulated genes</text>
<text x="539.70" y="353.60" font-size="11.5" text-anchor="end" stroke="#000" stroke-width="0.22">in DSRCT</text>
<text x="539.70" y="366.90" font-size="11.5" text-anchor="end" stroke="#000" stroke-width="0.22">FC &gt;1.5</text>
<defs><clipPath id="cA"><circle cx="409.2" cy="390.9" r="43.2"/></clipPath></defs>
<circle cx="409.2" cy="390.9" r="43.2" fill="#e9bde6"/>
<circle cx="446.4" cy="390.9" r="43.3" fill="#a093d9"/>
<g clip-path="url(#cA)"><circle cx="446.4" cy="390.9" r="43.3" fill="#9868c6"/></g>
<circle cx="409.2" cy="390.9" r="43.2" fill="none" stroke="#302040" stroke-opacity="0.18" stroke-width="0.5"/>
<circle cx="446.4" cy="390.9" r="43.3" fill="none" stroke="#302040" stroke-opacity="0.18" stroke-width="0.5"/>
<text x="383.80" y="394.20" font-size="11.3" text-anchor="middle" stroke="#000" stroke-width="0.22">2,220</text>
<text x="431.20" y="394.20" font-size="11.3" text-anchor="middle" stroke="#000" stroke-width="0.22">700</text>
<text x="470.40" y="394.20" font-size="11.3" text-anchor="middle" stroke="#000" stroke-width="0.22">4,726</text>
<text x="558.90" y="428.10" font-size="11.95" stroke="#000" stroke-width="0.23">Pathway enrichment</text>
<rect x="558.5" y="432.1" width="72.7" height="105.6" fill="#fff"/>
<line x1="564.8" y1="432.1" x2="564.8" y2="537.7" stroke="#ebebeb" stroke-width="0.5"/>
<line x1="582.5" y1="432.1" x2="582.5" y2="537.7" stroke="#ebebeb" stroke-width="0.5"/>
<line x1="600.3" y1="432.1" x2="600.3" y2="537.7" stroke="#ebebeb" stroke-width="0.5"/>
<line x1="618.0" y1="432.1" x2="618.0" y2="537.7" stroke="#ebebeb" stroke-width="0.5"/>
<line x1="573.7" y1="432.1" x2="573.7" y2="537.7" stroke="#f4f4f4" stroke-width="0.3"/>
<line x1="591.4" y1="432.1" x2="591.4" y2="537.7" stroke="#f4f4f4" stroke-width="0.3"/>
<line x1="609.2" y1="432.1" x2="609.2" y2="537.7" stroke="#f4f4f4" stroke-width="0.3"/>
<line x1="558.5" y1="441.1" x2="631.2" y2="441.1" stroke="#ebebeb" stroke-width="0.5"/>
<line x1="558.5" y1="455.9" x2="631.2" y2="455.9" stroke="#ebebeb" stroke-width="0.5"/>
<line x1="558.5" y1="470.6" x2="631.2" y2="470.6" stroke="#ebebeb" stroke-width="0.5"/>
<line x1="558.5" y1="485.3" x2="631.2" y2="485.3" stroke="#ebebeb" stroke-width="0.5"/>
<line x1="558.5" y1="500.1" x2="631.2" y2="500.1" stroke="#ebebeb" stroke-width="0.5"/>
<line x1="558.5" y1="514.8" x2="631.2" y2="514.8" stroke="#ebebeb" stroke-width="0.5"/>
<line x1="558.5" y1="529.5" x2="631.2" y2="529.5" stroke="#ebebeb" stroke-width="0.5"/>
<rect x="558.5" y="432.1" width="72.7" height="105.6" fill="none" stroke="#bdbdbd" stroke-width="0.6"/>
<text x="556.00" y="444.00" font-size="8.27" text-anchor="end" fill="#333" stroke="#333" stroke-width="0.16">HALLMARK_TNFA_SIGNALING_VIA_NFKB</text>
<line x1="556.6" y1="441.1" x2="558.5" y2="441.1" stroke="#333" stroke-width="0.5"/>
<text x="556.00" y="458.80" font-size="8.27" text-anchor="end" fill="#333" stroke="#333" stroke-width="0.16">HALLMARK_ANDROGEN_RESPONSE</text>
<line x1="556.6" y1="455.9" x2="558.5" y2="455.9" stroke="#333" stroke-width="0.5"/>
<text x="556.00" y="473.50" font-size="8.27" text-anchor="end" fill="#333" stroke="#333" stroke-width="0.16">KEGG_Regulation of actin cytoskeleton</text>
<line x1="556.6" y1="470.6" x2="558.5" y2="470.6" stroke="#333" stroke-width="0.5"/>
<text x="556.00" y="488.20" font-size="8.27" text-anchor="end" fill="#333" stroke="#333" stroke-width="0.16">KEGG_Hippo signaling pathway</text>
<line x1="556.6" y1="485.3" x2="558.5" y2="485.3" stroke="#333" stroke-width="0.5"/>
<text x="556.00" y="503.00" font-size="8.27" text-anchor="end" fill="#333" stroke="#333" stroke-width="0.16">KEGG_Focal adhesion</text>
<line x1="556.6" y1="500.1" x2="558.5" y2="500.1" stroke="#333" stroke-width="0.5"/>
<text x="556.00" y="517.70" font-size="8.27" text-anchor="end" fill="#333" stroke="#333" stroke-width="0.16">KEGG_Signaling pathways regulating pluripotency of stem cells</text>
<line x1="556.6" y1="514.8" x2="558.5" y2="514.8" stroke="#333" stroke-width="0.5"/>
<text x="556.00" y="532.40" font-size="8.27" text-anchor="end" fill="#333" stroke="#333" stroke-width="0.16">KEGG_EGFR tyrosine kinase inhibitor resistance</text>
<line x1="556.6" y1="529.5" x2="558.5" y2="529.5" stroke="#333" stroke-width="0.5"/>
<circle cx="628.0" cy="441.1" r="2.3" fill="#e0167f"/>
<circle cx="592.6" cy="455.9" r="1.85" fill="#e11a6e"/>
<circle cx="585.5" cy="470.6" r="1.6" fill="#c41fb0"/>
<circle cx="585.3" cy="485.3" r="1.6" fill="#e8402a"/>
<circle cx="582.0" cy="500.1" r="1.5" fill="#c01fb8"/>
<circle cx="571.9" cy="514.8" r="1.2" fill="#a51fc8"/>
<circle cx="561.8" cy="529.5" r="0.7" fill="#e8305a"/>
<line x1="564.8" y1="537.7" x2="564.8" y2="539.5" stroke="#333" stroke-width="0.5"/>
<text x="564.80" y="546.40" font-size="8.6" text-anchor="middle" fill="#333" stroke="#333" stroke-width="0.16">0.04</text>
<line x1="582.5" y1="537.7" x2="582.5" y2="539.5" stroke="#333" stroke-width="0.5"/>
<text x="582.55" y="546.40" font-size="8.6" text-anchor="middle" fill="#333" stroke="#333" stroke-width="0.16">0.06</text>
<line x1="600.3" y1="537.7" x2="600.3" y2="539.5" stroke="#333" stroke-width="0.5"/>
<text x="600.30" y="546.40" font-size="8.6" text-anchor="middle" fill="#333" stroke="#333" stroke-width="0.16">0.08</text>
<line x1="618.0" y1="537.7" x2="618.0" y2="539.5" stroke="#333" stroke-width="0.5"/>
<text x="618.05" y="546.40" font-size="8.6" text-anchor="middle" fill="#333" stroke="#333" stroke-width="0.16">0.10</text>
<text x="594.90" y="556.60" font-size="10.8" text-anchor="middle" stroke="#000" stroke-width="0.21">GeneRatio</text>
<text x="636.70" y="445.40" font-size="10.8" stroke="#000" stroke-width="0.21">GeneRatio</text>
<circle cx="639.8" cy="455.9" r="0.7" fill="#000"/>
<text x="647.00" y="459.00" font-size="8.6" stroke="#000" stroke-width="0.16">0.04</text>
<circle cx="639.8" cy="463.2" r="1.2" fill="#000"/>
<text x="647.00" y="466.30" font-size="8.6" stroke="#000" stroke-width="0.16">0.06</text>
<circle cx="639.8" cy="471.1" r="1.6" fill="#000"/>
<text x="647.00" y="474.20" font-size="8.6" stroke="#000" stroke-width="0.16">0.08</text>
<circle cx="639.8" cy="479.0" r="2.0" fill="#000"/>
<text x="647.00" y="482.10" font-size="8.6" stroke="#000" stroke-width="0.16">0.10</text>
<text x="636.70" y="499.70" font-size="10.8" stroke="#000" stroke-width="0.21">p.adjust</text>
<defs><linearGradient id="pg" x1="0" y1="0" x2="0" y2="1"><stop offset="0" stop-color="#5d2ad0"/><stop offset="0.3" stop-color="#a020c8"/><stop offset="0.6" stop-color="#e0167f"/><stop offset="1" stop-color="#ee2a1e"/></linearGradient></defs>
<rect x="636.7" y="505.6" width="5.1" height="28.2" fill="url(#pg)"/>
<text x="647.00" y="509.10" font-size="8.6" stroke="#000" stroke-width="0.16">0.050</text>
<text x="647.00" y="522.90" font-size="8.6" stroke="#000" stroke-width="0.16">0.025</text>
<text x="647.00" y="536.90" font-size="8.6" stroke="#000" stroke-width="0.16">0.000</text>
<text x="125.20" y="656.10" font-size="11.4" text-anchor="end" stroke="#000" stroke-width="0.22">Control ASO</text>
<text x="125.20" y="664.90" font-size="6.3" text-anchor="end">Control ASO peaks</text>
<text x="125.20" y="684.50" font-size="11.4" text-anchor="end" stroke="#000" stroke-width="0.22">DHT + Control ASO</text>
<text x="125.20" y="693.50" font-size="6.3" text-anchor="end">DHT + Control ASO peaks</text>
<text x="125.20" y="713.10" font-size="11.4" text-anchor="end" stroke="#000" stroke-width="0.22">DHT + AR ASO</text>
<text x="125.20" y="720.80" font-size="6.3" text-anchor="end">DHT + AR ASO peaks</text>
<text x="125.20" y="784.30" font-size="11.4" text-anchor="end" stroke="#000" stroke-width="0.22">Control ASO</text>
<text x="125.20" y="793.10" font-size="6.3" text-anchor="end">Control ASO peaks</text>
<text x="125.20" y="812.70" font-size="11.4" text-anchor="end" stroke="#000" stroke-width="0.22">DHT + Control ASO</text>
<text x="125.20" y="821.70" font-size="6.3" text-anchor="end">DHT + Control ASO peaks</text>
<text x="125.20" y="841.30" font-size="11.4" text-anchor="end" stroke="#000" stroke-width="0.22">DHT + AR ASO</text>
<text x="125.20" y="849.00" font-size="6.3" text-anchor="end">DHT + AR ASO peaks</text>
<text x="202.50" y="619.60" font-size="12.4" text-anchor="middle" stroke="#000" stroke-width="0.24">WT1</text>
<rect x="128.2" y="628.5" width="150.7" height="94.7" fill="#fff" stroke="#c9d5ec" stroke-width="0.8"/>
<line x1="128.7" y1="638.3" x2="278.4" y2="638.3" stroke="#f0f0f0" stroke-width="0.5"/>
<line x1="128.7" y1="666.0" x2="278.4" y2="666.0" stroke="#f0f0f0" stroke-width="0.5"/>
<line x1="128.7" y1="694.5" x2="278.4" y2="694.5" stroke="#f0f0f0" stroke-width="0.5"/>
<line x1="128.7" y1="631.0" x2="157.2" y2="631.0" stroke="#c77ad8" stroke-width="0.5"/>
<rect x="130.2" y="630.3" width="0.5" height="1.4" fill="#b04cd0"/>
<rect x="133.4" y="630.3" width="0.5" height="1.4" fill="#b04cd0"/>
<rect x="136.6" y="630.3" width="0.5" height="1.4" fill="#b04cd0"/>
<rect x="139.8" y="630.3" width="0.5" height="1.4" fill="#b04cd0"/>
<rect x="143.0" y="630.3" width="0.5" height="1.4" fill="#b04cd0"/>
<rect x="146.2" y="630.3" width="0.5" height="1.4" fill="#b04cd0"/>
<rect x="149.4" y="630.3" width="0.5" height="1.4" fill="#b04cd0"/>
<rect x="152.6" y="630.3" width="0.5" height="1.4" fill="#b04cd0"/>
<rect x="155.8" y="630.3" width="0.5" height="1.4" fill="#b04cd0"/>
<line x1="213" y1="631.0" x2="218" y2="631.0" stroke="#c77ad8" stroke-width="0.5"/>
<rect x="214.5" y="630.3" width="0.5" height="1.4" fill="#b04cd0"/>
<rect x="217.7" y="630.3" width="0.5" height="1.4" fill="#b04cd0"/>
<line x1="234" y1="631.0" x2="256.5" y2="631.0" stroke="#c77ad8" stroke-width="0.5"/>
<rect x="235.5" y="630.3" width="0.5" height="1.4" fill="#b04cd0"/>
<rect x="238.7" y="630.3" width="0.5" height="1.4" fill="#b04cd0"/>
<rect x="241.9" y="630.3" width="0.5" height="1.4" fill="#b04cd0"/>
<rect x="245.1" y="630.3" width="0.5" height="1.4" fill="#b04cd0"/>
<rect x="248.3" y="630.3" width="0.5" height="1.4" fill="#b04cd0"/>
<rect x="251.5" y="630.3" width="0.5" height="1.4" fill="#b04cd0"/>
<rect x="254.7" y="630.3" width="0.5" height="1.4" fill="#b04cd0"/>
<line x1="268.4" y1="631.0" x2="277.6" y2="631.0" stroke="#c77ad8" stroke-width="0.5"/>
<rect x="269.9" y="630.3" width="0.5" height="1.4" fill="#b04cd0"/>
<rect x="273.1" y="630.3" width="0.5" height="1.4" fill="#b04cd0"/>
<rect x="276.3" y="630.3" width="0.5" height="1.4" fill="#b04cd0"/>
<rect x="146" y="630.0" width="3.3" height="2.0" fill="#b040d0"/>
<rect x="173.8" y="630.0" width="0.8" height="2.0" fill="#b040d0"/>
<rect x="180.3" y="630.0" width="1.7" height="2.0" fill="#b040d0"/>
<rect x="214" y="630.0" width="1.0" height="2.0" fill="#b040d0"/>
<rect x="234.2" y="630.0" width="3.7" height="2.0" fill="#b040d0"/>
<rect x="261.5" y="630.0" width="0.8" height="2.0" fill="#b040d0"/>
<rect x="263.5" y="630.0" width="0.8" height="2.0" fill="#b040d0"/>
<rect x="270" y="630.0" width="2.5" height="2.0" fill="#b040d0"/>
<rect x="274" y="630.0" width="2.5" height="2.0" fill="#b040d0"/>
<text x="137.5" y="637.9" font-size="4.6" text-anchor="middle" fill="#333" textLength="8.0" lengthAdjust="spacingAndGlyphs">ELP4</text>
<text x="152" y="637.9" font-size="4.6" text-anchor="middle" fill="#333" textLength="16.0" lengthAdjust="spacingAndGlyphs">PAX6-AS1</text>
<text x="180" y="637.9" font-size="4.6" text-anchor="middle" fill="#333" textLength="8.0" lengthAdjust="spacingAndGlyphs">RCN1</text>
<text x="214" y="637.9" font-size="4.6" text-anchor="middle" fill="#333" textLength="6.0" lengthAdjust="spacingAndGlyphs">WT1</text>
<text x="233" y="637.9" font-size="4.6" text-anchor="middle" fill="#333" textLength="10.0" lengthAdjust="spacingAndGlyphs">EIF3M</text>
<text x="262.4" y="637.9" font-size="4.6" text-anchor="middle" fill="#333" textLength="10.0" lengthAdjust="spacingAndGlyphs">PRRG4</text>
<text x="129.7" y="640.5" font-size="2.6" fill="#555">[0-88.00]</text>
<path d="M130.7 656.7v-0.7M134.9 656.7v-0.9M136.6 656.7v-0.7M139.9 656.7v-0.6M142.0 656.7v-0.5M143.1 656.7v-0.8M145.5 656.7v-1.0M149.5 656.7v-0.8M150.5 656.7v-0.6M156.1 656.7v-0.7M165.1 656.7v-0.8M166.8 656.7v-0.9M183.2 656.7v-0.9M185.2 656.7v-0.4M187.1 656.7v-0.6M192.3 656.7v-0.5M195.5 656.7v-0.6M197.9 656.7v-0.8M203.3 656.7v-0.9M205.6 656.7v-0.5M206.9 656.7v-0.5M208.7 656.7v-0.4M211.2 656.7v-0.7M212.8 656.7v-0.7M215.1 656.7v-0.5M219.9 656.7v-0.8M222.5 656.7v-0.6M227.5 656.7v-0.4M232.9 656.7v-0.8M242.7 656.7v-0.7M243.9 656.7v-0.9M245.6 656.7v-0.8M247.5 656.7v-0.8M249.3 656.7v-0.6M252.7 656.7v-0.7M255.7 656.7v-0.7M256.5 656.7v-0.5M260.9 656.7v-0.9M262.7 656.7v-1.0M264.7 656.7v-0.9M267.9 656.7v-0.9M273.5 656.7v-0.4M276.0 656.7v-0.8M130.8 656.7v-1.1M132.4 656.7v-2.2M134.0 656.7v-2.4M134.8 656.7v-3.8M135.2 656.7v-1.5M136.9 656.7v-1.1M138.9 656.7v-1.5M139.3 656.7v-2.7M141.5 656.7v-2.2M142.4 656.7v-2.1M143.5 656.7v-1.4M143.9 656.7v-3.9M144.8 656.7v-1.1M145.8 656.7v-1.5M146.3 656.7v-3.5M146.9 656.7v-3.0M147.4 656.7v-5.1M147.8 656.7v-6.4M148.6 656.7v-5.9M149.1 656.7v-3.3M149.8 656.7v-2.4M151.1 656.7v-4.6M151.8 656.7v-2.9M152.2 656.7v-1.5M152.6 656.7v-5.0M153.4 656.7v-6.0M153.9 656.7v-3.4M154.6 656.7v-5.5M155.3 656.7v-5.3M156.0 656.7v-6.3M156.6 656.7v-6.2M157.5 656.7v-4.4M158.2 656.7v-4.8M159.5 656.7v-4.6M160.6 656.7v-5.7M161.0 656.7v-2.8M161.7 656.7v-3.0M162.3 656.7v-6.4M162.9 656.7v-6.2M163.3 656.7v-5.1M164.1 656.7v-4.0M165.1 656.7v-2.6M165.8 656.7v-1.7M166.4 656.7v-3.0M167.2 656.7v-1.7M167.9 656.7v-1.4M168.5 656.7v-3.7M169.4 656.7v-6.1M170.6 656.7v-2.7M171.0 656.7v-3.0M171.6 656.7v-4.2M172.3 656.7v-3.3M173.1 656.7v-4.4M173.4 656.7v-2.3M173.8 656.7v-3.9M174.3 656.7v-1.6M175.7 656.7v-6.1M176.3 656.7v-2.5M177.2 656.7v-2.0M177.8 656.7v-4.5M178.6 656.7v-2.4M179.8 656.7v-2.2M180.1 656.7v-3.0M180.7 656.7v-1.6M181.1 656.7v-3.0M182.6 656.7v-5.6M184.3 656.7v-6.5M186.0 656.7v-3.3M187.1 656.7v-5.9M187.6 656.7v-2.0M188.2 656.7v-1.8M188.7 656.7v-2.7M189.1 656.7v-1.6M189.8 656.7v-1.8M190.7 656.7v-5.7M191.2 656.7v-3.4M191.9 656.7v-4.7M192.6 656.7v-2.8M193.1 656.7v-4.3M195.1 656.7v-6.5M195.7 656.7v-5.4M196.1 656.7v-2.7M196.6 656.7v-4.2M197.2 656.7v-3.7M197.8 656.7v-2.1M198.5 656.7v-3.3M199.1 656.7v-1.4M200.3 656.7v-3.3M201.0 656.7v-1.4M201.7 656.7v-1.5M202.5 656.7v-5.6M203.3 656.7v-5.3M203.8 656.7v-1.4M204.5 656.7v-1.4M205.3 656.7v-3.7M206.2 656.7v-3.1M206.9 656.7v-2.9M208.1 656.7v-3.9M208.6 656.7v-1.4M209.1 656.7v-1.5M209.6 656.7v-1.4M210.4 656.7v-5.7M211.0 656.7v-1.4M211.7 656.7v-2.1M213.4 656.7v-3.5M216.0 656.7v-1.3M219.3 656.7v-2.8M230.0 656.7v-2.6M232.5 656.7v-1.3M237.9 656.7v-0.9M241.0 656.7v-3.0M245.4 656.7v-2.0M248.6 656.7v-1.4M266.1 656.7v-3.0" stroke="#1f9e2a" stroke-width="0.6" fill="none"/>
<rect x="135.7" y="658.5" width="0.7" height="1.6" fill="#4a54c0"/>
<text x="136" y="665.7" font-size="5.0" text-anchor="middle" fill="#111" textLength="6.8" lengthAdjust="spacingAndGlyphs">1451</text>
<rect x="168.2" y="658.5" width="0.7" height="1.6" fill="#4a54c0"/>
<text x="168.6" y="665.7" font-size="5.0" text-anchor="middle" fill="#111" textLength="6.8" lengthAdjust="spacingAndGlyphs">1452</text>
<rect x="186.3" y="658.5" width="0.7" height="1.6" fill="#4a54c0"/>
<text x="186.7" y="665.7" font-size="5.0" text-anchor="middle" fill="#111" textLength="6.8" lengthAdjust="spacingAndGlyphs">1453</text>
<text x="129.7" y="669.6" font-size="2.6" fill="#555">[0-88.00]</text>
<path d="M130.7 685.8v-0.6M140.9 685.8v-0.7M144.2 685.8v-0.5M146.9 685.8v-0.5M150.3 685.8v-0.7M153.2 685.8v-0.9M155.2 685.8v-0.5M156.8 685.8v-0.8M158.9 685.8v-0.9M161.2 685.8v-0.9M172.7 685.8v-0.7M173.9 685.8v-0.5M187.4 685.8v-0.5M189.9 685.8v-1.0M190.8 685.8v-0.9M195.1 685.8v-0.8M201.5 685.8v-0.6M204.6 685.8v-0.8M206.4 685.8v-0.6M210.2 685.8v-0.7M212.3 685.8v-0.5M213.7 685.8v-0.7M216.8 685.8v-0.6M218.9 685.8v-1.0M227.0 685.8v-0.8M231.7 685.8v-0.5M235.9 685.8v-0.9M239.5 685.8v-0.7M243.2 685.8v-0.8M244.9 685.8v-0.9M251.8 685.8v-0.5M260.2 685.8v-0.6M262.1 685.8v-1.0M265.3 685.8v-0.6M267.1 685.8v-1.0M130.2 685.8v-1.8M137.1 685.8v-3.7M138.3 685.8v-5.0M142.2 685.8v-3.7M145.3 685.8v-7.0M145.8 685.8v-2.7M146.3 685.8v-1.7M147.0 685.8v-3.1M147.8 685.8v-6.3M148.2 685.8v-8.5M148.7 685.8v-5.4M149.3 685.8v-5.9M149.7 685.8v-2.0M151.1 685.8v-5.6M151.7 685.8v-5.9M152.1 685.8v-2.2M152.5 685.8v-2.4M153.1 685.8v-2.0M153.8 685.8v-2.4M154.7 685.8v-7.9M155.3 685.8v-4.7M156.2 685.8v-3.0M157.0 685.8v-3.1M157.5 685.8v-8.0M157.9 685.8v-3.9M159.4 685.8v-7.4M159.9 685.8v-2.5M160.7 685.8v-4.4M161.7 685.8v-1.7M162.2 685.8v-4.7M163.0 685.8v-1.9M163.5 685.8v-6.8M164.1 685.8v-5.4M164.8 685.8v-3.0M165.5 685.8v-5.5M166.0 685.8v-1.7M166.8 685.8v-1.7M167.7 685.8v-6.4M168.2 685.8v-5.7M168.8 685.8v-5.3M170.4 685.8v-1.9M171.0 685.8v-3.2M171.9 685.8v-7.0M172.7 685.8v-1.8M173.4 685.8v-5.6M173.8 685.8v-5.2M174.5 685.8v-1.8M176.0 685.8v-2.7M177.7 685.8v-1.8M178.3 685.8v-2.1M178.8 685.8v-6.1M179.3 685.8v-2.4M180.2 685.8v-6.6M180.8 685.8v-7.8M181.2 685.8v-2.1M181.6 685.8v-2.4M182.3 685.8v-3.7M182.8 685.8v-2.8M183.2 685.8v-2.2M183.5 685.8v-4.5M184.3 685.8v-1.7M184.9 685.8v-6.8M185.6 685.8v-4.1M186.4 685.8v-4.7M187.9 685.8v-8.1M188.7 685.8v-3.3M189.5 685.8v-7.3M190.3 685.8v-4.0M190.9 685.8v-3.5M191.6 685.8v-8.4M192.1 685.8v-2.4M192.5 685.8v-1.7M193.0 685.8v-1.8M193.6 685.8v-4.0M194.1 685.8v-7.3M195.0 685.8v-5.7M195.7 685.8v-2.1M196.4 685.8v-1.7M197.3 685.8v-2.9M197.9 685.8v-2.0M198.5 685.8v-7.0M198.9 685.8v-5.9M200.1 685.8v-7.0M200.7 685.8v-1.7M201.1 685.8v-7.9M201.6 685.8v-1.7M202.1 685.8v-1.7M202.8 685.8v-2.6M204.5 685.8v-2.5M205.3 685.8v-8.3M206.1 685.8v-7.1M206.5 685.8v-2.8M207.4 685.8v-5.0M208.1 685.8v-2.4M208.6 685.8v-2.9M209.1 685.8v-8.3M209.6 685.8v-2.7M210.1 685.8v-1.7M210.9 685.8v-5.9M211.6 685.8v-6.6M212.1 685.8v-2.9M212.6 685.8v-1.8M213.0 685.8v-6.8M214.5 685.8v-2.1M217.9 685.8v-1.6M223.6 685.8v-2.1M234.5 685.8v-2.1M236.9 685.8v-1.2M238.2 685.8v-1.6M249.4 685.8v-1.1M252.1 685.8v-1.5M257.9 685.8v-3.7M260.2 685.8v-3.3M264.5 685.8v-2.4M266.8 685.8v-2.8M276.8 685.8v-1.1M149.0 685.8v-16.0M233.0 685.8v-6.0M271.0 685.8v-10.0M208.0 685.8v-8.0" stroke="#e02020" stroke-width="0.6" fill="none"/>
<rect x="137.7" y="687.6" width="0.7" height="1.6" fill="#4a54c0"/>
<text x="138" y="694.8" font-size="5.0" text-anchor="middle" fill="#111" textLength="6.8" lengthAdjust="spacingAndGlyphs">2116</text>
<rect x="148.2" y="687.6" width="0.7" height="1.6" fill="#4a54c0"/>
<text x="148.5" y="694.8" font-size="5.0" text-anchor="middle" fill="#111" textLength="6.8" lengthAdjust="spacingAndGlyphs">2118</text>
<rect x="167.2" y="687.6" width="0.7" height="1.6" fill="#4a54c0"/>
<text x="167.5" y="694.8" font-size="5.0" text-anchor="middle" fill="#111" textLength="6.8" lengthAdjust="spacingAndGlyphs">2121</text>
<rect x="181.2" y="687.6" width="0.7" height="1.6" fill="#4a54c0"/>
<text x="181.5" y="694.8" font-size="5.0" text-anchor="middle" fill="#111" textLength="6.8" lengthAdjust="spacingAndGlyphs">2124</text>
<rect x="194.7" y="687.6" width="0.7" height="1.6" fill="#4a54c0"/>
<text x="195" y="694.8" font-size="5.0" text-anchor="middle" fill="#111" textLength="6.8" lengthAdjust="spacingAndGlyphs">2127</text>
<rect x="205.7" y="687.6" width="0.7" height="1.6" fill="#4a54c0"/>
<text x="206" y="694.8" font-size="5.0" text-anchor="middle" fill="#111" textLength="6.8" lengthAdjust="spacingAndGlyphs">2129</text>
<rect x="233.3" y="687.6" width="0.7" height="1.6" fill="#4a54c0"/>
<text x="233.7" y="694.8" font-size="5.0" text-anchor="middle" fill="#111" textLength="6.8" lengthAdjust="spacingAndGlyphs">2132</text>
<rect x="270.2" y="687.6" width="0.7" height="1.6" fill="#4a54c0"/>
<text x="270.6" y="694.8" font-size="5.0" text-anchor="middle" fill="#111" textLength="6.8" lengthAdjust="spacingAndGlyphs">2134</text>
<text x="129.7" y="697.5" font-size="2.6" fill="#555">[0-88.00]</text>
<path d="M132.1 713.7v-0.9M135.4 713.7v-0.9M138.8 713.7v-0.7M141.0 713.7v-0.8M151.5 713.7v-0.9M152.3 713.7v-0.6M153.9 713.7v-0.7M159.9 713.7v-0.7M161.9 713.7v-0.6M165.3 713.7v-0.7M167.6 713.7v-0.7M168.8 713.7v-0.4M170.4 713.7v-0.9M171.4 713.7v-0.5M173.0 713.7v-0.7M186.6 713.7v-0.7M190.6 713.7v-0.9M191.8 713.7v-1.0M193.1 713.7v-0.7M193.9 713.7v-0.6M198.0 713.7v-0.7M205.0 713.7v-0.7M211.9 713.7v-1.0M221.1 713.7v-0.5M223.5 713.7v-0.5M224.7 713.7v-0.9M239.3 713.7v-1.0M248.6 713.7v-0.7M253.3 713.7v-0.9M255.0 713.7v-0.5M255.9 713.7v-0.5M259.7 713.7v-0.4M262.5 713.7v-0.7M264.8 713.7v-0.9M268.2 713.7v-0.6M272.3 713.7v-0.9M273.6 713.7v-0.8M136.9 713.7v-5.1M140.3 713.7v-4.3M140.8 713.7v-1.5M141.2 713.7v-1.4M142.2 713.7v-3.6M142.9 713.7v-3.9M144.9 713.7v-1.5M145.3 713.7v-2.9M146.4 713.7v-2.7M147.9 713.7v-2.0M148.4 713.7v-5.2M148.9 713.7v-6.2M150.1 713.7v-3.7M150.9 713.7v-1.9M151.7 713.7v-6.7M152.2 713.7v-5.0M152.6 713.7v-2.0M153.0 713.7v-3.4M153.7 713.7v-4.5M154.6 713.7v-3.6M155.9 713.7v-5.9M156.7 713.7v-6.3M157.0 713.7v-3.5M157.5 713.7v-1.8M158.0 713.7v-2.2M159.1 713.7v-2.5M159.8 713.7v-2.4M160.4 713.7v-3.3M161.3 713.7v-4.1M162.0 713.7v-1.6M162.6 713.7v-2.3M163.1 713.7v-3.4M164.6 713.7v-3.3M165.5 713.7v-2.3M167.5 713.7v-3.5M168.4 713.7v-3.2M169.6 713.7v-5.0M170.3 713.7v-2.9M170.8 713.7v-1.8M171.5 713.7v-1.6M172.7 713.7v-6.5M173.3 713.7v-2.2M173.8 713.7v-4.8M174.3 713.7v-2.3M174.8 713.7v-5.6M175.2 713.7v-1.7M176.0 713.7v-2.5M176.5 713.7v-3.8M177.3 713.7v-4.0M178.1 713.7v-5.4M178.8 713.7v-2.2M179.6 713.7v-5.7M180.5 713.7v-5.3M181.7 713.7v-1.6M183.2 713.7v-4.8M184.1 713.7v-5.7M184.6 713.7v-2.1M185.1 713.7v-6.1M185.8 713.7v-2.1M186.4 713.7v-7.3M187.0 713.7v-4.7M187.5 713.7v-3.3M188.4 713.7v-3.3M188.9 713.7v-4.5M189.4 713.7v-2.1M190.7 713.7v-2.3M191.4 713.7v-2.7M192.3 713.7v-2.3M193.8 713.7v-6.5M195.2 713.7v-7.2M196.0 713.7v-3.6M196.5 713.7v-2.1M197.3 713.7v-1.7M198.7 713.7v-3.9M199.5 713.7v-3.4M199.9 713.7v-4.7M200.5 713.7v-1.6M201.3 713.7v-4.0M201.9 713.7v-7.0M202.7 713.7v-2.3M203.2 713.7v-3.2M205.6 713.7v-5.3M206.3 713.7v-2.0M207.6 713.7v-2.5M208.1 713.7v-4.3M208.4 713.7v-5.6M208.9 713.7v-4.4M209.7 713.7v-4.1M210.1 713.7v-2.9M211.2 713.7v-2.2M213.1 713.7v-2.3M213.5 713.7v-4.7M214.0 713.7v-4.6M233.4 713.7v-1.2M237.5 713.7v-1.1M238.9 713.7v-1.1M243.5 713.7v-1.3M248.0 713.7v-2.7M251.5 713.7v-3.3M254.7 713.7v-1.0M264.7 713.7v-2.2M265.6 713.7v-1.1M269.9 713.7v-1.0M203.0 713.7v-9.0M178.0 713.7v-7.0" stroke="#2530a8" stroke-width="0.6" fill="none"/>
<rect x="149.2" y="715.5" width="0.7" height="1.6" fill="#4a54c0"/>
<text x="149.5" y="722.7" font-size="5.0" text-anchor="middle" fill="#111" textLength="6.8" lengthAdjust="spacingAndGlyphs">1799</text>
<rect x="166.2" y="715.5" width="0.7" height="1.6" fill="#4a54c0"/>
<text x="166.5" y="722.7" font-size="5.0" text-anchor="middle" fill="#111" textLength="6.8" lengthAdjust="spacingAndGlyphs">1801</text>
<rect x="178.2" y="715.5" width="0.7" height="1.6" fill="#4a54c0"/>
<text x="178.5" y="722.7" font-size="5.0" text-anchor="middle" fill="#111" textLength="6.8" lengthAdjust="spacingAndGlyphs">1802</text>
<rect x="203.2" y="715.5" width="0.7" height="1.6" fill="#4a54c0"/>
<text x="203.5" y="722.7" font-size="5.0" text-anchor="middle" fill="#111" textLength="6.8" lengthAdjust="spacingAndGlyphs">1804</text>
<rect x="219.7" y="715.5" width="0.7" height="1.6" fill="#4a54c0"/>
<text x="220" y="722.7" font-size="5.0" text-anchor="middle" fill="#111" textLength="6.8" lengthAdjust="spacingAndGlyphs">1805</text>
<rect x="241.2" y="715.5" width="0.7" height="1.6" fill="#4a54c0"/>
<text x="241.5" y="722.7" font-size="5.0" text-anchor="middle" fill="#111" textLength="6.8" lengthAdjust="spacingAndGlyphs">1806</text>
<rect x="135.4" y="638.7" width="5.7" height="81.2" fill="none" stroke="#f6b74a" stroke-width="0.55" stroke-dasharray="1.1 0.8"/>
<rect x="145.3" y="638.7" width="6.0" height="81.2" fill="none" stroke="#f6b74a" stroke-width="0.55" stroke-dasharray="1.1 0.8"/>
<rect x="230.4" y="638.7" width="6.3" height="81.2" fill="none" stroke="#f6b74a" stroke-width="0.55" stroke-dasharray="1.1 0.8"/>
<rect x="268.4" y="638.7" width="6.2" height="81.2" fill="none" stroke="#f6b74a" stroke-width="0.55" stroke-dasharray="1.1 0.8"/>
<text x="377.20" y="619.40" font-size="12.4" text-anchor="middle" stroke="#000" stroke-width="0.24">SOX2</text>
<rect x="302.5" y="628.3" width="150.3" height="94.9" fill="#fff" stroke="#c9d5ec" stroke-width="0.8"/>
<line x1="303.0" y1="638.1" x2="452.3" y2="638.1" stroke="#f0f0f0" stroke-width="0.5"/>
<line x1="303.0" y1="665.8" x2="452.3" y2="665.8" stroke="#f0f0f0" stroke-width="0.5"/>
<line x1="303.0" y1="694.3" x2="452.3" y2="694.3" stroke="#f0f0f0" stroke-width="0.5"/>
<line x1="303" y1="630.8" x2="370" y2="630.8" stroke="#c77ad8" stroke-width="0.5"/>
<rect x="304.5" y="630.1" width="0.5" height="1.4" fill="#b04cd0"/>
<rect x="307.7" y="630.1" width="0.5" height="1.4" fill="#b04cd0"/>
<rect x="310.9" y="630.1" width="0.5" height="1.4" fill="#b04cd0"/>
<rect x="314.1" y="630.1" width="0.5" height="1.4" fill="#b04cd0"/>
<rect x="317.3" y="630.1" width="0.5" height="1.4" fill="#b04cd0"/>
<rect x="320.5" y="630.1" width="0.5" height="1.4" fill="#b04cd0"/>
<rect x="323.7" y="630.1" width="0.5" height="1.4" fill="#b04cd0"/>
<rect x="326.9" y="630.1" width="0.5" height="1.4" fill="#b04cd0"/>
<rect x="330.1" y="630.1" width="0.5" height="1.4" fill="#b04cd0"/>
<rect x="333.3" y="630.1" width="0.5" height="1.4" fill="#b04cd0"/>
<rect x="336.5" y="630.1" width="0.5" height="1.4" fill="#b04cd0"/>
<rect x="339.7" y="630.1" width="0.5" height="1.4" fill="#b04cd0"/>
<rect x="342.9" y="630.1" width="0.5" height="1.4" fill="#b04cd0"/>
<rect x="346.1" y="630.1" width="0.5" height="1.4" fill="#b04cd0"/>
<rect x="349.3" y="630.1" width="0.5" height="1.4" fill="#b04cd0"/>
<rect x="352.5" y="630.1" width="0.5" height="1.4" fill="#b04cd0"/>
<rect x="355.7" y="630.1" width="0.5" height="1.4" fill="#b04cd0"/>
<rect x="358.9" y="630.1" width="0.5" height="1.4" fill="#b04cd0"/>
<rect x="362.1" y="630.1" width="0.5" height="1.4" fill="#b04cd0"/>
<rect x="365.3" y="630.1" width="0.5" height="1.4" fill="#b04cd0"/>
<rect x="368.5" y="630.1" width="0.5" height="1.4" fill="#b04cd0"/>
<line x1="390" y1="630.8" x2="396" y2="630.8" stroke="#c77ad8" stroke-width="0.5"/>
<rect x="391.5" y="630.1" width="0.5" height="1.4" fill="#b04cd0"/>
<rect x="394.7" y="630.1" width="0.5" height="1.4" fill="#b04cd0"/>
<line x1="440" y1="630.8" x2="449" y2="630.8" stroke="#c77ad8" stroke-width="0.5"/>
<rect x="441.5" y="630.1" width="0.5" height="1.4" fill="#b04cd0"/>
<rect x="444.7" y="630.1" width="0.5" height="1.4" fill="#b04cd0"/>
<rect x="447.9" y="630.1" width="0.5" height="1.4" fill="#b04cd0"/>
<rect x="392" y="629.8" width="3.0" height="2.0" fill="#b040d0"/>
<rect x="443" y="629.8" width="3.0" height="2.0" fill="#b040d0"/>
<text x="334.5" y="637.7" font-size="4.6" text-anchor="middle" fill="#333" textLength="14.0" lengthAdjust="spacingAndGlyphs">SOX2-OT</text>
<text x="360" y="637.7" font-size="4.6" text-anchor="middle" fill="#333" textLength="14.0" lengthAdjust="spacingAndGlyphs">SOX2-OT</text>
<text x="399" y="637.7" font-size="4.6" text-anchor="middle" fill="#333" textLength="18.0" lengthAdjust="spacingAndGlyphs">LINC01206</text>
<text x="441" y="637.7" font-size="4.6" text-anchor="middle" fill="#333" textLength="18.0" lengthAdjust="spacingAndGlyphs">LINC01994</text>
<text x="304.0" y="640.3" font-size="2.6" fill="#555">[0-88.00]</text>
<path d="M310.4 656.5v-0.5M313.8 656.5v-0.5M315.9 656.5v-0.7M318.8 656.5v-0.7M320.1 656.5v-0.9M324.3 656.5v-0.6M325.8 656.5v-0.8M328.4 656.5v-0.4M330.4 656.5v-0.7M331.4 656.5v-0.5M332.3 656.5v-0.8M334.4 656.5v-0.8M338.3 656.5v-0.9M341.1 656.5v-0.4M350.0 656.5v-0.5M354.5 656.5v-0.9M357.8 656.5v-0.4M360.9 656.5v-0.6M363.1 656.5v-1.0M364.4 656.5v-0.5M368.2 656.5v-0.8M370.5 656.5v-0.8M375.7 656.5v-0.8M382.4 656.5v-0.4M383.6 656.5v-0.5M384.6 656.5v-0.6M391.3 656.5v-0.7M394.7 656.5v-0.7M396.2 656.5v-0.4M399.2 656.5v-0.8M406.8 656.5v-0.6M408.4 656.5v-0.8M411.7 656.5v-0.8M417.1 656.5v-0.8M419.6 656.5v-0.5M421.7 656.5v-0.5M426.9 656.5v-0.4M431.8 656.5v-0.8M434.1 656.5v-1.0M438.1 656.5v-0.5M444.3 656.5v-0.4M448.1 656.5v-0.5M450.1 656.5v-0.7M307.9 656.5v-0.8M310.1 656.5v-1.6M315.1 656.5v-1.4M316.8 656.5v-0.7M324.1 656.5v-1.5M325.3 656.5v-2.0M325.8 656.5v-1.1M326.2 656.5v-1.6M328.6 656.5v-1.7M332.9 656.5v-0.9M336.6 656.5v-0.8M337.7 656.5v-1.2M338.2 656.5v-0.8M340.3 656.5v-0.9M341.6 656.5v-1.5M347.4 656.5v-1.9M348.1 656.5v-0.8M350.6 656.5v-1.0M352.2 656.5v-0.8M356.7 656.5v-1.0M357.4 656.5v-1.9M358.9 656.5v-1.8M364.1 656.5v-1.7M365.2 656.5v-1.8M367.9 656.5v-1.5M368.3 656.5v-1.1M370.8 656.5v-2.2M372.0 656.5v-1.0M373.3 656.5v-1.2M373.7 656.5v-0.9M378.5 656.5v-0.8M379.2 656.5v-1.2M387.1 656.5v-0.8M389.2 656.5v-0.8M395.6 656.5v-0.8M396.9 656.5v-2.0M402.8 656.5v-1.7M405.1 656.5v-0.8M407.8 656.5v-1.8M408.9 656.5v-1.1M414.6 656.5v-1.7M419.0 656.5v-1.1M422.8 656.5v-2.1M425.0 656.5v-0.9M427.7 656.5v-0.9M428.9 656.5v-1.2M429.4 656.5v-0.9M430.7 656.5v-1.1M439.9 656.5v-2.0M440.6 656.5v-0.8M444.6 656.5v-0.8M381.0 656.5v-3.0M364.0 656.5v-3.0" stroke="#1f9e2a" stroke-width="0.6" fill="none"/>
<rect x="363.6" y="658.3" width="0.7" height="1.6" fill="#4a54c0"/>
<text x="364" y="665.5" font-size="5.0" text-anchor="middle" fill="#111" textLength="6.8" lengthAdjust="spacingAndGlyphs">5482</text>
<rect x="381.1" y="658.3" width="0.7" height="1.6" fill="#4a54c0"/>
<text x="381.5" y="665.5" font-size="5.0" text-anchor="middle" fill="#111" textLength="6.8" lengthAdjust="spacingAndGlyphs">5483</text>
<rect x="444.6" y="658.3" width="0.7" height="1.6" fill="#4a54c0"/>
<text x="445" y="665.5" font-size="5.0" text-anchor="middle" fill="#111" textLength="6.8" lengthAdjust="spacingAndGlyphs">5484</text>
<text x="304.0" y="669.4" font-size="2.6" fill="#555">[0-88.00]</text>
<path d="M306.5 685.6v-0.7M310.6 685.6v-1.0M311.6 685.6v-0.5M313.2 685.6v-0.5M317.4 685.6v-0.8M319.7 685.6v-1.0M330.9 685.6v-0.5M332.8 685.6v-0.5M339.8 685.6v-0.5M340.7 685.6v-0.7M342.6 685.6v-0.7M348.5 685.6v-0.7M353.3 685.6v-0.8M354.8 685.6v-0.6M360.8 685.6v-0.5M362.7 685.6v-0.5M377.2 685.6v-0.6M378.0 685.6v-0.6M379.0 685.6v-0.8M381.4 685.6v-0.8M382.9 685.6v-1.0M384.7 685.6v-0.6M394.2 685.6v-0.8M396.3 685.6v-0.4M398.1 685.6v-0.6M402.5 685.6v-0.8M410.7 685.6v-0.8M417.3 685.6v-0.9M427.0 685.6v-0.6M433.9 685.6v-1.0M434.9 685.6v-0.8M435.7 685.6v-0.7M437.7 685.6v-0.8M447.6 685.6v-0.9M449.6 685.6v-0.6M313.4 685.6v-0.9M314.0 685.6v-1.1M316.3 685.6v-2.5M321.2 685.6v-1.0M325.7 685.6v-1.8M326.1 685.6v-0.9M332.8 685.6v-2.3M334.2 685.6v-2.5M337.2 685.6v-1.0M339.5 685.6v-0.8M344.0 685.6v-0.9M345.2 685.6v-1.6M347.0 685.6v-1.0M350.3 685.6v-1.4M352.7 685.6v-1.9M356.2 685.6v-2.7M357.5 685.6v-1.1M358.4 685.6v-2.6M363.9 685.6v-1.0M364.8 685.6v-1.9M365.9 685.6v-2.1M366.4 685.6v-2.0M371.6 685.6v-2.1M376.0 685.6v-2.4M380.2 685.6v-0.8M380.7 685.6v-2.0M384.1 685.6v-1.3M384.7 685.6v-2.2M388.0 685.6v-2.0M391.7 685.6v-1.3M393.8 685.6v-1.4M395.3 685.6v-2.0M398.0 685.6v-1.4M400.5 685.6v-1.4M401.5 685.6v-1.0M404.1 685.6v-2.1M406.0 685.6v-1.4M411.3 685.6v-2.7M411.7 685.6v-1.7M413.3 685.6v-1.4M414.0 685.6v-0.9M417.7 685.6v-1.5M419.2 685.6v-1.1M421.8 685.6v-1.2M422.4 685.6v-0.9M425.6 685.6v-2.1M426.9 685.6v-2.7M427.9 685.6v-2.1M429.1 685.6v-2.4M434.3 685.6v-0.8M435.0 685.6v-0.9M436.4 685.6v-2.4M436.9 685.6v-1.9M439.0 685.6v-1.8M439.5 685.6v-1.9M442.4 685.6v-0.9M444.4 685.6v-0.8M446.3 685.6v-0.9M449.1 685.6v-2.4M449.7 685.6v-2.1M382.0 685.6v-16.0M422.0 685.6v-13.0M364.0 685.6v-4.0M392.0 685.6v-5.0M436.0 685.6v-3.0" stroke="#e02020" stroke-width="0.6" fill="none"/>
<rect x="306.6" y="687.4" width="0.7" height="1.6" fill="#4a54c0"/>
<text x="307" y="694.6" font-size="5.0" text-anchor="middle" fill="#111" textLength="6.8" lengthAdjust="spacingAndGlyphs">7611</text>
<rect x="346.6" y="687.4" width="0.7" height="1.6" fill="#4a54c0"/>
<text x="347" y="694.6" font-size="5.0" text-anchor="middle" fill="#111" textLength="6.8" lengthAdjust="spacingAndGlyphs">7612</text>
<rect x="362.6" y="687.4" width="0.7" height="1.6" fill="#4a54c0"/>
<text x="363" y="694.6" font-size="5.0" text-anchor="middle" fill="#111" textLength="6.8" lengthAdjust="spacingAndGlyphs">7614</text>
<rect x="373.6" y="687.4" width="0.7" height="1.6" fill="#4a54c0"/>
<text x="374" y="694.6" font-size="5.0" text-anchor="middle" fill="#111" textLength="6.8" lengthAdjust="spacingAndGlyphs">7616</text>
<rect x="386.6" y="687.4" width="0.7" height="1.6" fill="#4a54c0"/>
<text x="387" y="694.6" font-size="5.0" text-anchor="middle" fill="#111" textLength="6.8" lengthAdjust="spacingAndGlyphs">7618</text>
<rect x="406.6" y="687.4" width="0.7" height="1.6" fill="#4a54c0"/>
<text x="407" y="694.6" font-size="5.0" text-anchor="middle" fill="#111" textLength="6.8" lengthAdjust="spacingAndGlyphs">7621</text>
<rect x="422.1" y="687.4" width="0.7" height="1.6" fill="#4a54c0"/>
<text x="422.5" y="694.6" font-size="5.0" text-anchor="middle" fill="#111" textLength="6.8" lengthAdjust="spacingAndGlyphs">7623</text>
<text x="304.0" y="697.3" font-size="2.6" fill="#555">[0-88.00]</text>
<path d="M308.8 713.5v-0.5M318.3 713.5v-0.7M320.6 713.5v-0.5M323.0 713.5v-0.5M328.9 713.5v-0.8M332.4 713.5v-0.9M334.6 713.5v-0.8M336.8 713.5v-0.8M341.6 713.5v-1.0M342.8 713.5v-0.8M344.6 713.5v-0.5M347.2 713.5v-0.4M348.6 713.5v-0.7M350.1 713.5v-0.6M354.2 713.5v-0.9M355.7 713.5v-0.6M357.8 713.5v-0.7M363.5 713.5v-0.9M367.0 713.5v-0.5M368.3 713.5v-0.9M370.3 713.5v-0.8M372.3 713.5v-0.9M376.6 713.5v-0.6M378.1 713.5v-1.0M381.4 713.5v-0.6M385.3 713.5v-0.6M386.1 713.5v-0.5M387.3 713.5v-0.5M389.7 713.5v-0.9M397.8 713.5v-0.9M399.4 713.5v-0.7M408.0 713.5v-0.5M425.0 713.5v-0.8M426.0 713.5v-0.8M429.3 713.5v-1.0M430.5 713.5v-0.8M435.5 713.5v-0.5M436.9 713.5v-0.4M445.1 713.5v-0.7M448.3 713.5v-0.9M313.7 713.5v-0.8M320.7 713.5v-1.0M325.7 713.5v-2.4M328.9 713.5v-0.9M331.8 713.5v-1.2M333.3 713.5v-1.3M335.0 713.5v-0.8M339.4 713.5v-2.1M342.6 713.5v-1.4M343.5 713.5v-2.2M344.0 713.5v-0.8M346.2 713.5v-1.5M349.2 713.5v-1.5M351.5 713.5v-1.4M353.0 713.5v-1.2M354.2 713.5v-1.8M354.7 713.5v-2.6M355.2 713.5v-2.3M358.2 713.5v-1.9M358.6 713.5v-1.2M359.3 713.5v-0.9M360.2 713.5v-1.9M364.4 713.5v-2.3M371.9 713.5v-2.2M372.4 713.5v-2.0M373.3 713.5v-2.5M374.2 713.5v-1.1M377.3 713.5v-1.2M378.5 713.5v-1.2M380.3 713.5v-1.9M382.5 713.5v-1.3M383.5 713.5v-1.9M384.6 713.5v-0.9M386.7 713.5v-1.2M389.2 713.5v-2.2M390.9 713.5v-2.6M391.8 713.5v-1.1M393.5 713.5v-1.1M394.3 713.5v-2.6M398.5 713.5v-2.1M403.2 713.5v-2.4M405.5 713.5v-1.5M409.9 713.5v-2.6M413.6 713.5v-1.5M415.5 713.5v-1.1M417.0 713.5v-0.8M430.0 713.5v-2.2M436.3 713.5v-2.4M438.2 713.5v-1.3M442.8 713.5v-0.8M444.6 713.5v-2.2M448.6 713.5v-1.4M364.0 713.5v-4.0M396.0 713.5v-3.0" stroke="#2530a8" stroke-width="0.6" fill="none"/>
<rect x="363.6" y="715.3" width="0.7" height="1.6" fill="#4a54c0"/>
<text x="364" y="722.5" font-size="5.0" text-anchor="middle" fill="#111" textLength="6.8" lengthAdjust="spacingAndGlyphs">6853</text>
<rect x="395.6" y="715.3" width="0.7" height="1.6" fill="#4a54c0"/>
<text x="396" y="722.5" font-size="5.0" text-anchor="middle" fill="#111" textLength="6.8" lengthAdjust="spacingAndGlyphs">6854</text>
<rect x="440.6" y="715.3" width="0.7" height="1.6" fill="#4a54c0"/>
<text x="441" y="722.5" font-size="5.0" text-anchor="middle" fill="#111" textLength="6.8" lengthAdjust="spacingAndGlyphs">6855</text>
<rect x="379.3" y="638.5" width="6.4" height="81.2" fill="none" stroke="#f6b74a" stroke-width="0.55" stroke-dasharray="1.1 0.8"/>
<rect x="420.1" y="638.5" width="5.9" height="81.2" fill="none" stroke="#f6b74a" stroke-width="0.55" stroke-dasharray="1.1 0.8"/>
<text x="556.90" y="619.70" font-size="12.4" text-anchor="middle" stroke="#000" stroke-width="0.24">CTNNB1</text>
<rect x="478.7" y="628.6" width="149.8" height="94.6" fill="#fff" stroke="#c9d5ec" stroke-width="0.8"/>
<line x1="479.2" y1="638.4" x2="628.0" y2="638.4" stroke="#f0f0f0" stroke-width="0.5"/>
<line x1="479.2" y1="666.1" x2="628.0" y2="666.1" stroke="#f0f0f0" stroke-width="0.5"/>
<line x1="479.2" y1="694.6" x2="628.0" y2="694.6" stroke="#f0f0f0" stroke-width="0.5"/>
<line x1="591.4" y1="631.1" x2="626.9" y2="631.1" stroke="#c77ad8" stroke-width="0.5"/>
<rect x="592.9" y="630.4" width="0.5" height="1.4" fill="#b04cd0"/>
<rect x="596.1" y="630.4" width="0.5" height="1.4" fill="#b04cd0"/>
<rect x="599.3" y="630.4" width="0.5" height="1.4" fill="#b04cd0"/>
<rect x="602.5" y="630.4" width="0.5" height="1.4" fill="#b04cd0"/>
<rect x="605.7" y="630.4" width="0.5" height="1.4" fill="#b04cd0"/>
<rect x="608.9" y="630.4" width="0.5" height="1.4" fill="#b04cd0"/>
<rect x="612.1" y="630.4" width="0.5" height="1.4" fill="#b04cd0"/>
<rect x="615.3" y="630.4" width="0.5" height="1.4" fill="#b04cd0"/>
<rect x="618.5" y="630.4" width="0.5" height="1.4" fill="#b04cd0"/>
<rect x="621.7" y="630.4" width="0.5" height="1.4" fill="#b04cd0"/>
<rect x="624.9" y="630.4" width="0.5" height="1.4" fill="#b04cd0"/>
<rect x="612" y="630.1" width="1.5" height="2.0" fill="#b040d0"/>
<rect x="619" y="630.1" width="1.0" height="2.0" fill="#b040d0"/>
<rect x="623" y="630.1" width="1.0" height="2.0" fill="#b040d0"/>
<text x="608.5" y="638.0" font-size="4.6" text-anchor="middle" fill="#333" textLength="12.0" lengthAdjust="spacingAndGlyphs">CTNNB1</text>
<text x="480.2" y="640.6" font-size="2.6" fill="#555">[0-88.00]</text>
<path d="M481.2 656.8v-0.8M484.1 656.8v-0.8M485.9 656.8v-0.7M491.5 656.8v-0.5M495.5 656.8v-0.7M500.8 656.8v-0.6M504.8 656.8v-0.6M507.2 656.8v-0.5M518.7 656.8v-0.8M532.4 656.8v-0.4M536.1 656.8v-0.8M538.5 656.8v-0.7M540.5 656.8v-0.6M542.7 656.8v-0.6M543.8 656.8v-0.5M545.3 656.8v-0.8M546.8 656.8v-0.5M554.9 656.8v-0.5M561.5 656.8v-0.6M570.7 656.8v-0.9M573.7 656.8v-1.0M580.2 656.8v-0.9M581.8 656.8v-0.5M588.7 656.8v-0.9M595.0 656.8v-0.9M603.5 656.8v-0.5M604.4 656.8v-1.0M606.6 656.8v-0.7M610.4 656.8v-0.8M613.7 656.8v-0.4M624.0 656.8v-0.7M626.2 656.8v-0.7M480.7 656.8v-2.6M481.6 656.8v-1.3M484.7 656.8v-1.0M486.4 656.8v-2.4M487.3 656.8v-0.9M487.7 656.8v-2.2M490.1 656.8v-3.1M490.9 656.8v-1.9M491.3 656.8v-2.6M492.2 656.8v-1.0M492.9 656.8v-1.0M496.2 656.8v-2.7M497.5 656.8v-1.4M498.4 656.8v-2.8M498.8 656.8v-1.7M500.1 656.8v-1.6M502.2 656.8v-2.0M502.9 656.8v-1.2M504.1 656.8v-1.0M504.6 656.8v-1.0M505.3 656.8v-2.6M506.7 656.8v-1.4M507.6 656.8v-1.3M509.2 656.8v-3.4M511.6 656.8v-1.1M512.4 656.8v-3.4M517.7 656.8v-1.1M519.5 656.8v-1.8M521.8 656.8v-1.3M522.5 656.8v-2.5M524.2 656.8v-1.2M525.0 656.8v-1.3M529.5 656.8v-3.1M530.1 656.8v-1.8M535.2 656.8v-2.4M537.6 656.8v-1.0M538.4 656.8v-2.6M542.9 656.8v-1.6M543.9 656.8v-3.2M544.4 656.8v-2.3M545.2 656.8v-2.4M547.0 656.8v-1.9M549.3 656.8v-1.1M552.1 656.8v-1.1M555.4 656.8v-3.4M556.4 656.8v-1.0M557.3 656.8v-1.0M560.9 656.8v-2.5M561.3 656.8v-3.4M562.1 656.8v-1.8M564.7 656.8v-1.4M568.0 656.8v-1.9M569.5 656.8v-1.1M570.0 656.8v-3.4M570.5 656.8v-2.1M571.4 656.8v-1.1M572.1 656.8v-1.6M573.3 656.8v-2.3M575.8 656.8v-1.0M578.1 656.8v-1.3M582.7 656.8v-1.0M584.3 656.8v-3.1M587.0 656.8v-2.6M587.7 656.8v-1.4M588.1 656.8v-1.0M588.4 656.8v-2.3M591.1 656.8v-2.9M591.4 656.8v-1.0M593.4 656.8v-2.5M593.8 656.8v-1.6M594.4 656.8v-2.0M595.8 656.8v-1.7M596.4 656.8v-2.5M598.6 656.8v-1.8M601.4 656.8v-1.2M602.5 656.8v-1.4M603.3 656.8v-1.7M605.5 656.8v-1.6M606.7 656.8v-1.4M609.0 656.8v-0.9M609.6 656.8v-0.9M616.7 656.8v-1.5M617.1 656.8v-1.8M617.5 656.8v-1.9M618.6 656.8v-1.8M618.9 656.8v-1.3M622.2 656.8v-1.0M622.7 656.8v-1.2M624.4 656.8v-1.0M508.0 656.8v-4.0M560.0 656.8v-4.0" stroke="#1f9e2a" stroke-width="0.6" fill="none"/>
<rect x="564.6" y="658.6" width="0.7" height="1.6" fill="#4a54c0"/>
<text x="565" y="665.8" font-size="5.0" text-anchor="middle" fill="#111" textLength="6.8" lengthAdjust="spacingAndGlyphs">5162</text>
<text x="480.2" y="669.7" font-size="2.6" fill="#555">[0-88.00]</text>
<path d="M483.4 685.9v-0.6M485.7 685.9v-0.6M493.0 685.9v-0.5M495.0 685.9v-0.7M496.0 685.9v-1.0M500.2 685.9v-0.8M502.6 685.9v-0.4M505.4 685.9v-0.8M508.9 685.9v-0.6M512.6 685.9v-0.6M514.4 685.9v-0.7M515.8 685.9v-0.8M516.8 685.9v-0.8M521.5 685.9v-0.9M526.0 685.9v-0.4M532.5 685.9v-0.9M533.6 685.9v-0.9M535.8 685.9v-0.7M537.9 685.9v-0.5M546.1 685.9v-0.7M553.5 685.9v-0.8M559.0 685.9v-0.9M560.6 685.9v-0.8M563.7 685.9v-0.7M566.9 685.9v-0.6M576.3 685.9v-0.4M583.1 685.9v-0.9M586.5 685.9v-0.4M592.4 685.9v-0.8M601.2 685.9v-0.5M602.5 685.9v-0.9M604.1 685.9v-0.5M606.1 685.9v-0.9M607.9 685.9v-1.0M610.2 685.9v-0.9M612.1 685.9v-0.5M616.0 685.9v-0.5M618.4 685.9v-0.6M619.8 685.9v-0.9M625.7 685.9v-0.4M484.2 685.9v-2.3M488.4 685.9v-1.6M490.4 685.9v-1.1M491.9 685.9v-1.9M492.6 685.9v-2.3M493.4 685.9v-1.5M493.9 685.9v-1.7M494.3 685.9v-3.5M495.5 685.9v-2.7M498.8 685.9v-1.0M499.4 685.9v-3.5M502.0 685.9v-4.0M502.8 685.9v-2.0M505.0 685.9v-1.1M505.8 685.9v-2.8M506.6 685.9v-3.3M508.0 685.9v-3.5M509.2 685.9v-1.5M512.5 685.9v-2.4M512.9 685.9v-4.0M515.0 685.9v-2.8M516.1 685.9v-3.1M518.1 685.9v-4.0M519.2 685.9v-2.6M521.7 685.9v-1.0M523.8 685.9v-2.1M524.5 685.9v-2.7M527.2 685.9v-1.4M528.0 685.9v-1.3M528.6 685.9v-3.8M529.1 685.9v-3.5M533.5 685.9v-1.1M534.1 685.9v-2.3M537.1 685.9v-2.8M538.6 685.9v-1.6M539.3 685.9v-2.0M540.2 685.9v-1.9M541.6 685.9v-1.7M543.1 685.9v-4.0M546.1 685.9v-3.6M546.9 685.9v-2.5M547.5 685.9v-1.8M548.4 685.9v-1.1M549.2 685.9v-1.0M549.7 685.9v-2.2M552.6 685.9v-3.4M555.8 685.9v-3.4M558.7 685.9v-2.5M560.2 685.9v-1.9M560.8 685.9v-1.4M561.3 685.9v-1.9M563.7 685.9v-1.1M564.4 685.9v-2.5M565.2 685.9v-1.3M566.2 685.9v-2.2M567.0 685.9v-2.3M567.4 685.9v-1.5M568.6 685.9v-1.1M570.6 685.9v-1.8M571.0 685.9v-3.2M572.4 685.9v-1.2M573.6 685.9v-1.5M574.1 685.9v-1.5M574.7 685.9v-3.0M578.6 685.9v-1.5M579.4 685.9v-1.8M580.5 685.9v-3.7M581.6 685.9v-1.1M582.2 685.9v-1.2M584.9 685.9v-1.5M586.9 685.9v-1.2M587.6 685.9v-1.7M589.0 685.9v-1.9M589.6 685.9v-1.1M591.0 685.9v-1.2M591.4 685.9v-1.1M592.0 685.9v-3.8M593.6 685.9v-3.0M595.5 685.9v-3.4M597.2 685.9v-1.2M599.2 685.9v-2.1M600.4 685.9v-3.6M602.6 685.9v-1.5M603.2 685.9v-3.6M603.7 685.9v-1.7M605.3 685.9v-1.4M608.1 685.9v-2.7M610.0 685.9v-3.5M610.8 685.9v-1.0M611.7 685.9v-2.7M613.6 685.9v-1.1M615.6 685.9v-1.1M616.7 685.9v-1.6M618.9 685.9v-3.5M619.3 685.9v-3.5M620.2 685.9v-1.4M620.9 685.9v-2.0M623.3 685.9v-1.1M508.0 685.9v-14.0M583.0 685.9v-10.0M560.0 685.9v-5.0" stroke="#e02020" stroke-width="0.6" fill="none"/>
<rect x="486.6" y="687.7" width="0.7" height="1.6" fill="#4a54c0"/>
<text x="487" y="694.9" font-size="5.0" text-anchor="middle" fill="#111" textLength="6.8" lengthAdjust="spacingAndGlyphs">7293</text>
<rect x="507.6" y="687.7" width="0.7" height="1.6" fill="#4a54c0"/>
<text x="508" y="694.9" font-size="5.0" text-anchor="middle" fill="#111" textLength="6.8" lengthAdjust="spacingAndGlyphs">7294</text>
<rect x="555.6" y="687.7" width="0.7" height="1.6" fill="#4a54c0"/>
<text x="556" y="694.9" font-size="5.0" text-anchor="middle" fill="#111" textLength="6.8" lengthAdjust="spacingAndGlyphs">7296</text>
<rect x="582.6" y="687.7" width="0.7" height="1.6" fill="#4a54c0"/>
<text x="583" y="694.9" font-size="5.0" text-anchor="middle" fill="#111" textLength="6.8" lengthAdjust="spacingAndGlyphs">7297</text>
<text x="480.2" y="697.6" font-size="2.6" fill="#555">[0-88.00]</text>
<path d="M482.6 713.8v-0.4M483.8 713.8v-0.6M487.9 713.8v-0.4M492.0 713.8v-0.6M494.3 713.8v-0.6M502.2 713.8v-0.7M504.0 713.8v-0.7M508.4 713.8v-1.0M511.4 713.8v-0.7M513.5 713.8v-0.4M518.0 713.8v-0.5M530.2 713.8v-0.5M533.7 713.8v-0.9M534.9 713.8v-0.5M538.4 713.8v-0.7M540.9 713.8v-0.6M546.7 713.8v-0.7M548.1 713.8v-1.0M549.3 713.8v-0.7M553.3 713.8v-0.7M558.9 713.8v-0.8M560.8 713.8v-0.8M568.8 713.8v-0.4M570.0 713.8v-0.6M572.0 713.8v-1.0M578.0 713.8v-0.7M582.2 713.8v-0.7M585.5 713.8v-0.8M595.5 713.8v-0.7M598.5 713.8v-0.4M600.3 713.8v-0.5M601.2 713.8v-0.4M607.0 713.8v-0.6M609.3 713.8v-0.8M614.7 713.8v-0.6M618.1 713.8v-0.8M622.0 713.8v-0.6M624.4 713.8v-0.6M625.9 713.8v-0.6M484.0 713.8v-1.4M485.1 713.8v-1.4M485.9 713.8v-1.1M486.6 713.8v-1.4M488.6 713.8v-1.2M489.0 713.8v-1.0M490.7 713.8v-1.0M494.0 713.8v-1.4M494.5 713.8v-1.2M496.6 713.8v-1.1M499.2 713.8v-2.8M500.1 713.8v-2.5M502.3 713.8v-1.1M502.8 713.8v-0.9M504.0 713.8v-1.2M504.7 713.8v-1.3M505.6 713.8v-1.1M508.5 713.8v-1.0M509.2 713.8v-3.0M510.1 713.8v-1.5M513.8 713.8v-1.5M514.5 713.8v-1.3M515.2 713.8v-1.2M516.1 713.8v-1.2M516.8 713.8v-3.1M517.3 713.8v-1.5M517.9 713.8v-1.8M519.2 713.8v-1.3M520.1 713.8v-1.6M520.5 713.8v-3.3M521.1 713.8v-1.6M522.3 713.8v-1.2M522.7 713.8v-0.9M523.2 713.8v-1.2M523.6 713.8v-1.3M525.3 713.8v-1.0M527.3 713.8v-1.2M529.3 713.8v-1.9M533.5 713.8v-2.3M535.1 713.8v-2.6M535.7 713.8v-1.3M536.5 713.8v-1.3M537.3 713.8v-1.9M538.6 713.8v-1.0M539.9 713.8v-1.2M540.5 713.8v-1.0M541.1 713.8v-1.3M542.3 713.8v-2.2M542.7 713.8v-2.2M543.4 713.8v-1.1M544.6 713.8v-1.3M545.9 713.8v-0.9M546.6 713.8v-1.3M547.1 713.8v-2.4M547.8 713.8v-1.1M548.7 713.8v-1.0M549.5 713.8v-1.0M552.9 713.8v-2.3M553.4 713.8v-0.9M554.9 713.8v-1.0M556.4 713.8v-1.4M557.2 713.8v-1.6M558.3 713.8v-1.0M559.1 713.8v-2.0M561.4 713.8v-3.3M564.0 713.8v-2.0M565.3 713.8v-2.3M567.0 713.8v-1.3M567.9 713.8v-1.1M570.3 713.8v-1.0M570.9 713.8v-2.9M572.2 713.8v-1.1M575.1 713.8v-2.2M576.6 713.8v-1.6M577.0 713.8v-1.7M580.5 713.8v-2.1M581.6 713.8v-1.1M582.4 713.8v-1.0M585.0 713.8v-1.6M586.2 713.8v-1.0M588.9 713.8v-2.5M590.6 713.8v-2.6M591.1 713.8v-2.9M592.7 713.8v-1.8M594.9 713.8v-1.0M600.2 713.8v-3.3M601.0 713.8v-1.5M602.7 713.8v-3.0M603.5 713.8v-3.1M604.3 713.8v-1.8M607.4 713.8v-2.8M608.1 713.8v-2.0M609.3 713.8v-1.8M609.7 713.8v-2.5M612.6 713.8v-2.2M613.5 713.8v-1.2M616.2 713.8v-1.4M616.8 713.8v-2.9M618.0 713.8v-2.2M620.5 713.8v-1.4M621.5 713.8v-2.5M622.3 713.8v-0.9M623.2 713.8v-2.5M624.6 713.8v-1.9M625.4 713.8v-2.2M626.1 713.8v-0.9M511.0 713.8v-4.0M550.0 713.8v-3.0" stroke="#2530a8" stroke-width="0.6" fill="none"/>
<rect x="505.3" y="638.8" width="6.3" height="81.2" fill="none" stroke="#f6b74a" stroke-width="0.55" stroke-dasharray="1.1 0.8"/>
<rect x="553.6" y="638.8" width="11.5" height="81.2" fill="none" stroke="#f6b74a" stroke-width="0.55" stroke-dasharray="1.1 0.8"/>
<rect x="580.9" y="638.8" width="5.9" height="81.2" fill="none" stroke="#f6b74a" stroke-width="0.55" stroke-dasharray="1.1 0.8"/>
<text x="203.20" y="748.10" font-size="12.4" text-anchor="middle" stroke="#000" stroke-width="0.24">GATA6</text>
<rect x="128.2" y="757.0" width="150.2" height="94.6" fill="#fff" stroke="#c9d5ec" stroke-width="0.8"/>
<line x1="128.7" y1="766.8" x2="277.9" y2="766.8" stroke="#f0f0f0" stroke-width="0.5"/>
<line x1="128.7" y1="794.5" x2="277.9" y2="794.5" stroke="#f0f0f0" stroke-width="0.5"/>
<line x1="128.7" y1="823.0" x2="277.9" y2="823.0" stroke="#f0f0f0" stroke-width="0.5"/>
<line x1="153.5" y1="759.5" x2="189.5" y2="759.5" stroke="#c77ad8" stroke-width="0.5"/>
<rect x="155.0" y="758.8" width="0.5" height="1.4" fill="#b04cd0"/>
<rect x="158.2" y="758.8" width="0.5" height="1.4" fill="#b04cd0"/>
<rect x="161.4" y="758.8" width="0.5" height="1.4" fill="#b04cd0"/>
<rect x="164.6" y="758.8" width="0.5" height="1.4" fill="#b04cd0"/>
<rect x="167.8" y="758.8" width="0.5" height="1.4" fill="#b04cd0"/>
<rect x="171.0" y="758.8" width="0.5" height="1.4" fill="#b04cd0"/>
<rect x="174.2" y="758.8" width="0.5" height="1.4" fill="#b04cd0"/>
<rect x="177.4" y="758.8" width="0.5" height="1.4" fill="#b04cd0"/>
<rect x="180.6" y="758.8" width="0.5" height="1.4" fill="#b04cd0"/>
<rect x="183.8" y="758.8" width="0.5" height="1.4" fill="#b04cd0"/>
<rect x="187.0" y="758.8" width="0.5" height="1.4" fill="#b04cd0"/>
<rect x="154" y="758.5" width="1.5" height="2.0" fill="#b040d0"/>
<rect x="157.5" y="758.5" width="1.3" height="2.0" fill="#b040d0"/>
<rect x="169" y="758.5" width="1.0" height="2.0" fill="#b040d0"/>
<rect x="188.5" y="758.5" width="1.0" height="2.0" fill="#b040d0"/>
<text x="154.7" y="766.4" font-size="4.6" text-anchor="middle" fill="#333" textLength="18.0" lengthAdjust="spacingAndGlyphs">GATA6-AS1</text>
<text x="173.4" y="766.4" font-size="4.6" text-anchor="middle" fill="#333" textLength="10.0" lengthAdjust="spacingAndGlyphs">GATA6</text>
<text x="129.7" y="769.9" font-size="2.6" fill="#555">[0-88.00]</text>
<path d="M134.3 786.1v-0.4M136.1 786.1v-0.6M139.5 786.1v-0.5M141.7 786.1v-0.5M142.7 786.1v-0.7M143.8 786.1v-0.8M145.8 786.1v-0.9M148.8 786.1v-0.7M152.8 786.1v-0.6M160.3 786.1v-0.6M164.3 786.1v-0.7M170.5 786.1v-0.7M172.3 786.1v-0.9M174.8 786.1v-0.4M180.3 786.1v-0.6M186.8 786.1v-0.8M191.5 786.1v-1.0M192.6 786.1v-0.9M197.7 786.1v-0.6M199.6 786.1v-0.4M203.0 786.1v-0.6M205.3 786.1v-0.8M207.3 786.1v-0.6M209.0 786.1v-0.8M211.9 786.1v-0.9M218.3 786.1v-0.7M219.1 786.1v-0.5M223.0 786.1v-0.4M227.2 786.1v-0.4M235.2 786.1v-0.7M241.0 786.1v-0.8M247.3 786.1v-0.6M252.9 786.1v-0.4M258.9 786.1v-0.6M260.0 786.1v-0.8M263.3 786.1v-0.7M264.7 786.1v-0.8M265.6 786.1v-0.5M267.6 786.1v-1.0M273.7 786.1v-0.9M133.9 786.1v-2.0M137.2 786.1v-1.5M138.1 786.1v-1.5M140.1 786.1v-5.2M140.9 786.1v-1.6M141.6 786.1v-4.3M142.9 786.1v-4.0M144.6 786.1v-1.4M145.9 786.1v-2.8M146.3 786.1v-1.4M146.8 786.1v-1.4M147.4 786.1v-4.5M149.0 786.1v-1.6M150.7 786.1v-1.6M151.7 786.1v-1.4M152.0 786.1v-5.2M153.1 786.1v-2.1M153.8 786.1v-4.3M154.7 786.1v-4.3M155.5 786.1v-1.5M157.4 786.1v-2.6M158.6 786.1v-3.9M161.0 786.1v-5.1M161.7 786.1v-1.6M165.8 786.1v-5.3M167.1 786.1v-4.5M167.9 786.1v-3.0M169.9 786.1v-2.4M171.7 786.1v-2.2M173.7 786.1v-3.3M174.9 786.1v-1.5M178.5 786.1v-2.5M179.3 786.1v-1.9M182.5 786.1v-2.2M183.1 786.1v-3.8M190.4 786.1v-3.7M191.9 786.1v-3.9M201.8 786.1v-4.5M202.6 786.1v-2.7M203.3 786.1v-2.9M206.0 786.1v-3.6M206.5 786.1v-1.3M207.3 786.1v-2.6M208.0 786.1v-3.3M208.4 786.1v-1.1M209.2 786.1v-2.5M209.9 786.1v-4.4M213.8 786.1v-1.2M214.3 786.1v-3.2M218.9 786.1v-1.3M224.5 786.1v-1.2M225.1 786.1v-2.8M230.0 786.1v-1.4M231.7 786.1v-4.1M233.3 786.1v-3.0M235.7 786.1v-2.9M238.3 786.1v-3.6M238.7 786.1v-2.8M240.4 786.1v-4.2M240.9 786.1v-1.5M241.3 786.1v-1.2M242.0 786.1v-3.2M242.3 786.1v-1.2M242.7 786.1v-2.1M243.1 786.1v-1.1M243.9 786.1v-1.8M244.7 786.1v-1.7M247.3 786.1v-4.0M247.8 786.1v-1.4M249.8 786.1v-2.8M251.9 786.1v-3.2M252.5 786.1v-3.5M255.0 786.1v-5.5M255.6 786.1v-4.3M260.1 786.1v-1.7M260.8 786.1v-3.6M261.9 786.1v-1.6M263.6 786.1v-4.1M264.2 786.1v-2.5M265.6 786.1v-2.2M266.1 786.1v-5.8M267.1 786.1v-4.4M267.6 786.1v-1.9M269.3 786.1v-5.5M271.9 786.1v-6.2M273.5 786.1v-4.3M275.6 786.1v-1.4M276.1 786.1v-1.2M176.0 786.1v-7.0M262.0 786.1v-8.0" stroke="#1f9e2a" stroke-width="0.6" fill="none"/>
<text x="129.7" y="799.0" font-size="2.6" fill="#555">[0-88.00]</text>
<path d="M140.9 815.2v-0.7M143.9 815.2v-0.6M145.2 815.2v-0.7M147.2 815.2v-0.7M150.6 815.2v-0.9M152.4 815.2v-0.7M157.4 815.2v-0.5M162.7 815.2v-0.5M165.7 815.2v-0.9M169.3 815.2v-0.8M171.2 815.2v-0.6M172.2 815.2v-0.9M179.5 815.2v-0.5M183.2 815.2v-0.9M184.7 815.2v-0.8M186.3 815.2v-1.0M192.0 815.2v-0.5M199.1 815.2v-0.6M200.6 815.2v-0.7M204.3 815.2v-0.9M206.1 815.2v-0.8M208.6 815.2v-0.9M210.7 815.2v-0.6M214.3 815.2v-0.5M219.3 815.2v-0.8M222.3 815.2v-0.5M225.4 815.2v-0.5M227.0 815.2v-0.8M232.6 815.2v-0.5M239.2 815.2v-0.6M240.5 815.2v-0.6M243.3 815.2v-0.5M245.4 815.2v-0.6M247.1 815.2v-0.7M248.0 815.2v-0.9M250.9 815.2v-0.9M252.5 815.2v-0.8M257.4 815.2v-0.5M262.4 815.2v-0.4M264.1 815.2v-1.0M135.9 815.2v-4.0M136.7 815.2v-2.3M140.2 815.2v-2.8M140.7 815.2v-1.7M141.5 815.2v-2.1M147.6 815.2v-1.9M148.9 815.2v-2.3M150.6 815.2v-3.0M151.2 815.2v-4.5M151.8 815.2v-2.1M153.8 815.2v-4.1M154.3 815.2v-4.3M154.8 815.2v-1.7M155.8 815.2v-4.0M157.3 815.2v-5.7M159.3 815.2v-2.2M159.9 815.2v-2.6M160.5 815.2v-5.1M161.8 815.2v-5.7M162.6 815.2v-2.0M165.6 815.2v-3.8M166.6 815.2v-4.1M167.9 815.2v-3.2M169.7 815.2v-5.8M171.1 815.2v-3.8M172.5 815.2v-1.7M172.9 815.2v-1.4M175.1 815.2v-4.0M175.9 815.2v-3.2M176.5 815.2v-1.4M177.0 815.2v-4.3M181.4 815.2v-2.7M182.0 815.2v-2.9M184.1 815.2v-2.1M184.6 815.2v-3.8M187.9 815.2v-1.2M189.2 815.2v-3.3M190.7 815.2v-4.9M191.2 815.2v-1.5M192.9 815.2v-1.5M193.6 815.2v-1.8M195.6 815.2v-1.4M199.2 815.2v-1.3M200.0 815.2v-1.3M209.0 815.2v-1.6M213.4 815.2v-1.2M213.9 815.2v-1.8M215.5 815.2v-2.6M219.1 815.2v-4.7M221.3 815.2v-1.4M222.5 815.2v-3.9M223.8 815.2v-1.3M224.6 815.2v-2.0M226.4 815.2v-4.8M229.5 815.2v-2.9M231.9 815.2v-2.1M238.0 815.2v-5.1M240.5 815.2v-4.9M241.8 815.2v-4.0M244.6 815.2v-3.0M246.4 815.2v-2.1M252.9 815.2v-1.4M255.2 815.2v-3.7M256.1 815.2v-4.2M257.3 815.2v-6.1M257.7 815.2v-1.7M259.6 815.2v-2.7M260.1 815.2v-2.3M260.4 815.2v-1.7M261.2 815.2v-3.0M261.9 815.2v-1.6M263.0 815.2v-3.3M263.5 815.2v-3.5M264.9 815.2v-1.9M266.2 815.2v-2.2M266.6 815.2v-2.1M267.6 815.2v-2.2M268.7 815.2v-1.9M269.4 815.2v-4.7M271.0 815.2v-2.3M273.7 815.2v-1.8M274.3 815.2v-3.0M275.7 815.2v-4.2M182.0 815.2v-12.0M158.0 815.2v-10.0M262.0 815.2v-12.0" stroke="#e02020" stroke-width="0.6" fill="none"/>
<rect x="158.7" y="817.0" width="0.7" height="1.6" fill="#4a54c0"/>
<text x="159" y="824.2" font-size="5.0" text-anchor="middle" fill="#111" textLength="6.8" lengthAdjust="spacingAndGlyphs">4820</text>
<rect x="182.7" y="817.0" width="0.7" height="1.6" fill="#4a54c0"/>
<text x="183" y="824.2" font-size="5.0" text-anchor="middle" fill="#111" textLength="6.8" lengthAdjust="spacingAndGlyphs">4822</text>
<rect x="261.6" y="817.0" width="0.7" height="1.6" fill="#4a54c0"/>
<text x="262" y="824.2" font-size="5.0" text-anchor="middle" fill="#111" textLength="6.8" lengthAdjust="spacingAndGlyphs">4823</text>
<text x="129.7" y="826.9" font-size="2.6" fill="#555">[0-88.00]</text>
<path d="M133.0 843.1v-1.0M137.4 843.1v-0.8M142.0 843.1v-0.7M144.1 843.1v-0.7M146.5 843.1v-0.7M151.7 843.1v-1.0M153.3 843.1v-0.6M155.6 843.1v-0.8M160.0 843.1v-0.8M161.5 843.1v-0.6M163.8 843.1v-0.7M169.3 843.1v-0.5M172.1 843.1v-0.7M174.4 843.1v-0.7M176.1 843.1v-1.0M177.1 843.1v-0.5M180.2 843.1v-0.7M182.2 843.1v-0.6M190.2 843.1v-0.8M192.4 843.1v-0.8M197.6 843.1v-0.7M205.5 843.1v-0.8M208.8 843.1v-1.0M218.2 843.1v-0.5M220.2 843.1v-0.7M226.0 843.1v-0.9M226.9 843.1v-0.7M234.0 843.1v-0.5M247.1 843.1v-0.8M248.6 843.1v-0.7M250.6 843.1v-0.7M251.7 843.1v-0.5M252.5 843.1v-1.0M255.2 843.1v-0.5M259.9 843.1v-1.0M262.4 843.1v-0.8M269.9 843.1v-0.8M274.8 843.1v-0.7M131.0 843.1v-1.6M131.4 843.1v-1.6M135.7 843.1v-2.1M137.7 843.1v-1.7M138.5 843.1v-3.5M142.9 843.1v-1.7M143.7 843.1v-2.5M145.3 843.1v-2.5M146.4 843.1v-3.4M149.3 843.1v-4.4M149.9 843.1v-5.4M153.0 843.1v-1.7M154.2 843.1v-4.9M155.6 843.1v-2.0M156.1 843.1v-1.4M157.9 843.1v-2.9M158.6 843.1v-1.8M159.1 843.1v-2.5M159.5 843.1v-1.7M159.8 843.1v-4.4M162.1 843.1v-3.7M162.8 843.1v-1.7M163.3 843.1v-2.1M165.2 843.1v-2.8M166.5 843.1v-2.2M167.3 843.1v-1.9M168.7 843.1v-1.5M170.5 843.1v-1.4M171.0 843.1v-1.7M171.6 843.1v-1.7M172.3 843.1v-4.2M173.4 843.1v-3.9M174.6 843.1v-5.9M175.5 843.1v-2.3M183.2 843.1v-1.5M187.0 843.1v-1.8M189.8 843.1v-1.9M193.9 843.1v-1.3M194.8 843.1v-4.2M196.0 843.1v-2.6M198.3 843.1v-4.6M199.1 843.1v-2.8M201.1 843.1v-1.4M202.8 843.1v-1.3M203.9 843.1v-4.2M204.7 843.1v-1.3M205.9 843.1v-3.8M207.0 843.1v-2.8M214.9 843.1v-5.1M215.6 843.1v-1.6M220.0 843.1v-2.5M220.8 843.1v-1.3M229.4 843.1v-1.7M230.9 843.1v-1.6M231.8 843.1v-1.5M232.6 843.1v-2.6M238.4 843.1v-5.1M241.5 843.1v-1.4M250.1 843.1v-2.0M252.0 843.1v-3.5M253.8 843.1v-3.7M255.1 843.1v-3.1M256.9 843.1v-2.4M257.6 843.1v-2.8M258.9 843.1v-6.4M259.5 843.1v-3.6M261.3 843.1v-6.5M261.8 843.1v-5.8M262.5 843.1v-6.0M263.5 843.1v-3.6M264.6 843.1v-1.8M265.4 843.1v-4.0M267.0 843.1v-3.0M269.5 843.1v-1.5M271.0 843.1v-6.9M271.5 843.1v-2.8M156.0 843.1v-11.0M160.0 843.1v-8.0M225.0 843.1v-5.0" stroke="#2530a8" stroke-width="0.6" fill="none"/>
<rect x="156.7" y="844.9" width="0.7" height="1.6" fill="#4a54c0"/>
<text x="157" y="852.1" font-size="5.0" text-anchor="middle" fill="#111" textLength="6.8" lengthAdjust="spacingAndGlyphs">4192</text>
<rect x="178.8" y="767.2" width="7.0" height="81.2" fill="none" stroke="#f6b74a" stroke-width="0.55" stroke-dasharray="1.1 0.8"/>
<rect x="260.2" y="767.2" width="6.7" height="81.2" fill="none" stroke="#f6b74a" stroke-width="0.55" stroke-dasharray="1.1 0.8"/>
<text x="378.50" y="748.20" font-size="12.4" text-anchor="middle" stroke="#000" stroke-width="0.24">FOXF1</text>
<rect x="302.6" y="757.1" width="149.8" height="94.5" fill="#fff" stroke="#c9d5ec" stroke-width="0.8"/>
<line x1="303.1" y1="766.9" x2="451.9" y2="766.9" stroke="#f0f0f0" stroke-width="0.5"/>
<line x1="303.1" y1="794.6" x2="451.9" y2="794.6" stroke="#f0f0f0" stroke-width="0.5"/>
<line x1="303.1" y1="823.1" x2="451.9" y2="823.1" stroke="#f0f0f0" stroke-width="0.5"/>
<line x1="303" y1="759.6" x2="345" y2="759.6" stroke="#c77ad8" stroke-width="0.5"/>
<rect x="304.5" y="758.9" width="0.5" height="1.4" fill="#b04cd0"/>
<rect x="307.7" y="758.9" width="0.5" height="1.4" fill="#b04cd0"/>
<rect x="310.9" y="758.9" width="0.5" height="1.4" fill="#b04cd0"/>
<rect x="314.1" y="758.9" width="0.5" height="1.4" fill="#b04cd0"/>
<rect x="317.3" y="758.9" width="0.5" height="1.4" fill="#b04cd0"/>
<rect x="320.5" y="758.9" width="0.5" height="1.4" fill="#b04cd0"/>
<rect x="323.7" y="758.9" width="0.5" height="1.4" fill="#b04cd0"/>
<rect x="326.9" y="758.9" width="0.5" height="1.4" fill="#b04cd0"/>
<rect x="330.1" y="758.9" width="0.5" height="1.4" fill="#b04cd0"/>
<rect x="333.3" y="758.9" width="0.5" height="1.4" fill="#b04cd0"/>
<rect x="336.5" y="758.9" width="0.5" height="1.4" fill="#b04cd0"/>
<rect x="339.7" y="758.9" width="0.5" height="1.4" fill="#b04cd0"/>
<rect x="342.9" y="758.9" width="0.5" height="1.4" fill="#b04cd0"/>
<line x1="362" y1="759.6" x2="420" y2="759.6" stroke="#c77ad8" stroke-width="0.5"/>
<rect x="363.5" y="758.9" width="0.5" height="1.4" fill="#b04cd0"/>
<rect x="366.7" y="758.9" width="0.5" height="1.4" fill="#b04cd0"/>
<rect x="369.9" y="758.9" width="0.5" height="1.4" fill="#b04cd0"/>
<rect x="373.1" y="758.9" width="0.5" height="1.4" fill="#b04cd0"/>
<rect x="376.3" y="758.9" width="0.5" height="1.4" fill="#b04cd0"/>
<rect x="379.5" y="758.9" width="0.5" height="1.4" fill="#b04cd0"/>
<rect x="382.7" y="758.9" width="0.5" height="1.4" fill="#b04cd0"/>
<rect x="385.9" y="758.9" width="0.5" height="1.4" fill="#b04cd0"/>
<rect x="389.1" y="758.9" width="0.5" height="1.4" fill="#b04cd0"/>
<rect x="392.3" y="758.9" width="0.5" height="1.4" fill="#b04cd0"/>
<rect x="395.5" y="758.9" width="0.5" height="1.4" fill="#b04cd0"/>
<rect x="398.7" y="758.9" width="0.5" height="1.4" fill="#b04cd0"/>
<rect x="401.9" y="758.9" width="0.5" height="1.4" fill="#b04cd0"/>
<rect x="405.1" y="758.9" width="0.5" height="1.4" fill="#b04cd0"/>
<rect x="408.3" y="758.9" width="0.5" height="1.4" fill="#b04cd0"/>
<rect x="411.5" y="758.9" width="0.5" height="1.4" fill="#b04cd0"/>
<rect x="414.7" y="758.9" width="0.5" height="1.4" fill="#b04cd0"/>
<rect x="417.9" y="758.9" width="0.5" height="1.4" fill="#b04cd0"/>
<rect x="305" y="758.6" width="1.0" height="2.0" fill="#b040d0"/>
<rect x="318.3" y="758.6" width="1.2" height="2.0" fill="#b040d0"/>
<rect x="342.5" y="758.6" width="2.0" height="2.0" fill="#b040d0"/>
<rect x="388" y="758.6" width="1.0" height="2.0" fill="#b040d0"/>
<rect x="401" y="758.6" width="1.5" height="2.0" fill="#b040d0"/>
<rect x="412" y="758.6" width="5.0" height="2.0" fill="#b040d0"/>
<text x="322" y="766.5" font-size="4.6" text-anchor="middle" fill="#333" textLength="12.0" lengthAdjust="spacingAndGlyphs">FENDRR</text>
<text x="343.9" y="766.5" font-size="4.6" text-anchor="middle" fill="#333" textLength="10.0" lengthAdjust="spacingAndGlyphs">FOXF1</text>
<text x="374.6" y="766.5" font-size="4.6" text-anchor="middle" fill="#333" textLength="12.0" lengthAdjust="spacingAndGlyphs">MTHFSD</text>
<text x="399" y="766.5" font-size="4.6" text-anchor="middle" fill="#333" textLength="18.0" lengthAdjust="spacingAndGlyphs">FOXC2-AS1</text>
<text x="304.1" y="770.0" font-size="2.6" fill="#555">[0-88.00]</text>
<path d="M308.6 786.2v-0.8M310.7 786.2v-0.5M313.1 786.2v-0.8M318.2 786.2v-0.8M320.0 786.2v-0.7M321.7 786.2v-0.5M323.5 786.2v-0.8M326.9 786.2v-1.0M336.8 786.2v-0.7M337.7 786.2v-0.5M339.7 786.2v-0.4M341.9 786.2v-0.4M360.2 786.2v-0.7M363.9 786.2v-0.7M368.6 786.2v-0.8M369.7 786.2v-0.6M370.8 786.2v-0.5M372.0 786.2v-0.9M372.9 786.2v-0.4M374.6 786.2v-0.7M375.8 786.2v-0.7M378.5 786.2v-0.7M382.4 786.2v-0.6M386.8 786.2v-0.9M391.5 786.2v-0.6M393.8 786.2v-0.5M398.1 786.2v-0.7M400.8 786.2v-0.9M403.0 786.2v-0.5M404.3 786.2v-0.7M409.6 786.2v-0.7M414.2 786.2v-0.5M419.6 786.2v-0.4M421.9 786.2v-0.8M422.7 786.2v-0.8M423.9 786.2v-0.9M425.1 786.2v-0.8M428.5 786.2v-0.8M429.7 786.2v-0.8M436.5 786.2v-0.7M440.0 786.2v-0.9M441.6 786.2v-0.7M445.1 786.2v-0.6M449.6 786.2v-1.0M305.7 786.2v-1.0M308.6 786.2v-1.7M309.4 786.2v-2.3M310.0 786.2v-1.1M310.6 786.2v-3.0M311.1 786.2v-2.7M312.1 786.2v-1.4M312.9 786.2v-1.2M314.8 786.2v-1.0M315.2 786.2v-1.9M317.2 786.2v-1.1M319.0 786.2v-1.1M319.7 786.2v-1.7M320.6 786.2v-1.6M322.8 786.2v-1.7M323.7 786.2v-1.2M324.5 786.2v-2.0M325.3 786.2v-2.5M326.0 786.2v-1.0M328.0 786.2v-1.3M328.8 786.2v-1.1M329.2 786.2v-1.7M331.3 786.2v-1.0M332.3 786.2v-1.3M332.9 786.2v-1.0M334.1 786.2v-3.4M334.6 786.2v-1.0M336.3 786.2v-1.4M336.8 786.2v-1.0M338.4 786.2v-2.0M339.8 786.2v-1.1M341.4 786.2v-2.0M344.6 786.2v-3.1M347.8 786.2v-2.2M348.6 786.2v-2.6M349.3 786.2v-1.5M350.1 786.2v-1.0M350.8 786.2v-2.9M351.6 786.2v-1.3M353.6 786.2v-2.3M354.3 786.2v-1.4M355.8 786.2v-1.4M356.2 786.2v-1.0M358.0 786.2v-1.3M358.8 786.2v-1.1M359.4 786.2v-1.4M360.6 786.2v-2.6M361.0 786.2v-1.0M361.8 786.2v-1.9M364.5 786.2v-3.4M366.1 786.2v-1.6M366.7 786.2v-2.8M368.2 786.2v-1.3M368.9 786.2v-1.2M370.8 786.2v-1.4M372.3 786.2v-3.1M375.1 786.2v-2.2M377.2 786.2v-1.9M380.4 786.2v-2.0M380.9 786.2v-2.0M381.8 786.2v-1.1M382.5 786.2v-2.1M383.2 786.2v-1.2M385.7 786.2v-3.4M386.5 786.2v-1.0M387.0 786.2v-1.0M388.2 786.2v-1.2M389.3 786.2v-1.0M390.6 786.2v-2.5M392.0 786.2v-1.6M395.0 786.2v-1.0M395.6 786.2v-1.1M397.7 786.2v-1.4M399.2 786.2v-2.5M399.6 786.2v-1.4M400.7 786.2v-1.9M401.8 786.2v-1.2M402.3 786.2v-1.0M403.1 786.2v-2.3M403.7 786.2v-1.3M404.6 786.2v-1.7M405.1 786.2v-1.0M406.0 786.2v-2.3M408.6 786.2v-3.1M412.0 786.2v-2.5M413.0 786.2v-2.4M414.0 786.2v-1.6M416.9 786.2v-1.5M418.0 786.2v-3.0M419.7 786.2v-2.5M425.3 786.2v-1.5M425.8 786.2v-1.0M426.6 786.2v-1.8M427.0 786.2v-2.5M429.1 786.2v-1.0M431.5 786.2v-1.1M432.1 786.2v-1.8M434.9 786.2v-1.3M435.6 786.2v-1.0M436.5 786.2v-1.1M438.0 786.2v-1.0M439.0 786.2v-2.7M440.1 786.2v-1.1M442.0 786.2v-2.7M442.8 786.2v-1.0M443.3 786.2v-1.8M444.4 786.2v-3.1M445.3 786.2v-1.7M447.1 786.2v-2.7M447.7 786.2v-1.0M448.2 786.2v-2.6M449.4 786.2v-1.6M449.8 786.2v-1.4M439.0 786.2v-6.0M351.0 786.2v-5.0" stroke="#1f9e2a" stroke-width="0.6" fill="none"/>
<rect x="350.6" y="788.0" width="0.7" height="1.6" fill="#4a54c0"/>
<text x="351" y="795.2" font-size="5.0" text-anchor="middle" fill="#111" textLength="6.8" lengthAdjust="spacingAndGlyphs">3023</text>
<rect x="404.6" y="788.0" width="0.7" height="1.6" fill="#4a54c0"/>
<text x="405" y="795.2" font-size="5.0" text-anchor="middle" fill="#111" textLength="6.8" lengthAdjust="spacingAndGlyphs">3024</text>
<rect x="438.6" y="788.0" width="0.7" height="1.6" fill="#4a54c0"/>
<text x="439" y="795.2" font-size="5.0" text-anchor="middle" fill="#111" textLength="6.8" lengthAdjust="spacingAndGlyphs">3025</text>
<text x="304.1" y="799.1" font-size="2.6" fill="#555">[0-88.00]</text>
<path d="M306.3 815.3v-0.5M308.5 815.3v-0.9M311.1 815.3v-0.5M315.7 815.3v-0.5M318.2 815.3v-0.9M324.2 815.3v-0.8M326.7 815.3v-0.4M328.4 815.3v-0.5M330.9 815.3v-0.5M332.4 815.3v-0.5M337.2 815.3v-0.9M341.3 815.3v-0.8M343.6 815.3v-0.7M351.7 815.3v-0.5M354.2 815.3v-0.9M355.6 815.3v-0.7M358.0 815.3v-0.5M366.2 815.3v-0.8M367.4 815.3v-0.6M369.1 815.3v-0.6M371.1 815.3v-0.9M372.7 815.3v-0.6M377.1 815.3v-0.6M382.4 815.3v-0.6M386.5 815.3v-0.7M403.2 815.3v-0.5M408.8 815.3v-0.7M409.7 815.3v-0.5M416.1 815.3v-0.9M419.6 815.3v-0.9M424.5 815.3v-0.9M426.4 815.3v-0.8M428.1 815.3v-0.7M432.0 815.3v-0.6M435.4 815.3v-0.6M438.7 815.3v-0.4M442.4 815.3v-1.0M443.4 815.3v-0.7M447.5 815.3v-0.5M448.4 815.3v-0.5M304.6 815.3v-1.1M305.4 815.3v-3.5M306.9 815.3v-3.1M309.0 815.3v-3.8M309.4 815.3v-1.8M311.1 815.3v-2.9M314.0 815.3v-2.4M315.3 815.3v-1.1M315.9 815.3v-2.8M316.4 815.3v-1.1M317.9 815.3v-2.4M321.3 815.3v-1.6M322.7 815.3v-1.3M323.6 815.3v-1.9M324.8 815.3v-1.9M325.3 815.3v-2.3M327.1 815.3v-1.7M328.6 815.3v-2.2M329.5 815.3v-2.1M334.1 815.3v-2.1M334.9 815.3v-1.4M337.2 815.3v-3.3M338.7 815.3v-3.7M342.1 815.3v-1.3M342.6 815.3v-2.1M344.0 815.3v-1.3M344.9 815.3v-1.1M345.9 815.3v-2.1M349.5 815.3v-1.4M350.2 815.3v-3.5M350.8 815.3v-2.0M351.2 815.3v-2.0M351.7 815.3v-4.1M352.4 815.3v-1.9M354.9 815.3v-2.5M355.4 815.3v-1.4M359.7 815.3v-3.4M360.1 815.3v-4.2M361.0 815.3v-1.1M362.2 815.3v-1.3M363.4 815.3v-4.2M364.6 815.3v-1.8M365.4 815.3v-1.1M371.2 815.3v-2.5M371.8 815.3v-3.9M372.3 815.3v-1.3M374.0 815.3v-3.5M376.1 815.3v-1.1M376.8 815.3v-2.2M377.6 815.3v-1.2M378.0 815.3v-2.6M379.9 815.3v-1.4M380.3 815.3v-1.1M381.6 815.3v-4.2M382.0 815.3v-2.6M385.0 815.3v-2.9M387.1 815.3v-3.0M387.9 815.3v-2.8M388.4 815.3v-3.7M390.5 815.3v-2.1M392.6 815.3v-1.4M393.8 815.3v-4.2M394.2 815.3v-2.1M395.1 815.3v-1.1M396.2 815.3v-2.4M397.6 815.3v-2.6M398.0 815.3v-3.3M398.8 815.3v-2.1M401.2 815.3v-1.3M402.3 815.3v-1.8M403.0 815.3v-2.3M403.7 815.3v-1.5M406.3 815.3v-1.1M407.6 815.3v-1.3M408.1 815.3v-3.6M409.2 815.3v-1.8M410.7 815.3v-3.8M415.2 815.3v-1.5M415.7 815.3v-4.3M419.4 815.3v-1.5M420.2 815.3v-2.1M421.0 815.3v-2.0M423.7 815.3v-1.1M424.4 815.3v-3.7M426.0 815.3v-4.1M426.7 815.3v-3.3M428.4 815.3v-3.8M429.8 815.3v-1.6M431.4 815.3v-3.8M432.5 815.3v-2.4M433.5 815.3v-3.8M434.3 815.3v-1.3M438.3 815.3v-3.3M440.3 815.3v-1.7M441.7 815.3v-1.8M442.1 815.3v-1.1M447.4 815.3v-1.2M448.2 815.3v-2.6M449.0 815.3v-3.7M391.0 815.3v-14.0M341.0 815.3v-7.0M440.0 815.3v-5.0" stroke="#e02020" stroke-width="0.6" fill="none"/>
<rect x="339.6" y="817.1" width="0.7" height="1.6" fill="#4a54c0"/>
<text x="340" y="824.3" font-size="5.0" text-anchor="middle" fill="#111" textLength="6.8" lengthAdjust="spacingAndGlyphs">4375</text>
<rect x="390.6" y="817.1" width="0.7" height="1.6" fill="#4a54c0"/>
<text x="391" y="824.3" font-size="5.0" text-anchor="middle" fill="#111" textLength="6.8" lengthAdjust="spacingAndGlyphs">4376</text>
<rect x="404.6" y="817.1" width="0.7" height="1.6" fill="#4a54c0"/>
<text x="405" y="824.3" font-size="5.0" text-anchor="middle" fill="#111" textLength="6.8" lengthAdjust="spacingAndGlyphs">4377</text>
<rect x="440.6" y="817.1" width="0.7" height="1.6" fill="#4a54c0"/>
<text x="441" y="824.3" font-size="5.0" text-anchor="middle" fill="#111" textLength="6.8" lengthAdjust="spacingAndGlyphs">4378</text>
<text x="304.1" y="827.0" font-size="2.6" fill="#555">[0-88.00]</text>
<path d="M305.1 843.2v-0.7M307.0 843.2v-0.6M311.0 843.2v-0.7M312.0 843.2v-0.5M317.4 843.2v-0.6M318.9 843.2v-0.8M319.8 843.2v-0.7M326.8 843.2v-0.5M329.0 843.2v-0.8M331.0 843.2v-0.5M332.6 843.2v-0.8M336.5 843.2v-0.6M339.9 843.2v-0.4M341.4 843.2v-0.9M343.7 843.2v-0.7M345.5 843.2v-0.9M348.7 843.2v-0.7M353.0 843.2v-0.6M355.7 843.2v-0.5M360.8 843.2v-0.9M364.2 843.2v-0.5M366.2 843.2v-0.9M367.5 843.2v-0.5M369.7 843.2v-0.6M371.9 843.2v-0.6M375.9 843.2v-0.5M379.1 843.2v-1.0M380.8 843.2v-0.6M387.2 843.2v-0.7M396.4 843.2v-0.5M399.3 843.2v-0.8M404.7 843.2v-0.7M407.1 843.2v-0.9M409.9 843.2v-0.6M417.5 843.2v-0.6M422.5 843.2v-0.5M424.3 843.2v-0.9M428.7 843.2v-0.6M430.7 843.2v-0.9M432.6 843.2v-0.5M443.1 843.2v-0.9M444.4 843.2v-0.9M445.7 843.2v-0.7M447.8 843.2v-0.5M305.9 843.2v-3.9M306.3 843.2v-4.2M311.9 843.2v-4.0M315.4 843.2v-1.2M317.0 843.2v-1.4M317.4 843.2v-3.3M319.3 843.2v-3.2M321.5 843.2v-2.7M322.1 843.2v-2.2M323.1 843.2v-3.6M323.9 843.2v-1.2M324.4 843.2v-4.3M325.1 843.2v-4.8M326.2 843.2v-1.5M328.8 843.2v-2.5M329.2 843.2v-3.5M332.1 843.2v-3.1M334.1 843.2v-2.5M334.6 843.2v-2.7M335.5 843.2v-1.2M336.0 843.2v-5.0M336.5 843.2v-4.1M339.0 843.2v-2.4M342.6 843.2v-3.8M343.7 843.2v-1.6M344.3 843.2v-3.0M345.3 843.2v-2.5M346.1 843.2v-4.2M346.5 843.2v-1.9M348.0 843.2v-3.8M348.4 843.2v-3.0M348.9 843.2v-1.2M349.3 843.2v-4.8M349.7 843.2v-2.3M350.5 843.2v-3.8M352.2 843.2v-3.1M353.5 843.2v-4.1M354.2 843.2v-1.3M358.0 843.2v-2.0M358.7 843.2v-1.2M359.5 843.2v-3.6M360.2 843.2v-3.6M360.9 843.2v-3.4M364.7 843.2v-1.3M365.5 843.2v-3.5M367.6 843.2v-1.2M368.1 843.2v-2.6M368.6 843.2v-4.5M371.7 843.2v-3.4M374.2 843.2v-1.5M375.7 843.2v-2.0M376.1 843.2v-1.5M377.0 843.2v-1.9M378.3 843.2v-4.8M378.9 843.2v-3.7M380.9 843.2v-3.8M381.4 843.2v-4.4M382.7 843.2v-1.2M384.2 843.2v-2.3M385.0 843.2v-2.5M385.5 843.2v-3.0M386.2 843.2v-1.2M386.6 843.2v-1.3M388.4 843.2v-2.5M389.8 843.2v-2.1M390.9 843.2v-4.9M391.7 843.2v-4.5M395.8 843.2v-1.7M396.4 843.2v-1.4M397.7 843.2v-3.3M398.5 843.2v-2.9M400.0 843.2v-2.4M400.8 843.2v-1.7M401.7 843.2v-4.2M402.1 843.2v-4.5M403.3 843.2v-1.3M406.2 843.2v-2.5M408.0 843.2v-2.0M409.3 843.2v-2.6M409.7 843.2v-2.3M410.4 843.2v-3.4M411.8 843.2v-3.8M413.6 843.2v-4.6M414.0 843.2v-5.0M415.4 843.2v-1.2M415.9 843.2v-1.3M418.0 843.2v-1.2M418.8 843.2v-2.0M420.6 843.2v-1.5M421.1 843.2v-1.3M421.7 843.2v-4.9M422.1 843.2v-3.8M423.6 843.2v-4.2M424.3 843.2v-2.1M425.6 843.2v-3.6M426.6 843.2v-1.4M428.7 843.2v-4.3M429.4 843.2v-3.5M430.0 843.2v-1.6M430.7 843.2v-3.6M431.4 843.2v-4.7M431.7 843.2v-2.0M433.6 843.2v-1.2M435.2 843.2v-2.4M435.7 843.2v-4.3M436.4 843.2v-1.3M436.8 843.2v-1.5M439.5 843.2v-2.6M440.3 843.2v-2.2M441.7 843.2v-3.1M442.9 843.2v-2.8M443.5 843.2v-2.5M444.3 843.2v-4.1M444.7 843.2v-1.5M446.1 843.2v-2.7M446.6 843.2v-3.4M447.0 843.2v-2.5M447.7 843.2v-3.3M449.7 843.2v-2.9M390.0 843.2v-9.0M419.0 843.2v-8.0M343.0 843.2v-6.0" stroke="#2530a8" stroke-width="0.6" fill="none"/>
<rect x="342.6" y="845.0" width="0.7" height="1.6" fill="#4a54c0"/>
<text x="343" y="852.2" font-size="5.0" text-anchor="middle" fill="#111" textLength="6.8" lengthAdjust="spacingAndGlyphs">3646</text>
<rect x="362.6" y="845.0" width="0.7" height="1.6" fill="#4a54c0"/>
<text x="363" y="852.2" font-size="5.0" text-anchor="middle" fill="#111" textLength="6.8" lengthAdjust="spacingAndGlyphs">3648</text>
<rect x="389.6" y="845.0" width="0.7" height="1.6" fill="#4a54c0"/>
<text x="390" y="852.2" font-size="5.0" text-anchor="middle" fill="#111" textLength="6.8" lengthAdjust="spacingAndGlyphs">3649</text>
<rect x="418.6" y="845.0" width="0.7" height="1.6" fill="#4a54c0"/>
<text x="419" y="852.2" font-size="5.0" text-anchor="middle" fill="#111" textLength="6.8" lengthAdjust="spacingAndGlyphs">3650</text>
<rect x="338.1" y="767.3" width="6.5" height="81.2" fill="none" stroke="#f6b74a" stroke-width="0.55" stroke-dasharray="1.1 0.8"/>
<rect x="389.3" y="767.3" width="6.3" height="81.2" fill="none" stroke="#f6b74a" stroke-width="0.55" stroke-dasharray="1.1 0.8"/>
<text x="551.30" y="748.40" font-size="12.4" text-anchor="middle" stroke="#000" stroke-width="0.24">GLI2</text>
<rect x="478.1" y="757.3" width="150.4" height="94.3" fill="#fff" stroke="#c9d5ec" stroke-width="0.8"/>
<line x1="478.6" y1="767.1" x2="628.0" y2="767.1" stroke="#f0f0f0" stroke-width="0.5"/>
<line x1="478.6" y1="794.8" x2="628.0" y2="794.8" stroke="#f0f0f0" stroke-width="0.5"/>
<line x1="478.6" y1="823.3" x2="628.0" y2="823.3" stroke="#f0f0f0" stroke-width="0.5"/>
<line x1="497" y1="759.8" x2="606" y2="759.8" stroke="#c77ad8" stroke-width="0.5"/>
<rect x="498.5" y="759.1" width="0.5" height="1.4" fill="#b04cd0"/>
<rect x="501.7" y="759.1" width="0.5" height="1.4" fill="#b04cd0"/>
<rect x="504.9" y="759.1" width="0.5" height="1.4" fill="#b04cd0"/>
<rect x="508.1" y="759.1" width="0.5" height="1.4" fill="#b04cd0"/>
<rect x="511.3" y="759.1" width="0.5" height="1.4" fill="#b04cd0"/>
<rect x="514.5" y="759.1" width="0.5" height="1.4" fill="#b04cd0"/>
<rect x="517.7" y="759.1" width="0.5" height="1.4" fill="#b04cd0"/>
<rect x="520.9" y="759.1" width="0.5" height="1.4" fill="#b04cd0"/>
<rect x="524.1" y="759.1" width="0.5" height="1.4" fill="#b04cd0"/>
<rect x="527.3" y="759.1" width="0.5" height="1.4" fill="#b04cd0"/>
<rect x="530.5" y="759.1" width="0.5" height="1.4" fill="#b04cd0"/>
<rect x="533.7" y="759.1" width="0.5" height="1.4" fill="#b04cd0"/>
<rect x="536.9" y="759.1" width="0.5" height="1.4" fill="#b04cd0"/>
<rect x="540.1" y="759.1" width="0.5" height="1.4" fill="#b04cd0"/>
<rect x="543.3" y="759.1" width="0.5" height="1.4" fill="#b04cd0"/>
<rect x="546.5" y="759.1" width="0.5" height="1.4" fill="#b04cd0"/>
<rect x="549.7" y="759.1" width="0.5" height="1.4" fill="#b04cd0"/>
<rect x="552.9" y="759.1" width="0.5" height="1.4" fill="#b04cd0"/>
<rect x="556.1" y="759.1" width="0.5" height="1.4" fill="#b04cd0"/>
<rect x="559.3" y="759.1" width="0.5" height="1.4" fill="#b04cd0"/>
<rect x="562.5" y="759.1" width="0.5" height="1.4" fill="#b04cd0"/>
<rect x="565.7" y="759.1" width="0.5" height="1.4" fill="#b04cd0"/>
<rect x="568.9" y="759.1" width="0.5" height="1.4" fill="#b04cd0"/>
<rect x="572.1" y="759.1" width="0.5" height="1.4" fill="#b04cd0"/>
<rect x="575.3" y="759.1" width="0.5" height="1.4" fill="#b04cd0"/>
<rect x="578.5" y="759.1" width="0.5" height="1.4" fill="#b04cd0"/>
<rect x="581.7" y="759.1" width="0.5" height="1.4" fill="#b04cd0"/>
<rect x="584.9" y="759.1" width="0.5" height="1.4" fill="#b04cd0"/>
<rect x="588.1" y="759.1" width="0.5" height="1.4" fill="#b04cd0"/>
<rect x="591.3" y="759.1" width="0.5" height="1.4" fill="#b04cd0"/>
<rect x="594.5" y="759.1" width="0.5" height="1.4" fill="#b04cd0"/>
<rect x="597.7" y="759.1" width="0.5" height="1.4" fill="#b04cd0"/>
<rect x="600.9" y="759.1" width="0.5" height="1.4" fill="#b04cd0"/>
<rect x="604.1" y="759.1" width="0.5" height="1.4" fill="#b04cd0"/>
<rect x="523" y="758.8" width="1.0" height="2.0" fill="#b040d0"/>
<rect x="591" y="758.8" width="2.0" height="2.0" fill="#b040d0"/>
<rect x="596" y="758.8" width="3.0" height="2.0" fill="#b040d0"/>
<rect x="602" y="758.8" width="4.0" height="2.0" fill="#b040d0"/>
<text x="553" y="766.7" font-size="4.6" text-anchor="middle" fill="#333" textLength="8.0" lengthAdjust="spacingAndGlyphs">GLI2</text>
<text x="565" y="766.7" font-size="4.6" text-anchor="middle" fill="#333" textLength="8.0" lengthAdjust="spacingAndGlyphs">GLI2</text>
<text x="479.6" y="770.2" font-size="2.6" fill="#555">[0-88.00]</text>
<path d="M484.4 786.4v-0.9M485.8 786.4v-0.6M487.9 786.4v-0.8M489.3 786.4v-0.7M509.6 786.4v-0.7M520.6 786.4v-0.6M521.8 786.4v-0.5M527.5 786.4v-0.5M537.2 786.4v-1.0M538.7 786.4v-0.9M543.5 786.4v-0.4M545.8 786.4v-0.5M549.7 786.4v-0.8M556.4 786.4v-0.5M560.2 786.4v-0.8M565.9 786.4v-0.5M567.8 786.4v-0.9M569.0 786.4v-0.5M575.1 786.4v-1.0M577.0 786.4v-0.9M584.4 786.4v-0.5M588.7 786.4v-0.7M592.3 786.4v-0.6M596.6 786.4v-0.8M603.5 786.4v-0.7M616.1 786.4v-0.5M617.5 786.4v-0.9M621.2 786.4v-0.7M622.7 786.4v-0.6M624.9 786.4v-0.4M483.2 786.4v-2.2M484.1 786.4v-2.2M484.7 786.4v-1.0M487.7 786.4v-0.8M488.5 786.4v-0.8M489.1 786.4v-0.8M490.0 786.4v-1.7M491.4 786.4v-1.0M499.4 786.4v-1.0M499.9 786.4v-1.8M502.1 786.4v-1.3M502.8 786.4v-0.9M503.4 786.4v-0.8M505.4 786.4v-0.8M508.1 786.4v-1.3M509.4 786.4v-0.8M509.9 786.4v-0.8M513.0 786.4v-1.3M515.9 786.4v-1.0M519.3 786.4v-1.4M524.4 786.4v-1.0M524.8 786.4v-1.1M526.1 786.4v-1.0M526.6 786.4v-0.8M532.3 786.4v-1.7M534.6 786.4v-1.5M536.4 786.4v-1.6M540.6 786.4v-1.1M542.9 786.4v-1.2M545.8 786.4v-0.8M546.6 786.4v-0.8M548.9 786.4v-1.4M550.3 786.4v-1.7M554.1 786.4v-2.1M556.1 786.4v-2.2M559.6 786.4v-1.7M560.6 786.4v-0.9M567.5 786.4v-1.0M569.6 786.4v-1.3M570.9 786.4v-1.9M573.0 786.4v-0.9M576.4 786.4v-1.1M578.9 786.4v-2.0M582.2 786.4v-1.9M583.7 786.4v-0.8M589.9 786.4v-1.0M595.0 786.4v-0.8M597.1 786.4v-2.2M599.7 786.4v-0.9M600.6 786.4v-1.4M606.8 786.4v-1.3M607.2 786.4v-1.2M611.6 786.4v-0.8M613.2 786.4v-1.4M613.6 786.4v-1.2M614.4 786.4v-1.8M615.6 786.4v-1.2M617.3 786.4v-1.1M619.2 786.4v-2.1M544.0 786.4v-3.0" stroke="#1f9e2a" stroke-width="0.6" fill="none"/>
<rect x="543.6" y="788.2" width="0.7" height="1.6" fill="#4a54c0"/>
<text x="544" y="795.4" font-size="5.0" text-anchor="middle" fill="#111" textLength="6.8" lengthAdjust="spacingAndGlyphs">6083</text>
<rect x="554.6" y="788.2" width="0.7" height="1.6" fill="#4a54c0"/>
<text x="555" y="795.4" font-size="5.0" text-anchor="middle" fill="#111" textLength="6.8" lengthAdjust="spacingAndGlyphs">6084</text>
<text x="479.6" y="799.3" font-size="2.6" fill="#555">[0-88.00]</text>
<path d="M485.4 815.5v-0.9M488.0 815.5v-0.5M489.7 815.5v-0.8M499.5 815.5v-0.6M503.8 815.5v-0.5M508.9 815.5v-0.6M510.0 815.5v-0.5M512.2 815.5v-0.9M514.1 815.5v-0.5M516.5 815.5v-0.9M518.0 815.5v-0.4M519.8 815.5v-0.4M520.8 815.5v-0.6M523.9 815.5v-0.9M527.1 815.5v-0.6M528.1 815.5v-0.5M536.6 815.5v-0.5M542.6 815.5v-0.8M546.0 815.5v-0.5M549.7 815.5v-1.0M551.2 815.5v-0.8M553.7 815.5v-0.8M558.9 815.5v-0.5M564.6 815.5v-0.6M565.8 815.5v-0.9M574.7 815.5v-0.5M575.8 815.5v-0.9M576.9 815.5v-0.7M579.1 815.5v-0.5M585.6 815.5v-0.9M589.5 815.5v-1.0M594.8 815.5v-0.4M596.5 815.5v-0.6M604.9 815.5v-0.6M607.9 815.5v-0.7M612.4 815.5v-0.8M614.5 815.5v-0.8M617.3 815.5v-0.7M625.5 815.5v-0.4M482.8 815.5v-1.8M484.5 815.5v-1.3M489.2 815.5v-1.5M489.9 815.5v-0.9M494.8 815.5v-1.6M496.1 815.5v-0.8M498.7 815.5v-1.9M499.6 815.5v-1.3M502.3 815.5v-0.8M504.4 815.5v-0.9M507.5 815.5v-1.2M512.0 815.5v-1.2M516.1 815.5v-1.7M516.4 815.5v-1.0M517.3 815.5v-1.4M518.2 815.5v-1.1M519.3 815.5v-1.4M520.1 815.5v-0.8M526.7 815.5v-0.9M529.9 815.5v-1.0M531.2 815.5v-1.4M539.0 815.5v-0.9M542.7 815.5v-1.3M547.2 815.5v-0.9M548.0 815.5v-2.0M548.7 815.5v-0.9M551.0 815.5v-2.0M552.5 815.5v-0.9M554.4 815.5v-0.9M554.9 815.5v-1.8M556.2 815.5v-0.9M557.5 815.5v-1.8M558.2 815.5v-1.4M562.0 815.5v-2.0M562.3 815.5v-0.9M563.0 815.5v-0.9M566.7 815.5v-1.1M575.5 815.5v-1.0M577.9 815.5v-0.9M581.9 815.5v-1.5M582.6 815.5v-0.8M583.4 815.5v-1.0M584.2 815.5v-0.8M585.4 815.5v-1.2M586.2 815.5v-1.9M588.4 815.5v-1.8M590.4 815.5v-1.0M592.8 815.5v-1.3M595.7 815.5v-1.2M596.9 815.5v-1.0M599.7 815.5v-1.8M600.5 815.5v-1.5M601.4 815.5v-1.4M609.8 815.5v-0.8M610.6 815.5v-0.8M612.5 815.5v-1.2M613.2 815.5v-2.2M613.7 815.5v-0.8M619.3 815.5v-0.8M624.8 815.5v-0.8M500.0 815.5v-9.0M533.0 815.5v-16.0M610.0 815.5v-4.0M581.0 815.5v-3.0" stroke="#e02020" stroke-width="0.6" fill="none"/>
<rect x="499.6" y="817.3" width="0.7" height="1.6" fill="#4a54c0"/>
<text x="500" y="824.5" font-size="5.0" text-anchor="middle" fill="#111" textLength="6.8" lengthAdjust="spacingAndGlyphs">5846</text>
<rect x="532.6" y="817.3" width="0.7" height="1.6" fill="#4a54c0"/>
<text x="533" y="824.5" font-size="5.0" text-anchor="middle" fill="#111" textLength="6.8" lengthAdjust="spacingAndGlyphs">5847</text>
<rect x="547.6" y="817.3" width="0.7" height="1.6" fill="#4a54c0"/>
<text x="548" y="824.5" font-size="5.0" text-anchor="middle" fill="#111" textLength="6.8" lengthAdjust="spacingAndGlyphs">5848</text>
<rect x="580.6" y="817.3" width="0.7" height="1.6" fill="#4a54c0"/>
<text x="581" y="824.5" font-size="5.0" text-anchor="middle" fill="#111" textLength="6.8" lengthAdjust="spacingAndGlyphs">5849</text>
<rect x="607.6" y="817.3" width="0.7" height="1.6" fill="#4a54c0"/>
<text x="608" y="824.5" font-size="5.0" text-anchor="middle" fill="#111" textLength="6.8" lengthAdjust="spacingAndGlyphs">5850</text>
<text x="479.6" y="827.2" font-size="2.6" fill="#555">[0-88.00]</text>
<path d="M480.6 843.4v-1.0M483.3 843.4v-0.6M487.7 843.4v-0.5M489.8 843.4v-0.4M491.2 843.4v-0.8M493.2 843.4v-0.6M496.9 843.4v-0.6M498.3 843.4v-1.0M503.4 843.4v-0.6M506.7 843.4v-0.8M508.5 843.4v-0.6M512.0 843.4v-0.5M518.2 843.4v-1.0M520.5 843.4v-0.5M523.5 843.4v-0.7M529.4 843.4v-0.7M538.2 843.4v-1.0M545.5 843.4v-0.7M546.8 843.4v-1.0M550.4 843.4v-0.7M552.3 843.4v-0.9M554.0 843.4v-0.4M556.4 843.4v-0.8M557.6 843.4v-0.8M563.9 843.4v-1.0M565.7 843.4v-0.4M567.6 843.4v-0.9M571.6 843.4v-0.5M573.9 843.4v-0.7M576.3 843.4v-0.7M577.7 843.4v-0.5M586.9 843.4v-0.7M588.6 843.4v-0.5M593.7 843.4v-1.0M598.2 843.4v-0.9M601.2 843.4v-0.9M607.4 843.4v-0.8M614.1 843.4v-0.6M616.5 843.4v-0.6M619.0 843.4v-0.6M622.6 843.4v-0.7M625.9 843.4v-0.5M480.9 843.4v-1.0M481.6 843.4v-1.6M485.4 843.4v-0.9M488.5 843.4v-2.1M490.1 843.4v-1.8M490.9 843.4v-1.4M492.1 843.4v-2.1M494.3 843.4v-1.0M499.2 843.4v-0.8M501.8 843.4v-1.7M502.5 843.4v-1.7M503.7 843.4v-1.4M507.9 843.4v-0.8M513.9 843.4v-1.0M518.6 843.4v-1.2M520.9 843.4v-0.9M521.6 843.4v-1.9M525.1 843.4v-1.8M527.4 843.4v-2.1M528.3 843.4v-1.7M529.2 843.4v-1.3M532.3 843.4v-0.8M533.9 843.4v-0.8M540.7 843.4v-1.4M544.0 843.4v-1.1M544.6 843.4v-1.2M545.4 843.4v-2.0M548.4 843.4v-0.8M549.2 843.4v-1.9M549.7 843.4v-1.8M550.3 843.4v-1.1M551.5 843.4v-0.9M553.7 843.4v-1.1M555.0 843.4v-1.2M557.1 843.4v-1.0M560.8 843.4v-0.9M565.8 843.4v-1.7M568.5 843.4v-1.3M569.8 843.4v-1.9M570.6 843.4v-1.2M571.3 843.4v-0.8M572.1 843.4v-1.7M576.3 843.4v-1.0M579.4 843.4v-1.2M582.3 843.4v-0.9M582.7 843.4v-1.0M583.4 843.4v-1.0M587.0 843.4v-2.0M592.7 843.4v-1.0M593.4 843.4v-1.3M593.9 843.4v-0.8M595.4 843.4v-1.0M597.7 843.4v-1.3M599.1 843.4v-1.9M599.5 843.4v-1.7M602.6 843.4v-0.9M604.0 843.4v-1.1M608.6 843.4v-2.1M609.6 843.4v-2.1M610.6 843.4v-1.5M613.7 843.4v-0.9M614.7 843.4v-1.4M615.2 843.4v-0.9M616.9 843.4v-1.7M618.5 843.4v-1.3M619.6 843.4v-0.8M621.7 843.4v-0.9M622.2 843.4v-0.8M624.4 843.4v-0.8M512.0 843.4v-3.0M580.0 843.4v-2.0" stroke="#2530a8" stroke-width="0.6" fill="none"/>
<rect x="511.6" y="845.2" width="0.7" height="1.6" fill="#4a54c0"/>
<text x="512" y="852.4" font-size="5.0" text-anchor="middle" fill="#111" textLength="6.8" lengthAdjust="spacingAndGlyphs">5126</text>
<rect x="579.6" y="845.2" width="0.7" height="1.6" fill="#4a54c0"/>
<text x="580" y="852.4" font-size="5.0" text-anchor="middle" fill="#111" textLength="6.8" lengthAdjust="spacingAndGlyphs">5129</text>
<rect x="591.6" y="845.2" width="0.7" height="1.6" fill="#4a54c0"/>
<text x="592" y="852.4" font-size="5.0" text-anchor="middle" fill="#111" textLength="6.8" lengthAdjust="spacingAndGlyphs">5130</text>
<rect x="496.8" y="767.5" width="5.9" height="81.2" fill="none" stroke="#f6b74a" stroke-width="0.55" stroke-dasharray="1.1 0.8"/>
<rect x="530" y="767.5" width="6.5" height="81.2" fill="none" stroke="#f6b74a" stroke-width="0.55" stroke-dasharray="1.1 0.8"/>
<rect x="607.2" y="767.5" width="6.2" height="81.2" fill="none" stroke="#f6b74a" stroke-width="0.55" stroke-dasharray="1.1 0.8"/>
</svg></body></html>
